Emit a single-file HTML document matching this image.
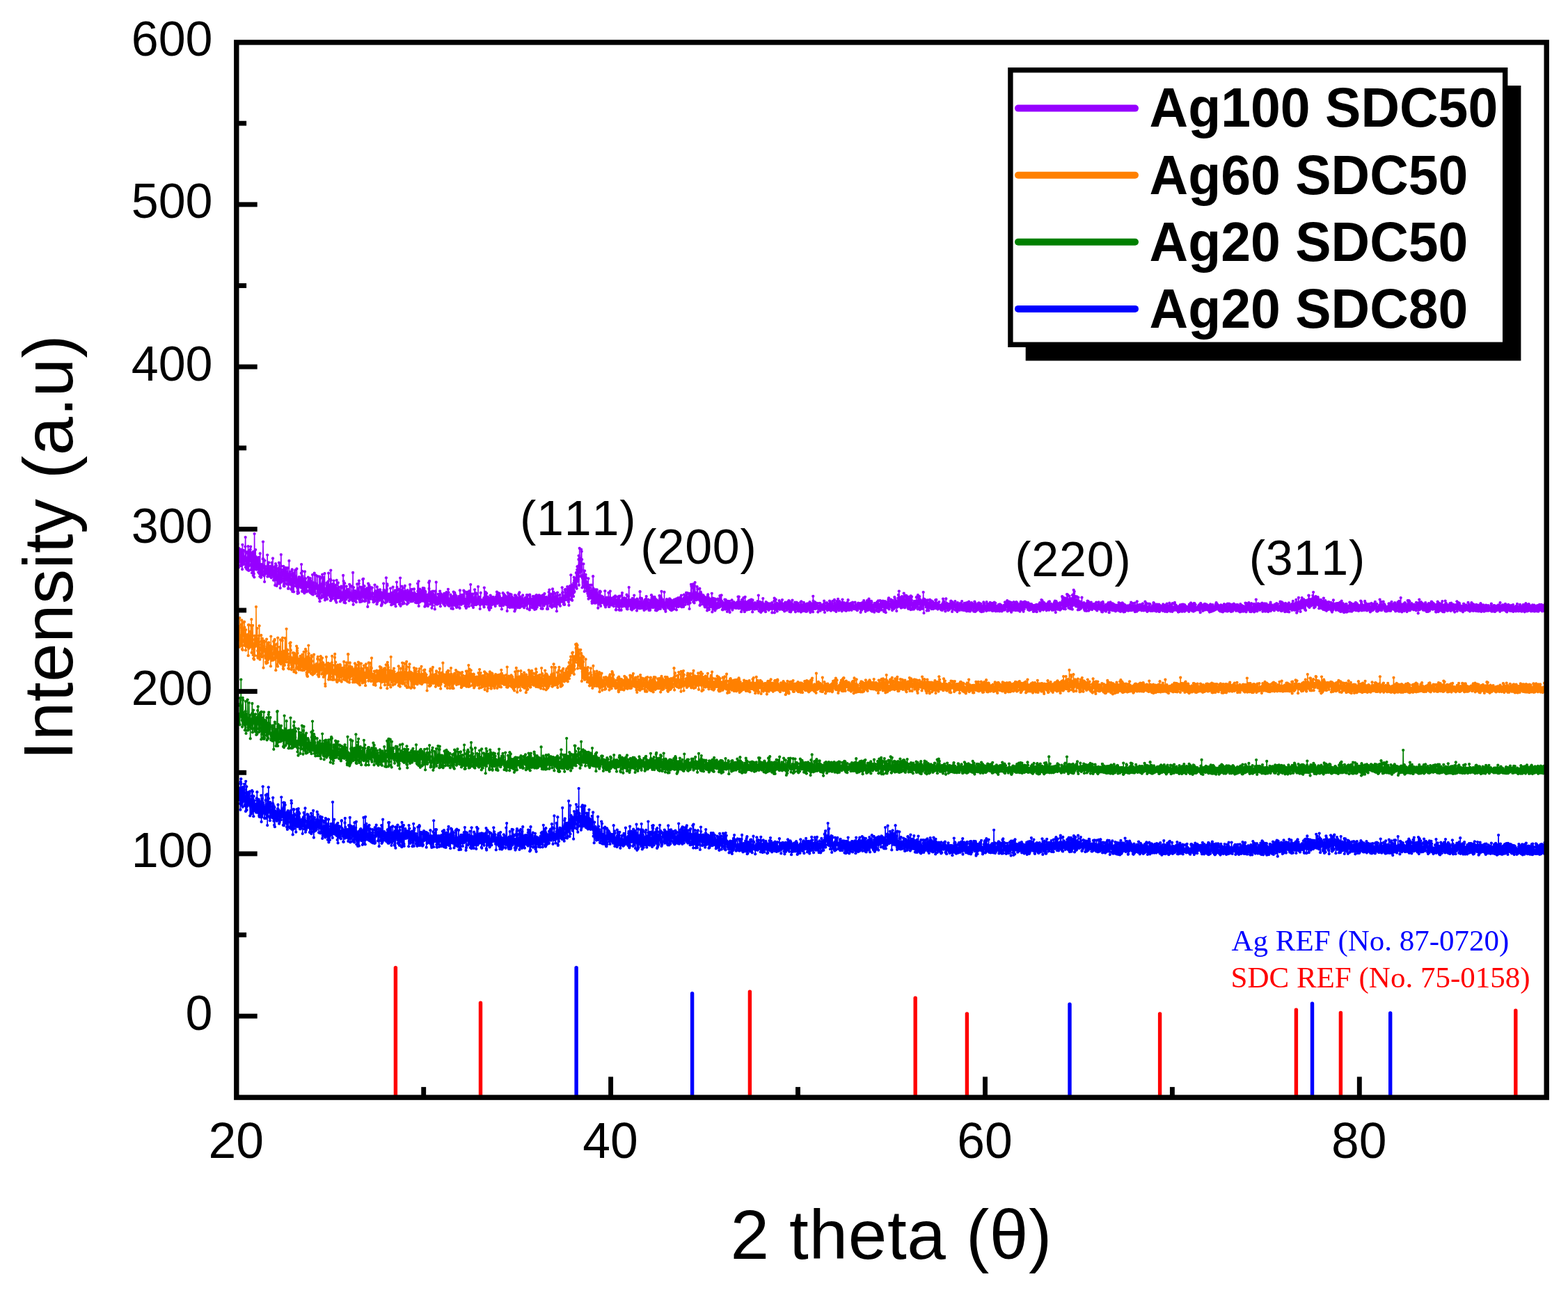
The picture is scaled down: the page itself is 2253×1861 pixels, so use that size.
<!DOCTYPE html>
<html lang="en"><head><meta charset="utf-8"><title>XRD patterns</title>
<style>html,body{margin:0;padding:0;background:#fff}body{width:2253px;height:1861px;overflow:hidden}svg{display:block}text{font-kerning:none;white-space:pre}</style></head>
<body>
<svg width="2253" height="1861" viewBox="0 0 2253 1861">
<defs>
<marker id="m0" markerUnits="userSpaceOnUse" markerWidth="80" markerHeight="80" refX="40" refY="40" overflow="visible"><circle cx="40" cy="40" r="21" fill="#9600ff"/></marker>
<marker id="m1" markerUnits="userSpaceOnUse" markerWidth="80" markerHeight="80" refX="40" refY="40" overflow="visible"><circle cx="40" cy="40" r="21" fill="#ff8000"/></marker>
<marker id="m2" markerUnits="userSpaceOnUse" markerWidth="80" markerHeight="80" refX="40" refY="40" overflow="visible"><circle cx="40" cy="40" r="21" fill="#008000"/></marker>
<marker id="m3" markerUnits="userSpaceOnUse" markerWidth="80" markerHeight="80" refX="40" refY="40" overflow="visible"><circle cx="40" cy="40" r="21" fill="#0000ff"/></marker>
<clipPath id="cp"><rect x="339.8" y="60.9" width="1882.4" height="1516.2"/></clipPath>
</defs>
<rect width="2253" height="1861" fill="#fff"/>
<g stroke-width="5.4" stroke-linecap="round">
<line x1="568.4" y1="1577.1" x2="568.4" y2="1390.6" stroke="#ff0000"/>
<line x1="690.5" y1="1577.1" x2="690.5" y2="1441.2" stroke="#ff0000"/>
<line x1="828.1" y1="1577.1" x2="828.1" y2="1390.6" stroke="#0000ff"/>
<line x1="994.6" y1="1577.1" x2="994.6" y2="1427.7" stroke="#0000ff"/>
<line x1="1077.4" y1="1577.1" x2="1077.4" y2="1425.1" stroke="#ff0000"/>
<line x1="1315.2" y1="1577.1" x2="1315.2" y2="1434.2" stroke="#ff0000"/>
<line x1="1389.4" y1="1577.1" x2="1389.4" y2="1456.9" stroke="#ff0000"/>
<line x1="1537.0" y1="1577.1" x2="1537.0" y2="1443.1" stroke="#0000ff"/>
<line x1="1666.6" y1="1577.1" x2="1666.6" y2="1456.9" stroke="#ff0000"/>
<line x1="1862.4" y1="1577.1" x2="1862.4" y2="1451.3" stroke="#ff0000"/>
<line x1="1885.5" y1="1577.1" x2="1885.5" y2="1442.2" stroke="#0000ff"/>
<line x1="1926.4" y1="1577.1" x2="1926.4" y2="1455.5" stroke="#ff0000"/>
<line x1="1997.7" y1="1577.1" x2="1997.7" y2="1455.9" stroke="#0000ff"/>
<line x1="2177.8" y1="1577.1" x2="2177.8" y2="1452.2" stroke="#ff0000"/>
</g>
<g clip-path="url(#cp)"><g fill="none" stroke-width="16" stroke-linejoin="round" transform="scale(0.1)">
<path stroke="#0000ff" marker-start="url(#m3)" marker-mid="url(#m3)" marker-end="url(#m3)" d="M3398,11459l3-95 2-113 3 172 3 97 2-235 3 5 3 33 3 167 2-55 3-52 3-119 2 58 3 173 3-161 2 112 3-85 3 123 2-103 3 168 3-135 2 223 3-404 3 239 3-279 2 69 3 154 3 156 2-135 3-105 3 75 2 1 3 118 3 71 2-281 3 46 3-51 2 23 3 164 3 18 3-54 2-114 3-80 3 128 2 106 3 77 3-21 2-110 3 48 3 163 2-431 3 253 3 62 3-48 2-191 3 337 3-50 2-41 3-159 3 89 2-25 3-68 3 135 2 35 3-157 3 171 2-81 3-82 3 130 3-65 2-73 3-26 3 349 2-238 3 105 3-94 2 27 3-32 3 18 2 162 3-231 3 254 3-164 2-169 3 291 3-211 2-66 3 287 3-214 2 84 3-21 3 221 2-290 3 182 3-5 2-19 3-1 3-94 3 146 2-54 3 10 3 32 2 5 3-90 3 22 2 99 3-58 3 56 2-201 3 3 3-93 2 264 3-137 3 23 3-12 2 159 3-91 3-47 2 74 3-126 3 95 2 133 3 21 3-181 2 122 3-160 3 97 3-24 2 51 3 91 3 8 2-128 3-183 3 380 2-153 3 3 3 78 2-29 3-235 3 159 2 0 3-331 3 234 3 28 2 118 3-94 3 31 2 47 3-12 3-59 2 161 3 2 3-158 2 0 3 93 3-193 3-74 2 193 3-29 3-28 2 197 3-138 3 87 2-124 3-171 3 447 2-211 3-42 3 121 2-51 3-116 3-249 3 163 2 151 3 1 3-97 2 51 3 74 3 96 2 40 3-142 3-119 2 27 3 99 3 72 2-23 3 0 3 40 3-39 2-117 3 71 3-15 2 84 3 17 3-201 2-83 3 99 3 198 2-123 3 161 3-77 3-130 2 266 3-250 3 156 2 119 3-149 3-18 2-61 3 27 3 21 2-11 3 32 3-43 2 63 3 33 3 22 3-105 2-32 3 84 3-122 2 149 3-208 3 155 2-85 3 75 3-20 2 7 3 141 3-152 3 131 2-27 3-117 3 54 2 24 3-95 3 84 2-34 3 77 3-128 2-199 3 223 3 43 2-52 3-45 3 31 3 79 2 6 3-109 3 227 2-151 3-174 3 66 2 94 3 170 3-30 2-265 3-31 3 216 2 10 3-196 3 244 3-90 2 48 3-85 3 28 2 35 3 86 3 3 2 51 3-96 3-119 2 247 3-229 3 104 3-143 2 100 3 134 3-160 2-11 3-35 3 85 2-65 3 24 3-5 2 98 3 83 3-222 2 203 3-195 3-35 3 97 2 152 3-393 3 36 2 374 3-47 3-125 2-24 3 21 3 183 2 70 3-182 3 18 2-108 3-94 3 9 3 214 2 57 3-209 3 155 2-143 3 57 3 46 2 52 3-93 3-1 2 102 3 83 3-241 3 114 2 36 3-235 3 45 2 99 3 83 3 21 2-155 3 60 3-144 2 24 3-43 3 256 2-206 3 121 3-43 3 105 2-164 3 105 3 109 2 11 3-42 3-39 2 60 3-83 3 25 2 67 3-128 3 101 3-38 2 27 3-79 3 73 2 122 3-143 3 14 2-74 3-30 3-5 2 128 3-192 3 110 2 124 3-157 3-42 3 188 2-115 3-173 3 306 2 38 3-85 3 40 2 14 3-35 3-26 2-67 3 93 3-71 2 70 3-190 3 96 3-38 2-31 3-18 3 183 2-125 3 89 3-4 2-43 3 8 3 72 2 71 3-222 3 88 3 46 2-69 3 109 3-103 2 158 3-280 3 294 2-127 3 55 3-186 2 130 3 14 3 30 2-15 3 70 3-109 3-195 2 123 3 90 3 175 2-121 3 23 3 9 2-200 3 175 3-70 2-35 3 80 3 20 3-50 2 67 3-5 3-148 2 123 3 15 3-35 2-81 3-137 3 167 2 15 3-74 3-72 2 180 3-86 3 88 3-77 2 158 3-99 3-3 2 33 3-106 3 82 2-16 3-124 3 20 2 221 3-104 3 84 2-54 3 11 3-135 3 142 2-21 3-154 3 51 2 255 3-87 3 47 2-26 3-9 3 33 2-100 3-33 3-77 3 21 2 152 3 12 3-62 2-46 3 90 3 70 2-7 3-269 3 270 2-36 3 13 3-231 2 234 3-107 3-44 3 134 2-107 3-42 3 226 2-206 3 99 3 14 2-199 3 0 3 329 2-32 3-52 3 17 3-116 2 88 3 61 3-159 2 13 3-51 3 117 2-151 3 163 3-70 2 12 3 14 3 22 2-53 3-90 3 142 3 61 2-514 3 356 3 63 2-91 3 20 3-26 2 121 3-105 3-88 2 208 3-18 3-17 2-72 3 107 3-28 3 32 2-117 3-1 3 69 2 56 3-144 3 157 2-52 3-18 3 13 2 118 3-109 3-133 3 286 2-169 3-76 3 23 2 119 3-34 3 60 2-148 3 92 3-5 2-101 3 152 3-40 2-16 3-28 3 45 3 66 2-96 3 22 3-181 2-7 3 106 3 54 2 21 3-53 3 43 2 55 3-96 3 28 3 145 2 5 3-107 3-41 2 26 3 37 3-31 2 64 3-224 3-65 2 167 3-38 3 35 2 69 3 48 3-115 3 84 2-21 3 27 3-6 2-88 3 16 3-1 2-14 3 113 3-95 2 149 3-40 3-72 2-116 3 175 3 16 3 2 2-48 3-77 3-180 2 111 3 244 3-122 2 63 3 4 3-175 2 3 3 101 3 13 3-17 2-40 3 157 3-136 2-52 3 116 3-79 2 66 3-69 3-62 2 205 3-16 3 11 2-7 3 38 3-284 3 187 2-76 3 127 3-113 2 51 3-103 3 158 2-111 3-134 3 231 2 96 3-55 3-104 2 6 3 6 3-19 3 190 2-34 3 23 3-141 2 86 3-84 3-60 2 207 3-132 3 41 2-3 3-69 3 24 3-95 2 98 3-14 3-94 2 91 3 49 3 29 2-104 3-44 3 85 2-59 3 31 3 150 2-64 3-129 3 117 3-104 2 109 3-320 3 194 2 181 3-205 3 148 2-107 3-101 3 96 2-28 3 208 3-397 3 327 2 1 3-151 3 118 2-195 3 52 3 171 2-150 3-29 3 144 2 24 3 0 3-36 2 3 3 51 3-83 3-113 2 201 3-140 3-74 2 219 3-84 3 31 2 61 3-174 3 52 2 58 3-23 3 37 2 29 3-26 3-37 3 103 2-61 3 27 3-25 2-124 3 77 3-29 2 145 3-64 3-124 2 79 3 77 3-18 3 25 2-45 3 70 3 4 2-33 3-194 3 219 2-145 3 55 3-2 2-16 3-41 3-105 2 146 3-86 3 67 3-30 2 3 3 13 3 9 2 14 3 91 3-177 2 173 3-173 3 82 2 91 3 82 3-158 3-38 2 25 3-82 3 71 2-40 3 68 3 72 2-50 3-59 3-42 2 150 3-218 3 259 2-71 3-44 3 98 3-43 2-115 3-168 3 231 2-30 3 24 3-14 2 88 3-106 3 7 2-25 3 63 3 7 2-16 3 47 3 22 3-58 2-30 3 32 3-21 2 19 3 33 3 45 2-127 3 69 3-24 2-24 3-60 3-9 3 137 2 60 3-47 3-248 2 282 3-177 3 190 2-297 3 102 3-23 2 58 3 88 3 56 2-108 3-71 3 29 3 16 2 35 3-117 3 265 2-68 3-104 3 133 2-46 3-66 3 36 2-161 3 92 3 43 3-23 2 101 3-6 3-116 2 70 3-51 3 154 2-173 3 188 3-213 2 95 3-148 3 300 2-235 3 84 3-40 3-109 2 155 3-25 3 29 2-111 3 56 3 80 2-215 3 262 3-133 2 27 3-56 3 0 2 168 3-175 3 97 3 101 2-62 3-200 3 43 2 221 3-158 3 49 2 43 3-56 3-42 2-7 3 117 3-16 3 93 2-353 3 59 3 123 2 43 3-152 3 249 2-154 3 45 3-29 2-144 3 145 3 125 2 31 3-128 3-40 3 3 2 51 3-77 3-58 2 30 3 109 3-76 2 54 3-20 3-27 2-40 3 28 3 75 2-66 3 49 3-76 3 21 2 11 3 10 3 18 2-71 3 223 3-302 2 84 3 143 3-183 2 213 3-118 3-24 3 109 2 32 3-15 3-99 2 29 3-73 3 52 2 45 3-26 3-57 2-26 3 114 3 102 2-90 3-13 3 12 3 35 2-97 3-172 3 159 2 162 3-229 3 70 2-96 3 103 3 36 2-63 3 79 3-21 3 43 2-39 3 85 3-146 2 136 3-102 3 4 2 0 3 139 3-77 2-11 3 83 3-268 2 262 3-34 3-23 3-49 2 29 3-22 3 32 2-218 3 15 3 270 2 2 3-114 3-75 2 29 3 34 3 45 2-75 3 114 3-147 3 129 2 46 3-19 3-38 2 69 3 10 3-65 2-127 3 177 3-154 2 70 3-14 3-104 3 74 2 26 3 40 3-23 2-68 3 80 3-20 2-11 3-28 3-51 2 108 3-41 3-4 2 155 3-188 3-22 3 154 2-89 3-24 3-10 2 67 3-89 3 86 2-59 3 62 3 45 2-15 3-24 3-59 3 36 2 34 3-50 3 76 2-33 3-143 3 196 2-120 3 26 3-13 2 44 3 93 3 21 2-129 3 39 3 38 3-6 2-54 3-38 3 27 2-103 3 60 3 159 2-379 3 298 3-75 2-46 3 108 3-27 2 41 3-3 3-24 3-143 2 82 3 71 3-62 2 82 3-173 3 216 2 34 3-124 3 129 2-90 3 12 3-86 3 114 2-51 3-60 3 115 2-43 3-4 3 5 2-79 3 158 3-21 2-60 3-48 3 14 2-14 3 35 3-23 3-20 2 7 3 122 3-158 2 159 3-92 3 17 2-40 3 92 3-191 2 190 3-113 3-71 3 102 2 109 3-215 3 28 2-45 3 232 3-122 2 132 3-142 3 115 2-84 3-88 3 103 2-82 3 183 3-166 3-2 2-45 3 177 3-159 2 48 3 71 3-121 2 144 3-17 3-187 2 214 3-42 3-215 2 157 3 48 3 67 3-44 2-74 3 118 3-27 2-128 3 39 3 157 2-88 3-123 3-74 2 120 3-41 3 126 3-193 2 185 3-78 3 24 2-96 3 0 3 119 2-21 3 68 3-71 2-46 3-35 3 71 2 146 3-127 3 35 3 15 2 46 3-107 3 39 2-15 3-136 3 217 2-126 3 19 3-114 2 170 3-186 3 193 2-62 3 108 3-94 3 106 2-43 3-70 3-15 2 1 3-108 3 199 2 82 3-119 3 20 2-84 3-4 3 79 3-8 2 81 3-113 3-1 2 145 3-210 3 3 2 46 3 66 3-3 2-65 3 16 3-63 2 47 3 115 3-159 3 95 2-42 3 47 3 12 2-32 3-119 3 140 2-34 3-66 3-112 2 188 3-2 3-7 3-110 2 72 3 188 3-192 2 155 3-179 3 67 2 4 3 0 3-105 2 66 3 4 3-41 2 148 3-82 3-22 3 19 2 65 3-30 3-98 2 127 3-2 3-51 2-24 3-103 3 235 2-97 3-59 3 109 2-102 3-15 3 177 3-300 2 159 3 44 3-69 2 156 3-159 3 18 2 28 3 8 3 106 2-31 3-129 3 165 3-232 2 158 3 17 3-94 2-56 3 99 3-37 2-2 3-30 3-7 2 133 3 5 3 56 2-73 3-57 3-180 3 130 2 63 3-48 3 110 2-84 3-152 3 150 2-16 3 82 3-49 2 15 3-70 3-5 3-29 2 126 3-51 3-80 2 39 3 62 3-95 2 124 3-38 3 32 2-48 3 119 3-202 2 214 3-200 3 141 3-71 2 24 3 36 3-61 2-63 3-13 3 83 2-69 3 116 3 37 2-129 3 77 3-3 2-2 3 2 3-37 3-58 2-11 3-14 3 112 2-184 3 293 3 22 2-189 3 51 3 23 2 47 3-216 3 185 3-43 2-12 3-30 3 83 2-6 3-90 3 85 2 44 3-189 3 135 2 81 3-19 3-28 2-69 3-3 3 69 3-62 2-89 3 105 3 23 2 42 3-109 3-20 2 61 3-9 3-26 2-44 3 64 3-10 3 38 2-36 3-160 3 174 2-4 3-110 3 79 2 53 3-60 3 65 2-98 3 78 3 58 2-27 3-19 3 131 3-164 2 79 3-57 3-34 2 22 3 20 3-44 2 39 3 64 3-67 2-71 3 59 3 0 2-84 3 107 3-27 3 108 2-48 3-49 3 12 2 124 3-192 3 29 2-79 3 128 3 43 2 38 3-133 3 39 3 94 2 37 3-133 3 113 2 8 3-24 3-126 2 38 3 9 3-8 2 92 3-181 3 47 2 52 3-48 3 23 3 65 2-116 3 101 3-68 2 43 3 95 3-68 2-12 3-212 3 185 2 51 3-301 3 215 3 66 2 4 3 32 3-6 2-50 3-13 3 86 2 16 3-142 3 161 2-64 3-109 3 43 2 129 3-122 3-127 3 163 2-63 3-13 3 161 2-178 3 165 3-118 2 29 3 47 3-62 2-162 3 229 3-10 2-60 3 60 3-215 3 191 2-48 3 20 3 4 2-95 3 16 3 89 2 16 3-56 3 126 2-91 3-31 3 152 3-36 2 3 3 8 3-187 2 179 3-204 3 152 2-189 3-30 3 212 2-122 3-12 3 152 2 11 3-65 3-1 3-43 2 96 3-44 3-17 2-141 3 271 3-228 2 164 3-77 3 45 2-60 3 115 3-250 2 238 3-81 3 41 3-135 2 126 3 83 3-84 2-156 3 132 3 80 2-280 3 205 3-72 2 40 3 60 3 58 3-85 2-51 3 82 3-15 2 83 3-184 3 98 2 31 3-104 3 73 2 1 3 1 3-17 2-3 3-83 3 122 3 11 2 5 3-71 3-32 2 41 3 80 3-194 2-36 3 168 3 7 2 20 3 14 3-75 3 23 2-151 3 301 3-149 2-89 3 70 3 152 2-335 3 281 3-33 2-134 3 33 3 89 2-78 3-28 3 41 3 57 2-24 3 44 3-164 2 211 3-83 3 14 2-40 3-22 3 34 2 0 3-2 3 96 2-125 3-34 3-37 3 141 2 87 3-172 3 140 2-141 3 205 3-212 2 102 3-72 3-9 2 22 3-8 3 56 3-72 2 11 3 84 3-100 2 4 3 126 3-120 2 71 3-46 3 58 2-18 3-15 3-1 2 76 3-47 3-115 3 80 2 38 3-160 3 134 2-86 3 104 3 5 2-87 3-85 3 174 2 43 3-177 3 102 3-135 2-105 3 146 3 88 2-51 3-56 3 107 2-174 3 96 3 134 2-71 3 0 3-118 2 207 3-264 3 73 3 169 2-51 3 29 3-85 2 71 3-14 3-98 2 19 3 12 3 99 2-24 3-109 3 73 2 45 3-40 3 48 3-167 2-8 3 90 3-33 2-34 3 69 3-104 2-17 3 127 3 35 2-47 3-46 3-32 3-34 2-76 3 202 3-153 2 118 3 47 3-51 2 124 3-102 3-54 2 16 3 9 3 73 2-168 3-179 3 310 3-18 2 31 3 25 3-84 2 70 3 58 3-85 2 2 3-25 3-23 2-156 3 123 3 97 3-104 2-34 3 120 3-289 2 387 3 20 3-190 2 99 3-69 3 65 2 36 3-89 3-68 2-4 3 74 3-108 3 29 2 100 3-115 3 51 2-54 3 40 3 69 2 31 3-65 3-18 2-24 3 122 3-48 2-404 3 295 3 122 3-151 2 61 3-58 3 170 2-47 3 49 3 37 2-119 3-177 3 53 2-80 3 144 3-4 3-70 2 208 3-68 3-130 2-13 3 120 3-64 2-25 3 13 3 171 2-191 3 161 3-96 2-95 3 85 3 40 3-39 2-400 3 441 3 1 2-65 3-28 3 161 2-192 3 25 3-278 2 409 3-197 3 86 2-106 3-49 3 42 3 139 2-165 3 16 3 160 2-150 3 13 3 164 2-155 3 73 3-46 2 75 3 172 3-234 3-69 2-94 3 84 3 137 2-153 3 172 3-122 2 65 3-70 3 63 2-131 3-12 3-132 2 204 3-98 3-16 3 111 2 154 3-56 3 30 2-97 3 165 3-283 2-79 3 278 3-136 2-407 3 355 3 28 3-23 2 124 3-32 3 83 2-125 3 28 3-37 2 138 3-12 3 70 2-123 3 96 3-306 2 140 3 142 3-21 3-12 2-272 3 46 3 140 2-123 3 114 3 123 2-58 3 45 3-75 2-201 3 278 3-68 2 26 3-238 3 258 3-98 2 43 3-9 3 117 2-30 3 5 3-42 2-140 3 163 3 50 2-85 3-101 3 96 3 83 2 25 3-231 3 144 2 78 3-152 3 105 2-225 3 205 3-30 2 77 3-22 3-36 2-60 3 122 3 29 3-135 2 12 3 88 3-39 2 8 3 56 3-24 2-158 3 145 3-87 2 100 3-74 3-138 3 255 2 88 3-121 3 76 2-80 3 221 3-169 2-129 3 99 3 132 2-115 3 75 3-50 2-75 3 105 3-64 3-17 2 171 3-51 3-72 2-44 3 57 3 89 2-20 3-24 3-274 2 260 3 72 3-62 2-130 3 133 3 26 3-95 2-19 3 44 3 33 2 109 3 3 3-151 2 6 3 33 3-14 2 63 3-30 3-213 3 187 2 93 3-250 3 290 2-93 3-7 3 49 2-49 3-34 3 136 2-135 3 15 3-107 2 166 3 59 3-125 3 62 2 56 3-232 3 21 2 195 3 24 3-79 2 98 3-128 3 143 2 5 3-136 3-126 3 203 2 29 3-169 3-37 2 62 3 72 3-34 2-88 3 89 3-83 2 83 3-71 3 6 2 131 3-93 3 18 3 108 2-143 3 50 3-49 2 58 3-34 3 34 2 34 3-31 3-54 2 76 3 24 3-80 2 70 3-93 3 47 3 62 2 18 3-48 3-208 2 236 3-27 3-25 2 58 3-160 3 217 2-188 3 67 3 87 3 4 2-34 3-29 3 88 2-21 3-61 3-35 2 84 3 48 3-245 2 84 3 145 3-198 2 52 3 115 3-130 3 15 2 111 3-2 3 22 2-130 3 82 3-134 2 101 3 53 3-22 2 98 3-39 3-33 2-50 3 24 3-41 3 82 2-44 3-76 3-1 2 55 3 71 3-63 2 20 3 10 3 54 2-2 3-42 3-114 3-20 2 122 3 42 3-150 2 106 3-42 3 45 2-56 3 7 3-156 2 223 3-15 3-69 2 74 3-21 3-46 3 18 2 38 3 37 3-95 2 80 3-70 3-33 2 135 3-15 3-161 2-27 3 107 3-4 3 130 2-115 3-69 3-122 2 106 3 171 3-149 2 16 3 26 3 30 2-124 3 146 3-152 2 147 3-42 3 10 3-15 2-46 3 28 3-61 2 193 3-199 3-45 2 228 3-127 3-3 2 105 3-155 3 90 2-32 3-31 3-50 3 249 2-89 3-46 3 39 2-28 3 5 3-225 2 127 3 4 3 240 2-215 3 116 3-41 3-42 2 164 3-286 3 164 2 103 3-144 3 28 2 45 3-13 3-32 2-59 3 99 3 32 2-79 3-135 3 206 3-63 2-89 3 67 3 120 2-323 3 190 3 45 2-41 3 170 3-58 2-222 3 139 3-62 3 46 2-101 3 233 3-88 2 14 3-67 3 95 2-9 3 7 3-62 2 73 3-115 3 77 2-142 3 66 3-100 3 102 2 56 3 55 3 35 2-78 3-23 3-62 2 56 3 67 3-53 2-22 3-256 3 161 2 145 3-120 3 148 3-57 2-93 3 156 3-10 2-178 3 16 3 70 2 60 3 41 3-71 2 19 3-10 3 37 3-125 2-5 3-37 3 217 2-305 3 30 3 148 2-141 3 230 3-270 2 178 3-5 3 111 2-7 3-117 3 66 3-114 2-9 3 8 3-8 2 113 3 28 3-23 2-130 3 111 3 55 2-200 3 85 3 87 3 98 2-287 3 48 3 63 2 156 3-170 3 134 2-75 3-24 3 104 2-143 3 65 3-65 2 7 3-40 3-104 3 93 2 126 3-107 3-28 2 164 3-56 3 20 2 26 3 63 3-33 2-19 3 30 3-174 2 10 3 50 3-52 3 44 2-17 3 10 3 85 2-127 3 70 3 56 2-25 3-141 3 140 2 51 3-97 3-54 3 69 2-30 3-55 3 113 2 47 3-68 3 58 2-138 3 113 3-39 2-74 3 110 3 61 2 10 3-138 3-141 3 158 2-18 3 63 3-130 2 208 3-82 3 55 2-189 3 162 3-54 2 2 3 87 3-44 3-87 2-71 3 112 3-73 2 70 3-10 3 4 2 64 3-57 3-4 2 3 3-42 3-43 2 60 3 19 3 87 3-70 2-10 3 74 3-91 2 117 3-102 3-52 2-7 3-38 3 134 2 48 3-23 3 16 2-72 3-11 3 29 3-19 2-76 3 117 3 22 2-7 3 26 3-73 2-41 3 73 3 39 2-281 3 206 3 85 3-163 2 103 3-88 3 107 2-158 3 93 3-33 2 58 3-84 3 140 2-71 3 30 3-154 2 205 3-122 3 30 3 109 2-246 3 153 3-44 2 109 3-211 3 187 2-131 3 17 3 151 2-178 3 118 3 11 2-65 3 74 3-148 3 81 2-113 3 143 3 36 2-25 3-12 3-149 2 208 3-231 3 116 2 50 3 18 3 17 3 51 2-80 3-103 3 167 2-126 3 136 3-61 2-66 3 41 3 32 2 56 3-108 3-75 2 214 3-118 3-115 3 133 2-18 3-15 3 4 2-23 3 146 3-41 2-35 3 74 3-96 2-8 3-168 3 196 3-9 2 136 3-340 3 222 2-7 3-75 3 45 2 67 3-96 3 129 2-201 3 59 3 117 2-77 3 157 3-94 3-65 2-43 3-11 3 182 2-120 3 28 3 119 2-242 3 55 3 98 2-159 3 205 3-54 2 11 3-24 3-53 3 62 2-27 3-35 3 115 2-136 3 212 3-204 2 32 3 20 3-173 2 66 3 128 3-73 3 84 2-87 3 70 3 79 2-46 3 38 3-138 2 140 3-151 3 25 2 84 3-48 3 26 2-2 3-5 3 12 3 53 2-137 3 38 3 136 2-75 3-22 3-108 2-51 3 154 3-40 2 105 3-73 3-34 3 48 2-78 3-7 3 126 2 7 3-87 3-39 2 121 3-89 3 62 2 90 3-75 3-33 2 103 3-87 3-58 3-1 2 63 3-87 3 53 2 89 3-124 3-60 2 20 3 104 3 54 2-167 3 7 3 62 2 102 3-131 3 109 3-157 2 1 3 147 3-39 2 60 3-15 3-23 2-33 3 43 3-113 2 39 3 90 3-69 3 49 2-21 3 27 3 78 2-33 3-87 3 98 2-69 3-8 3-79 2 166 3-20 3-14 2-125 3 4 3 106 3-47 2-25 3 116 3-11 2 52 3-125 3 123 2-237 3 69 3 2 2-17 3 89 3-91 3 29 2 83 3-130 3 133 2 60 3-62 3-28 2-59 3 113 3-4 2-2 3 0 3-189 2 142 3-29 3 8 3-63 2 73 3-75 3 167 2-197 3 101 3 42 2 27 3 36 3 7 2-244 3 111 3 11 2-10 3-74 3 76 3 47 2-43 3 47 3-17 2-14 3 69 3-24 2 7 3 44 3-89 2 43 3-52 3 152 3-58 2-48 3 34 3-58 2 68 3-106 3 71 2-29 3 119 3-43 2-98 3 11 3 8 2 86 3 27 3 31 3-177 2 70 3-3 3 65 2-141 3 13 3 6 2-45 3-14 3 156 2-27 3-171 3 164 2-19 3-64 3 33 3-47 2 17 3-4 3 80 2 61 3 5 3-74 2 17 3-13 3 36 2 2 3-46 3-96 3 94 2-13 3 13 3 33 2 39 3-28 3-5 2-21 3-3 3 65 2-168 3 20 3 86 2 2 3-25 3-10 3-64 2 106 3 26 3 19 2-29 3-130 3 149 2-210 3 146 3 20 2 26 3 26 3 28 3-87 2-32 3 42 3 2 2 10 3-62 3 104 2-12 3-21 3-7 2-22 3 74 3-30 2-120 3 36 3 75 3 8 2-74 3-78 3 49 2 135 3-213 3 250 2-99 3 46 3 41 2-145 3-13 3 59 2-32 3 77 3-63 3 57 2-94 3 65 3 13 2 51 3-132 3 13 2-45 3 88 3-90 2 152 3-154 3 165 3-22 2 20 3-47 3 70 2-76 3-38 3 29 2-34 3-36 3-6 2-75 3 174 3-22 2-67 3 102 3-26 3-10 2-1 3 22 3 7 2 77 3-82 3-32 2 56 3-70 3 33 2-46 3 55 3-154 3 46 2 121 3 8 3 8 2 0 3-82 3-18 2-38 3-7 3 99 2-57 3 69 3-22 2 38 3-18 3-8 3-58 2 34 3-13 3 108 2-168 3-47 3 138 2-78 3 78 3 38 2-22 3 30 3-43 2-37 3 119 3-22 3-76 2 10 3-90 3 52 2 96 3-29 3-35 2-48 3 136 3-57 2-25 3 10 3-31 3-27 2 33 3-60 3 119 2-11 3-35 3-47 2 69 3-41 3-4 2 125 3-133 3 53 2 72 3-60 3-13 3 24 2-39 3 15 3-30 2 53 3-78 3-45 2 27 3 115 3-45 2 1 3-139 3 146 3-47 2-53 3 129 3-74 2 65 3-89 3 127 2-23 3 13 3-122 2 89 3-43 3 3 2-38 3 38 3 37 3-87 2 64 3-52 3 51 2-38 3 93 3-117 2-16 3 133 3-67 2 47 3-41 3-35 2 94 3-116 3 128 3-128 2 42 3 52 3-100 2-2 3 102 3-24 2 40 3-36 3 45 2-18 3 13 3-61 3 40 2-153 3 151 3-43 2 43 3 2 3-82 2-3 3 93 3-84 2 135 3-148 3 89 2-14 3-46 3 24 3-9 2 9 3 1 3-62 2 25 3 21 3 5 2 17 3 17 3 42 2-48 3-26 3 80 2 32 3-159 3 93 3-65 2-18 3 106 3 9 2-131 3 57 3 46 2-61 3 4 3 44 2-36 3 54 3-99 3 38 2-91 3 146 3-4 2 10 3-122 3 73 2-52 3 0 3 123 2-44 3-66 3 34 2 8 3-87 3 104 3-88 2 80 3-70 3 72 2 101 3-99 3 52 2 6 3-108 3 67 2-29 3 66 3-31 3 21 2-43 3-18 3-45 2 42 3-7 3 79 2-57 3-64 3 37 2 63 3-21 3-54 2 53 3-79 3 121 3-126 2-16 3 103 3-22 2-53 3-1 3 26 2 134 3-130 3-2 2 60 3 57 3-24 2-84 3 17 3 29 3-25 2 33 3-46 3 59 2-71 3 107 3-123 2-11 3-62 3 109 2-35 3 18 3 46 3 21 2-50 3-27 3-3 2 26 3 14 3 48 2-133 3 92 3-69 2-31 3 71 3-77 2 44 3 135 3-158 3 98 2-2 3-84 3 49 2-17 3-25 3 69 2 7 3-150 3 131 2 5 3-96 3 9 3 37 2 29 3 81 3-97 2 29 3 46 3-45 2-44 3-45 3 64 2-36 3-11 3 39 2 50 3 71 3-33 3-33 2-84 3 35 3-54 2 56 3-70 3 23 2 101 3-105 3-73 2 78 3 114 3-54 2-94 3 90 3 25 3-6 2-30 3-18 3 31 2 88 3-101 3 1 2-37 3 32 3-31 2-84 3 108 3 18 3-92 2 124 3 23 3 3 2-29 3-8 3-65 2 22 3 9 3-117 2 73 3 12 3 60 2 25 3-23 3 46 3-81 2 38 3-4 3 77 2-12 3-58 3-98 2 42 3 7 3 39 2 3 3 11 3 68 3-76 2-47 3 5 3-38 2-49 3 77 3 0 2 18 3 82 3-86 2-34 3 28 3 38 2-47 3-46 3 139 3-91 2 50 3-104 3 32 2-114 3 182 3-136 2-61 3 109 3-143 2 234 3-83 3-51 2 31 3 0 3-64 3 24 2 34 3-16 3-24 2 115 3-3 3-309 2 302 3-21 3-191 2 148 3 51 3-211 3 148 2 99 3-125 3 59 2 46 3 6 3 61 2-49 3-99 3 57 2 36 3-135 3 59 2-29 3 207 3-106 3-124 2 22 3 98 3 44 2-58 3 67 3-23 2-31 3-9 3 13 2-21 3 93 3-26 3-87 2 125 3-190 3 149 2-57 3-22 3 107 2-124 3 122 3-160 2 77 3-48 3 41 2 17 3-6 3-93 3 98 2-13 3 13 3 63 2-74 3 3 3 33 2 21 3-49 3-18 2-7 3 29 3-67 2 114 3 37 3-164 3 116 2-4 3-81 3 63 2-42 3 93 3-44 2 33 3-35 3 65 2-74 3 15 3-80 3 25 2 51 3-49 3 52 2 20 3 3 3 8 2-107 3 170 3-93 2-8 3-14 3-5 2 56 3-40 3 110 3-65 2-84 3-25 3 144 2-82 3 96 3-29 2 33 3-110 3 80 2-114 3-70 3 77 2 64 3-66 3 93 3-63 2 123 3-155 3 31 2 65 3-46 3-41 2 79 3 39 3-35 2 6 3-74 3 39 3 25 2-51 3-55 3 101 2 7 3-108 3 153 2-78 3 23 3-18 2-2 3-44 3-25 2 59 3 50 3-49 3-25 2 73 3-124 3 118 2 24 3-19 3 55 2-114 3-44 3-67 2 138 3-45 3 54 3-76 2 48 3 79 3-34 2-68 3-42 3 114 2 35 3-55 3-98 2 67 3-23 3 16 2-82 3 166 3-195 3 131 2-10 3-40 3 90 2 6 3-14 3-114 2 65 3-27 3 47 2-84 3 62 3-127 2 100 3 109 3-76 3 21 2-97 3 98 3-20 2-116 3 150 3-10 2-77 3-21 3 122 2-140 3 162 3-49 3-10 2 70 3-189 3 177 2-95 3 114 3-63 2-79 3 82 3-62 2-28 3 103 3-57 2-56 3 132 3-118 3-25 2 93 3-32 3 70 2-58 3-33 3-82 2 67 3 37 3 110 2-179 3 106 3-92 3 3 2 86 3-113 3 118 2-86 3 88 3-174 2 103 3-5 3 8 2 39 3-23 3 25 2 50 3 3 3 15 3-196 2 1 3 48 3 60 2 49 3 60 3-164 2 147 3-67 3 57 2-124 3-42 3 13 2 129 3-5 3-136 3 153 2-148 3-7 3-12 2 60 3 25 3 21 2-54 3-35 3 167 2-86 3-107 3 102 3 12 2-11 3-65 3-27 2 81 3-60 3 51 2-22 3 40 3-11 2 59 3-115 3-44 2 47 3 0 3-41 3 66 2 25 3-80 3 63 2-1 3-35 3 105 2 23 3-97 3 72 2-53 3 86 3-109 3 57 2-102 3 92 3-69 2-172 3 237 3-108 2 174 3-56 3-59 2 63 3-13 3 15 2-53 3-105 3 7 3 114 2-240 3 230 3-51 2 62 3-82 3-32 2 128 3-86 3 79 2 0 3-64 3 58 2-161 3 130 3-36 3-51 2 59 3-23 3-6 2 59 3-104 3 238 2-103 3-91 3-51 2 74 3-110 3 197 3 8 2-116 3-25 3 122 2-68 3 28 3-13 2-85 3 70 3 46 2-75 3 39 3 84 2-283 3 98 3 121 3-124 2 170 3-21 3 15 2-107 3 163 3 32 2-64 3-199 3 203 2-43 3-21 3 109 2-4 3-22 3 6 3 11 2 9 3-241 3 96 2 106 3-46 3 63 2 30 3-100 3 64 2 37 3-173 3 163 3-22 2-17 3-46 3 8 2 1 3 79 3-76 2-20 3 1 3-7 2 49 3-97 3 149 2-42 3-85 3 75 3 42 2-32 3 77 3-88 2 82 3-147 3-15 2 3 3 70 3 16 2-39 3 52 3 56 3-36 2-98 3 47 3 83 2-86 3-109 3 5 2 94 3-15 3 82 2-29 3-119 3 52 2 35 3 10 3 32 3-78 2 94 3 42 3-15 2-214 3 157 3-83 2 19 3 40 3-69 2 104 3-40 3 72 2-113 3 31 3-25 3-34 2 46 3 74 3-42 2-56 3 82 3-149 2 189 3-47 3-30 2 59 3-102 3 163 3 3 2-164 3 13 3 68 2 26 3 41 3-118 2 44 3 57 3 36 2-161 3-21 3 55 2 68 3-54 3 95 3-216 2 192 3-79 3 53 2 49 3-87 3-33 2 24 3-35 3 150 2-142 3 40 3 52 3-37 2 103 3-194 3 72 2 68 3-36 3 74 2-6 3-55 3 2 2 7 3-30 3 48 2-145 3 44 3 54 3 82 2-69 3-101 3 63 2-68 3 66 3-20 2 102 3-42 3 15 2-33 3-92 3 129 2-31 3-22 3 56 3-54 2 54 3-14 3-136 2 123 3-59 3-23 2 139 3-25 3 1 2-70 3 69 3 52 3-103 2-60 3-19 3 91 2-18 3 69 3-179 2 98 3-36 3 60 2 27 3-116 3 161 2-66 3-62 3 10 3 92 2-112 3 66 3 24 2 57 3-49 3-12 2-53 3-94 3 124 2-35 3-25 3 130 3-46 2-111 3 165 3-104 2 60 3 80 3-216 2 155 3-82 3 79 2-109 3 51 3-36 2 39 3-9 3 105 3-116 2 69 3-8 3-74 2 52 3 27 3 22 2-117 3 100 3-24 2-27 3 54 3-91 2 121 3-26 3-19 3-84 2 109 3-62 3 107 2-160 3 55 3 93 2-70 3-11 3-2 2 27 3-48 3 49 3 7 2-50 3 40 3-72 2 85 3-85 3 11 2-25 3 79 3-78 2 28 3-42 3 52 2 31 3 75 3-11 3-62 2-24 3 49 3 67 2-69 3 2 3-37 2 13 3 19 3-46 2 38 3-45 3-34 2 95 3-38 3 56 3 3 2 4 3 12 3-12 2 26 3-107 3 9 2-11 3 0 3 101 2-59 3 53 3-89 3 52 2-44 3 48 3-61 2 88 3 53 3-64 2 28 3-70 3 6 2 26 3-51 3 14 2-5 3-131 3 189 3-117 2 24 3 20 3-58 2 10 3 106 3 39 2-86 3-24 3 56 2 63 3-76 3 62 3-34 2-16 3 31 3-94 2 53 3 58 3-58 2 63 3-22 3 18 2-47 3-93 3 122 2-16 3-72 3 61 3 29 2-54 3-68 3 134 2-141 3 38 3-7 2 49 3 38 3-1 2-131 3 15 3 91 2 31 3-24 3-154 3 225 2-119 3-6 3 61 2-5 3-31 3-73 2 15 3 103 3-19 2-5 3-29 3-4 3-14 2-19 3 105 3-41 2 57 3-132 3-2 2 120 3-136 3 20 2 69 3-93 3 103 2-8 3 60 3-40 3 9 2 43 3-52 3-38 2 3 3 26 3 39 2-117 3 140 3-115 2-59 3 138 3-30 3-82 2 155 3-184 3 47 2 65 3 34 3 11 2-25 3-7 3-94 2 36 3-8 3 26 2-52 3 63 3-7 3 24 2-114 3 104 3-68 2 4 3 56 3 47 2-80 3-18 3 36 2-80 3 22 3 86 2 99 3-23 3-132 3-10 2 70 3-39 3-28 2 137 3-72 3 30 2-96 3 28 3 5 2-6 3 35 3-66 3 85 2-40 3-43 3 81 2-53 3-53 3 81 2 5 3-79 3 64 2 42 3-2 3-140 2 145 3-27 3 0 3-16 2 48 3-54 3 101 2-31 3 9 3 2 2 1 3-4 3-119 2 74 3-35 3 26 3-101 2 85 3-101 3 30 2 89 3 56 3-17 2-47 3 2 3-30 2-114 3 37 3 57 2 63 3 24 3-92 3 94 2-92 3 35 3-27 2 24 3 40 3-148 2 109 3 28 3 48 2-28 3-54 3 24 2-32 3 65 3-77 3 55 2 51 3-103 3 55 2-14 3 52 3-3 2-113 3 4 3 118 2-128 3 117 3-84 3 96 2-19 3 7 3 16 2-50 3-277 3 290 2 9 3-93 3-18 2-3 3 112 3 36 2-50 3-91 3 103 3-17 2 32 3-45 3 16 2-15 3 3 3-26 2 45 3-12 3-88 2 30 3 11 3-34 3 59 2-88 3 121 3 49 2-159 3 127 3-126 2 31 3 9 3 20 2-44 3 131 3-65 2-57 3 32 3-41 3 1 2 109 3-21 3 56 2-142 3-7 3-49 2 89 3-56 3-48 2 69 3 139 3-105 2-53 3 58 3 25 3-3 2 29 3 7 3-105 2 102 3-52 3-1 2 0 3 61 3 30 2 14 3-114 3 37 3-4 2-5 3-65 3 56 2 9 3 73 3-52 2 46 3-99 3 79 2-50 3 82 3-27 2-2 3-37 3-42 3-54 2 15 3 84 3 16 2-10 3-102 3 193 2-210 3 80 3 2 2-9 3 41 3-11 2-11 3-91 3 2 3 126 2 38 3-119 3 10 2 144 3-142 3 59 2-39 3-66 3-3 2-19 3 197 3-212 3 113 2 16 3-45 3 3 2 30 3-52 3 85 2-53 3 51 3-14 2-64 3 35 3-20 2 99 3-6 3-40 3-54 2 10 3-21 3 91 2-85 3 43 3 45 2-117 3 9 3 60 2-42 3 57 3 25 3-101 2 2 3 42 3-14 2-28 3-22 3 153 2-88 3 44 3-84 2 73 3 40 3-38 2 12 3-18 3-3 3-33 2 50 3-11 3 68 2-104 3-20 3 77 2-56 3 66 3-90 2 45 3 71 3-81 2 37 3 21 3-46 3-81 2 59 3 116 3-141 2 63 3-43 3 54 2 36 3-152 3 144 2-10 3-133 3 102 3 60 2 10 3-112 3 94 2-161 3 120 3 2 2-87 3 58 3-51 2 60 3 32 3-184 2 124 3 25 3 23 3 5 2-69 3 3 3-50 2 114 3-60 3 13 2 40 3 21 3-165 2 102 3 29 3 29 3-13 2 50 3 7 3-71 2-58 3 78 3-95 2 73 3-65 3-4 2 8 3 97 3-21 2-99 3 97 3-38 3-52 2 18 3 40 3-47 2 122 3 6 3-97 2 97 3-86 3 22 2 13 3-97 3 84 2 7 3 30 3-43 3 30 2 25 3-100 3 40 2 20 3-9 3-62 2 16 3 29 3-124 2 107 3 38 3 81 3-135 2-11 3 25 3 66 2-129 3-4 3 112 2-102 3-14 3 1 2 153 3-39 3-5 2 1 3 67 3-128 3 15 2 115 3-6 3-79 2-79 3-45 3 141 2-14 3 9 3-25 2-22 3-24 3 36 3 75 2-47 3 29 3-107 2 118 3-117 3 10 2 79 3-54 3 43 2 9 3-19 3-38 2 21 3 39 3-95 3-25 2 160 3-83 3-2 2 52 3-62 3-23 2 58 3-59 3 38 2 38 3 45 3-176 2 122 3-3 3-29 3 30 2-76 3 53 3 35 2-59 3-31 3-49 2 119 3-60 3-86 2 70 3-23 3 108 3-48 2-24 3 107 3-62 2 30 3-135 3 85 2-5 3 13 3 37 2 40 3-50 3-62 2 31 3 49 3-60 3-28 2 52 3-3 3-114 2-33 3 92 3-58 2 154 3 10 3-61 2 13 3 57 3-60 2-1 3-38 3 117 3 2 2-205 3 152 3-72 2 73 3-26 3-73 2 94 3-4 3-53 2 43 3 1 3-45 3 91 2-94 3 64 3 2 2 10 3-86 3 60 2-21 3-36 3 83 2-31 3-98 3 22 2-4 3 124 3 3 3-86 2-70 3 126 3-88 2-55 3 155 3 41 2-82 3 93 3-125 2 64 3 49 3-161 3-16 2 4 3-18 3 77 2 67 3 54 3-23 2-43 3-74 3 67 2-106 3 119 3-86 2-17 3 110 3 5 3-57 2-121 3 47 3-39 2 22 3 204 3-53 2-42 3-107 3 54 2-65 3 53 3 93 2-35 3 75 3-92 3-9 2 92 3-67 3 41 2-104 3 109 3-47 2 15 3-149 3 139 2 11 3-46 3 51 3-25 2 44 3 9 3-12 2-76 3 27 3-78 2 96 3 4 3-121 2 141 3-90 3 56 2 30 3-23 3 87 3-8 2-53 3-47 3 44 2-21 3 51 3-79 2-46 3 101 3-1 2-19 3 13 3-59 3-13 2-14 3 44 3 20 2 97 3-99 3 28 2 0 3-62 3 44 2 34 3-101 3 141 2 9 3-17 3-84 3 51 2-3 3 20 3-83 2 100 3-133 3 3 2 72 3-103 3 26 2-23 3 31 3 68 2 40 3-2 3-72 3 32 2 25 3 1 3 4 2 3 3-62 3 106 2-71 3-39 3 14 2 95 3-30 3 9 3-27 2 37 3-145 3 45 2 72 3-106 3 128 2-82 3-61 3 136 2-80 3-4 3 71 2-16 3-19 3 42 3 5 2 21 3 5 3-158 2 90 3-16 3 44 2 6 3 36 3-97 2 87 3 16 3-15 3-65 2-94 3 148 3-80 2 63 3-16 3 7 2 45 3-156 3 76 2-91 3 129 3-130 2 102 3 56 3-36 3-41 2 48 3-87 3 40 2 2 3 3 3 104 2-49 3 2 3-56 2-46 3 96 3 45 2-47 3-11 3 5 3 12 2-23 3-72 3 52 2-47 3 141 3-23 2-39 3 18 3-73 2 62 3 39 3-48 3 4 2-99 3 115 3-51 2-87 3 119 3-46 2 72 3 15 3-32 2-24 3 30 3-5 2-125 3 155 3-117 3 5 2 159 3-123 3-48 2 0 3 73 3-3 2-13 3-51 3 81 2-68 3 118 3-76 2 26 3-113 3 92 3-8 2 98 3-71 3-5 2 73 3-97 3 12 2-23 3 2 3 6 2 74 3-81 3 109 3-165 2 78 3-38 3 113 2-40 3-97 3 17 2 84 3 58 3-167 2 143 3-75 3-39 2 74 3 23 3-4 3 48 2-23 3-44 3-81 2-16 3 87 3 11 2 2 3-96 3 166 2-81 3 1 3-85 3 130 2-170 3 66 3-24 2 146 3-2 3-148 2 24 3 104 3-103 2 41 3-1 3-69 2 84 3 23 3-1 3 9 2-106 3 63 3 21 2 17 3-30 3-50 2 87 3-184 3 138 2 13 3-45 3 89 2-8 3-48 3 41 3 2 2-139 3 34 3 27 2-11 3 84 3-91 2 22 3 124 3-7 2-157 3 110 3-43 3 47 2-12 3 11 3-142 2 74 3 26 3-77 2 12 3 52 3-19 2-30 3 81 3-11 2 16 3-2 3-26 3 25 2-62 3 91 3-35 2-2 3 72 3-115 2 68 3 55 3-61 2-16 3-75 3 109 3 25 2-100 3 9 3 52 2-11 3 19 3-63 2 74 3-34 3 16 2 6 3-84 3 80 2 7 3 10 3-105 3 105 2-84 3-4 3-1 2 97 3-63 3-91 2 138 3-64 3 17 2-32 3 76 3-5 2 50 3-81 3-30 3 85 2-130 3 136 3-99 2-18 3 3 3 60 2-29 3 58 3-31 2-31 3 18 3-26 3 70 2-69 3 109 3-92 2 67 3 15 3-45 2-14 3-62 3 112 2-98 3 95 3-119 2 114 3-31 3 30 3-77 2-27 3 92 3-126 2 18 3 31 3 20 2-57 3 82 3 82 2-42 3-41 3-25 3 40 2 44 3 12 3-95 2 74 3-140 3 103 2-11 3 28 3 47 2-72 3-21 3-41 2 61 3 39 3-111 3 29 2-34 3 111 3-66 2 26 3 62 3-123 2 82 3-18 3-39 2 49 3 39 3-44 2-8 3 53 3 8 3-44 2-54 3 38 3 57 2-123 3 3 3 50 2-17 3 42 3 29 2-67 3 86 3-32 3-104 2 103 3 17 3-32 2-67 3 47 3 50 2-9 3-51 3-10 2-36 3 81 3-31 2 48 3-16 3 33 3-30 2 49 3-88 3-68 2 127 3-27 3 1 2-51 3 20 3 66 2-17 3 58 3-64 3 40 2-123 3 63 3 60 2-54 3 38 3 16 2-31 3 37 3-188 2 98 3-39 3 113 2-10 3-1 3-95 3 103 2-43 3 65 3-125 2 7 3 102 3-35 2 17 3-67 3 4 2 84 3-105 3-38 2 21 3 34 3 35 3 5 2 6 3-10 3 75 2-93 3-91 3 169 2-12 3-110 3-56 2 123 3-39 3 49 3-38 2 77 3-59 3-6 2 32 3-56 3 53 2 15 3-131 3 142 2-29 3 46 3-4 2-8 3-97 3 72 3-50 2 30 3-24 3 15 2-34 3 86 3-89 2 62 3-41 3 24 2 31 3-40 3-26 2 19 3-27 3-21 3 66 2-67 3 20 3-65 2 99 3 73 3-32 2-70 3 97 3 6 2-76 3 29 3-87 3 13 2 56 3-3 3 60 2-11 3-139 3 115 2-80 3 114 3-58 2-39 3-17 3 69 2 20 3-69 3 10 3-29 2 114 3-1 3-128 2 67 3 72 3-33 2-3 3 2 3-22 2-75 3 61 3-4 3 36 2-33 3 32 3-2 2-21 3-13 3 13 2-73 3 103 3-10 2 21 3-4 3-11 2-71 3-40 3 47 3 41 2-17 3-15 3 32 2-24 3 58 3-6 2 9 3-11 3-3 2-32 3-5 3 34 2 35 3-70 3 76 3-67 2 28 3-36 3-65 2 114 3-120 3 2 2 109 3-4 3-44 2-5 3-5 3 25 3 37 2-99 3 95 3 13 2-4 3-57 3-46 2 133 3-28 3-100 2 89 3 18 3-110 2-34 3 65 3-46 3 25 2 90 3-69 3 31 2-44 3-5 3 78 2 21 3-131 3 15 2 68 3 9 3-6 3-18 2-7 3 26 3-69 2 65 3-32 3 12 2-5 3 8 3-40 2 61 3-30 3 13 2-33 3 30 3-51 3 97 2-13 3 0 3 2 2 40 3-16 3-76 2-72 3 37 3 41 2 76 3-83 3 48 2-25 3-21 3 93 3-145 2 50 3 78 3-8 2 12 3-25 3-42 2-13 3 50 3-74 2 85 3-41 3 39 3-94 2 12 3 82 3-11 2 40 3-6 3 9 2-141 3 145 3-169 2 66 3 108 3-58 2-79 3-22 3 129 3 15 2-47 3-13 3 62 2-58 3 20 3-4 2-14 3-41 3-23 2 46 3 25 3-38 3-66 2-20 3 52 3 63 2-81 3 123 3-118 2 7 3-8 3 89 2-65 3-5 3 104 2 18 3-105 3 113 3-30 2-72 3 95 3-151 2 41 3 78 3-98 2 94 3-115 3 130 2-77 3-39 3 8 2 10 3 1 3 90 3-125 2 129 3-109 3 78 2 35 3-10 3 12 2 1 3-29 3 43 2-97 3-10 3 120 3-10 2-56 3-92 3 114 2-11 3-32 3 31 2-70 3 36 3 56 2-20 3 8 3-13 2 1 3-41 3 84 3-100 2 2 3 55 3 29 2-55 3-24 3-48 2 68 3 64 3-40 2 25 3-6 3-65 2-2 3 65 3 40 3-86 2 69 3-36 3-89 2 95 3 23 3-45 2 11 3-68 3 95 2 23 3-112 3-52 3 96 2-20 3 34 3 35 2-46 3 57 3-37 2-12 3-33 3 21 2 19 3-36 3 49 2-51 3-77 3 143 3-6 2-29 3 55 3-85 2 46 3-7 3-18 2 27 3-40 3 42 2-21 3 16 3-68 3 43 2 12 3-71 3 46 2-53 3 90 3 52 2-107 3 26 3 60 2-99 3-19 3 47 2 77 3-117 3 23 3 34 2-5 3-10 3-54 2 50 3 71 3-10 2 5 3 28 3-66 2-32 3 52 3 12 2-15 3-98 3 64 3 16 2-8 3-17 3 54 2 27 3-77 3 24 2-47 3 50 3-61 2 61 3 41 3-160 3 117 2-49 3-18 3-15 2 122 3-69 3-38 2 119 3-55 3-26 2-29 3-42 3 139 2-148 3 158 3-34 3-65 2 18 3-21 3 32 2 49 3 29 3-74 2 30 3-35 3 1 2 79 3-28 3-8 3-85 2 3 3 70 3-56 2 16 3 38 3-64 2 68 3 19 3-73 2 55 3 56 3-118 2 91 3-118 3 49 3-14 2 1 3 33 3 39 2-93 3 128 3-120 2 34 3 33 3-141 2 140 3-32 3-9 2-66 3 98 3-29 3 62 2-139 3 95 3 39 2-107 3 39 3 85 2-107 3 39 3 31 2-28 3 26 3-42 3 67 2-130 3 69 3 53 2 1 3-15 3 36 2-27 3-34 3-24 2 46 3-17 3-62 2 18 3 89 3-23 3 20 2 14 3-97 3 58 2-61 3-49 3 152 2-121 3 2 3 130 2-65 3-49 3 108 3-190 2 178 3-22 3-71 2-73 3 64 3 123 2-32 3-122 3 51 2 56 3 2 3-62 2-35 3-22 3 102 3-13 2-54 3 37 3 59 2 16 3-147 3 143 2-83 3-57 3 165 2-129 3 20 3 8 2 51 3 15 3-31 3 32 2-13 3-63 3 57 2 48 3-65 3 42 2 4 3-61 3 10 2-81 3 3 3 28 3-5 2-15 3 102 3 5 2-10 3-44 3 29 2-83 3 64 3 64 2-40 3 14 3 29 2-175 3 152 3-37 3 67 2-108 3 78 3-113 2 31 3-52 3 57 2-25 3 61 3 12 2-69 3 40 3-89 2 159 3-143 3 34 3 35 2 24 3-136 3 160 2-37 3-109 3 218 2-98 3-121 3-1 2 39 3 42 3-54 3 17 2 65 3-40 3-2 2 88 3-33 3 12 2-50 3-32 3 80 2-48 3 42 3-32 2-74 3 67 3 3 3 21 2 44 3-125 3 154 2-123 3-33 3 22 2 50 3 72 3-59 2-126 3 97 3 61 3-99 2 30 3-33 3 31 2-21 3 61 3-95 2 64 3 73 3 14 2-153 3 6 3 40 2 51 3-32 3-46 3 1 2 62 3 24 3-83 2 18 3-39 3 75 2-34 3 38 3-3 2-121 3 143 3 27 2 16 3-43 3 30 3-104 2 43 3 29 3 25 2-37 3-116 3 30 2 158 3-55 3 6 2-47 3-42 3 37 3 42 2 54 3-115 3-14 2 67 3-50 3-8 2 11 3-28 3 96 2-99 3 100 3-45 2 40 3-73 3 71 3-114 2 18 3 146 3-139 2 38 3-5 3 57 2-125 3 9 3 125 2-157 3 84 3 65 3-86 2-26 3 114 3-8 2 20 3-68 3 25 2-34 3-12 3 50 2 59 3-76 3 48 2-73 3 43 3-9 3-31 2 50 3-35 3 17 2-38 3-21 3 62 2 28 3-22 3 19 2-10 3-58 3-56 2 70 3 7 3 87 3-92 2 104 3-70 3-126 2 130 3-35 3 0 2-59 3 88 3-132 2 73 3-1 3 134 3-77 2-37 3 15 3-149 2 116 3-24 3 28 2 19 3 51 3-142 2 41 3 146 3-99 2 101 3-140 3 27 3-46 2 35 3 55 3-115 2 14 3 50 3 86 2-141 3 53 3 56 2-63 3-37 3-7 3 24 2 93 3-84 3 1 2-36 3 93 3 33 2-88 3 60 3 4 2-9 3 11 3-75 2-27 3 39 3 1 3 53 2-18 3 29 3-49 2 31 3-47 3-129 2 196 3-73 3 76 2-75 3 11 3-107 2 163 3-79 3 60 3-105 2 114 3 2 3-22 2 53 3-68 3 49 2-208 3 134 3-68 2 165 3-97 3 143 3-81 2-93 3 78 3-94 2 78 3-8 3-49 2 36 3-9 3 50 2-13 3-40 3 119 2-101 3 34 3 42 3-87 2 40 3 73 3-62 2-96 3 190 3-147 2 30 3 27 3-61 2 55 3 82 3-99 3-78 2-55 3 132 3-102 2 140 3-128 3 55 2 52 3-16 3-34 2-34 3 16 3 38 2 80 3-50 3-15 3 80 2 44 3-108 3-31 2-65 3 100 3-52 2 24 3 1 3-23 2-114 3 143 3-35 2-15 3 103 3-133 3-40 2 210 3-33 3-74 2 75 3-178 3 194 2-99 3 92 3-106 2 93 3-93 3-101 3-10 2 144 3-5 3-22 2-48 3 48 3-26 2 49 3 126 3-107 2-12 3 50 3-20 2-17 3-126 3 76 3 102 2-70 3 10 3-8 2-76 3 107 3-48 2-37 3 114 3 54 2-164 3 104 3 2 2-111 3 94 3 18 3-49 2 103 3-35 3-196 2 199 3-90 3 21 2 44 3-74 3 48 2-73 3 130 3-23 3-25 2-19 3-49 3 48 2 60 3-18 3-23 2-1 3-125 3 220 2-63 3-37 3-100 2 84 3-100 3 68 3 10 2 69 3-33 3 69 2-63 3-8 3 53 2-18 3-49 3-51 2 66 3-91 3 192 3-183 2 78 3-79 3 5 2 55 3 48 3-28 2-6 3-50 3 140 2-145 3 57 3 59 2-50 3-38 3 51 3 4 2-33 3 57 3 24 2-62 3-77 3 122 2-16 3 34 3-80 2 74 3-57 3-24 2 2 3-60 3 79 3 67 2-8 3-86 3 63 2-13 3-27 3 108 2-138 3-34 3 115 2-92 3-9 3 89 3 8 2 20 3-141 3 121 2 35 3-10 3 23 2-117 3 89 3-74 2 2 3 58 3-29 2-60 3 131 3-8 3-135 2 122 3-74 3 18 2-44 3 84 3-72 2-69 3 99 3-1 2-49 3-17 3-14 3 58 2-28 3 83 3-30 2 53 3-49 3-43 2 96 3 4 3-131 2 17 3 65 3 48 2-89 3 23 3 15 3-9 2-1 3 43 3 1 2 11 3-67 3-23 2-25 3-32 3 166 2-91 3 50 3-94 2 118 3-28 3-92 3 19 2 72 3-47 3 4 2-36 3 73 3 30 2-109 3 85 3 32 2-33 3-76 3 69 3 58 2-57 3-37 3 51 2-92 3 60 3-11 2 90 3-124 3 10 2 70 3-10 3-88 2 40 3 93 3-92 3 70 2 10 3-72 3 17 2 35 3 9 3-43 2 5 3 19 3 52 2-146 3 131 3-139 3 27 2-19 3 66 3-19 2 46 3-107 3 126 2-77 3 68 3-27 2 15 3-94 3 114 2-32 3 12 3 40 3-74 2 27 3 45 3-67 2 17 3 0 3-52 2 38 3 59 3-188 2 177 3-98 3-15 2 3 3 33 3 102 3-69 2 48 3-7 3-69 2 30 3-3 3 48 2-74 3 27 3 15 2-96 3 54 3 61 3-83 2 35 3 82 3-130 2 90 3-17 3 67 2-45 3-138 3 88 2-11 3 75 3 13 2 13 3-30 3-23 3-35 2 66 3-101 3 89 2-81 3 36 3-41 2 22 3 22 3-119 2 194 3-99 3 70 2-45 3 43 3-50 3 26 2 11 3-118 3 154 2-103 3 111 3-176 2 116 3-49 3 93 2-127 3 97 3 43 3 34 2-105 3 53 3-68 2 43 3 5 3-86 2 64 3-123 3 170 2-82 3-35 3 49 2-12 3 65 3-155 3 157 2-26 3-47 3 67 2-65 3 87 3 9 2-73 3 43 3-43 2 30 3-11 3-181 3 200 2-75 3 72 3-66 2 0 3 72 3-15 2-6 3-45 3 117 2-70 3-117 3 41 2-35 3 105 3-63 3 19 2 32 3 50 3-130 2 136 3-35 3-51 2 59 3-42 3 10 2-70 3 109 3-21 2-24 3-20 3-13 3 44 2 21 3 21 3-21 2-40 3 72 3-86 2 62 3 21 3-11 2-25 3-26 3-76 3 68 2-11 3 65 3 13 2-128 3 102 3-13 2-20 3-92 3 56 2 43 3 60 3-187 2 108 3 93 3-144 3-35 2 79 3-29 3-26 2 123 3-131 3 63 2 81 3-77 3 3 2 69 3 31 3-48 3-58 2 32 3-82 3 62 2 33 3-91 3-45 2 90 3 77 3-162 2 143 3-179 3 187 2-106 3 49 3-6 3 62 2-92 3 80 3-101 2 88 3-39 3 65 2-109 3 29 3 15 2 36 3 21 3-105 2 135 3-141 3 21 3 108 2 3 3-207 3 172 2-43 3 112 3-133 2 1 3-87 3 101 2 71 3-112 3 75 3 35 2-78 3-60 3 69 2 91 3-54 3-21 2 6 3-8 3 4 2-50 3 107 3-36 2 50 3-21 3 4 3-38 2 26 3-104 3-54 2 118 3-37 3 33 2 60 3-69 3-24 2 83 3 1 3-53 3-78 2 87 3-76 3 15 2 19 3 46 3-72 2 57 3-48 3 129 2-81 3 80 3 26 2-57 3 0 3-47 3 74 2-129 3 142 3-171 2 25 3 32 3 67 2-114 3 103 3-32 2 11 3 52 3-88 2-51 3 66 3-31 3 103 2 17 3-42 3 33 2-14 3 12 3-49 2 33 3 55 3-58 2 14 3-34 3 47 3 17 2-51 3 27 3-47 2 17 3-59 3-1 2 92 3-78 3 82 2-178 3 197 3-82 2 11 3-47 3 7 3 43 2 50 3-127 3 121 2-12 3-46 3 75 2-98 3 22 3 46 2 22 3 33 3-77 2-35 3 86 3 35 3-103 2 19 3 5 3-100 2 59 3-11 3 26 2-52 3 134 3-31 2 6 3-108 3 92 3-74 2 72 3 5 3-49 2-11 3-37 3 51 2-25 3-45 3-4 2 142 3-109 3 20 2 97 3-22 3-172 3 110 2-16 3 42 3-10 2-11 3 30 3-1 2-70 3 115 3-76 2 52 3-60 3 3 3-59 2 152 3-92 3 56 2 6 3-33 3-29 2-37 3 135 3-101 2 103 3-74 3-40 2 40 3 18 3-5 3 25 2-18 3-21 3 14 2 2 3 42 3-31 2-148 3 62 3-9 2 67 3 82 3-112 2 79 3-36 3 36 3-8 2-69 3 48 3 28 2-47 3 21 3 14 2-84 3 127 3-63 2-27 3-34 3 57 3 25 2-32 3-82 3 96 2 0 3-68 3 29 2 28 3-71 3 43 2-21 3 32 3-65 2 139 3-156 3 83 3-8 2 6 3 52 3-91 2-102 3 226 3-57 2-64 3 36 3-3 2-9 3 38 3 44 3-9 2-52 3-69 3 18 2 8 3 94 3 33 2-106 3-34 3 108 2 10 3-15 3-114 2-24 3 165 3-41 3-23 2 74 3-32 3-29 2-35 3 60 3-68 2 69 3-56 3-5 2-13 3 104 3 4 2-134 3 25 3 40 3 19 2-2 3-12 3-66 2 71 3-71 3-25 2 137 3-72 3-24 2 53 3 11 3 25 3-3 2-127 3 17 3 110 2-125 3 66 3 34 2-32 3-54 3 106 2-86 3-10 3 25 2 88 3-48 3 65 3-61 2-89 3 0 3 143 2-75 3 65 3-22 2-144 3 49 3 66 2-10 3-38 3 21 3 29 2-65 3 80 3-53 2 31 3-30 3 66 2-4 3-71 3-64 2 137 3-79 3-17 2 57 3 14 3 75 3-38 2-38 3 64 3-54 2-67 3 51 3 7 2-107 3 31 3 46 2 68 3-83 3-24 2 71 3-18 3 47 3-78 2 70 3-10 3 6 2-66 3 72 3-44 2-30 3-6 3-15 2 30 3 0 3 71 3-1 2-12 3 10 3-111 2 39 3 91 3-18 2 18 3 20 3-103 2 94 3-144 3 45 2 16 3 16 3 23 3-4 2 4 3 16 3-17 2 37 3-6 3-94 2-18 3 15 3 34 2-27 3 96 3-81 3 18 2-19 3 5 3-28 2 19 3 92 3-34 2-45 3 34 3-107 2 101 3-38 3 50 2-21 3-11 3 49 3-8 2 27 3-74 3 16 2-42 3 52 3 2 2 15 3-99 3 46 2 0 3 51 3 40 2-76 3-25 3 60 3-113 2 6 3 120 3-12 2-4 3-88 3 146 2-143 3 7 3-5 2 138 3-48 3-11 3 9 2 38 3-270 3 198 2-50 3 18 3-33 2 130 3-94 3 2 2 96 3-127 3 54 2-68 3 37 3 17 3 64 2-26 3 30 3 28 2-7 3-74 3-21 2 41 3 60 3-60 2-30 3-31 3 73 2-12 3 10 3-30 3 34 2 36 3-48 3-85 2 84 3-83 3 131 2-116 3 79 3 17 2-15 3-10 3-98 3 126 2-3 3-30 3-83 2 54 3 57 3-56 2 92 3-161 3 97 2-69 3 91 3-81 2 9 3 73 3-30 3-66 2 30 3 56 3-96 2 71 3-50 3 46 2-37 3 87 3-112 2 90 3-36 3 74 3-88 2 18 3 0 3 20 2-64 3 56 3 29 2 28 3-113 3 83 2-65 3 33 3 79 2-127 3 20 3 24 3 3 2-37 3 83 3-61 2 40 3-38 3 33 2 7 3 10 3-27 2 67 3-11 3 4 2-24 3-20 3 40 3-35 2 6 3-19 3-24 2-29 3-36 3 124 2-24 3-40 3-35 2 29 3 66 3-57 3 64 2-50 3-1 3-32 2 95 3-69 3-54 2 109 3-75 3-5 2-42 3 118 3 33 2-118 3 37 3-29 3 19 2 4 3 73 3-131 2 108 3-64 3 94 2-95 3 15 3 66 2-101 3 45 3-79 3 60 2 51 3-123 3 117 2-1 3 16 3-71 2 68 3-76 3 103 2-24 3 17 3-17 2-91 3 88 3 22 3-88 2 34 3-41 3 101 2-115 3 77 3-69 2 110 3-79 3-11 2 41 3 6 3-23 2 66 3-79 3 1 3-66 2 134 3 8 3-126 2 134 3-156 3 64 2 5 3 8 3-33 2 78 3 2 3-13 3 15 2 6 3-19 3 25 2 3 3-13 3-36 2-46 3 60 3-109 2 147 3-136 3-3 2 106 3-91 3 99 3 24 2-68 3-39 3 55 2 39 3-20 3-72 2 68 3-79 3 52 2-20 3 55 3 38 3-21 2-2 3-90 3 25 2 84 3-139 3 77 2 60 3-76 3 43 2 22 3-131 3 107 2 16 3-11 3-86 3 76 2 22 3-19 3-91 2 38 3 6 3 62 2-69 3-6 3 87 2 7 3-158 3 53 2 29 3 3 3 14 3-48 2 43 3 15 3-24 2-11 3 37"/>
<path stroke="#008000" marker-start="url(#m2)" marker-mid="url(#m2)" marker-end="url(#m2)" d="M3398,10039l3 286 2-289 3 12 3 194 2 223 3-189 3 63 3-38 2-159 3 163 3 8 2-10 3 26 3 60 2-127 3-1 3 16 2 137 3-382 3 81 2 147 3-128 3 12 3-378 2 516 3-81 3 106 2-26 3 69 3-176 2 272 3-91 3-327 2 342 3-309 3 177 2 98 3 52 3-115 3 71 2-52 3 124 3 0 2-139 3 216 3-231 2 111 3-151 3-141 2 200 3 259 3-181 3-17 2-80 3 104 3-45 2 82 3-81 3-266 2 441 3-97 3 55 2-30 3 62 3-89 2-76 3-222 3 223 3 25 2-39 3 135 3 1 2-167 3 336 3-252 2 22 3 80 3-77 2-53 3 33 3 56 3-72 2-97 3-145 3 367 2 47 3-126 3-138 2 120 3-173 3 188 2-24 3-93 3 29 2 159 3-160 3 52 3 144 2-14 3-20 3-204 2 254 3-115 3-15 2-12 3 185 3-232 2 60 3-12 3 174 2-244 3 8 3-104 3 167 2-223 3 252 3-38 2 106 3 48 3-122 2-38 3-93 3 186 2 51 3-230 3-16 3-20 2 170 3-53 3-85 2 197 3 156 3-396 2 224 3-136 3 237 2-118 3 38 3 50 2-80 3-129 3 283 3-82 2 98 3-241 3-140 2 387 3-171 3 31 2 124 3-169 3-86 2 175 3-24 3 11 3-146 2 94 3 34 3 75 2-182 3 93 3-166 2 321 3-218 3-11 2 122 3-136 3 101 2 117 3 1 3-341 3 239 2-272 3 160 3 112 2-65 3 103 3-91 2-37 3 123 3-230 2 222 3 8 3 94 2-58 3 43 3-11 3-62 2 30 3-132 3 33 2 169 3-189 3-32 2 198 3-195 3 98 2-62 3 303 3-182 3-72 2 71 3-68 3 100 2-241 3 24 3 237 2-34 3-86 3 101 2 102 3-199 3-28 2-12 3 42 3 196 3-491 2 293 3-301 3 332 2 168 3-277 3-32 2 213 3 39 3-78 2 8 3-27 3 29 3-164 2 23 3 11 3 147 2-50 3 37 3 58 2-25 3-142 3-60 2 131 3-40 3 120 2-134 3 11 3 122 3-141 2 105 3 0 3 24 2 101 3-184 3 36 2-51 3 211 3-207 2-248 3 345 3-44 2-76 3 103 3-141 3 241 2-150 3 16 3-60 2 119 3-277 3 163 2 160 3-171 3 114 2 27 3-13 3-139 3 125 2-46 3 67 3 104 2-96 3-161 3 26 2 126 3-91 3 194 2-55 3-29 3-139 2 62 3-274 3 175 3 133 2 5 3 41 3 82 2-220 3 10 3 196 2-229 3 201 3 37 2-251 3 176 3-182 2 240 3-119 3-181 3 300 2-356 3 213 3 106 2 4 3 25 3-63 2-65 3-129 3 181 2-135 3 148 3 40 3-43 2 73 3 5 3-54 2-27 3 69 3 83 2-54 3-1 3-87 2 194 3-383 3 206 2-47 3-22 3-85 3 133 2 19 3 24 3-173 2 168 3 132 3-122 2-144 3 193 3-135 2-22 3-26 3 190 3-105 2-230 3 206 3 18 2-97 3 139 3-98 2 242 3-150 3-188 2 213 3-272 3 318 2-37 3-140 3 147 3-6 2 64 3-187 3-37 2 35 3 213 3-56 2 71 3-290 3 142 2 32 3-3 3-24 2 26 3 108 3-140 3 63 2-129 3 72 3-51 2 142 3-123 3 120 2-100 3 82 3-36 2 26 3 57 3-70 3 42 2 30 3-56 3-65 2 23 3-17 3-166 2 311 3-238 3 103 2 16 3-24 3-323 2 402 3-268 3 215 3 71 2-38 3 19 3-66 2-149 3 128 3 148 2-158 3-81 3 85 2-62 3 128 3 124 3-57 2 17 3-110 3 60 2-51 3 23 3 68 2-11 3-193 3 145 2 106 3-80 3-24 2-22 3 73 3-136 3 147 2-41 3-83 3 52 2 111 3 6 3-58 2-159 3 52 3 80 2 46 3-69 3 147 2-218 3 9 3 118 3-27 2 8 3 14 3-104 2-157 3 155 3 70 2 54 3 22 3-159 2 173 3-175 3 65 3 164 2-135 3-135 3 218 2-33 3-29 3-107 2 58 3 27 3-144 2 161 3-125 3 70 2 145 3-185 3 167 3-20 2-151 3 135 3-165 2 122 3 68 3-42 2-10 3-172 3 32 2 177 3-71 3-9 3-64 2 97 3 29 3 21 2 43 3 68 3-99 2-229 3 82 3-95 2-24 3 293 3-80 2-193 3 298 3-105 3 0 2 91 3 2 3 73 2-184 3 147 3-36 2-163 3-30 3 52 2 32 3 17 3 85 2-22 3 18 3-27 3-212 2 63 3 109 3-7 2-76 3-64 3 214 2-44 3-58 3 73 2-41 3-13 3-41 3-107 2 48 3 107 3 41 2-20 3-20 3 1 2 92 3-4 3-194 2 135 3 27 3-13 2 30 3-116 3 5 3 160 2-26 3-70 3-116 2 84 3 87 3-108 2 78 3 27 3-120 2-37 3 65 3 36 3-94 2 20 3 57 3 47 2 20 3 15 3-27 2-24 3-145 3 35 2 57 3 86 3-124 2 85 3-96 3 62 3-20 2 104 3 33 3-30 2 76 3 22 3-163 2-242 3 292 3 79 2-145 3 68 3 12 2 6 3 59 3-101 3 70 2 78 3-49 3 27 2-153 3 66 3-50 2-215 3 128 3 198 2-42 3-20 3-89 3-27 2 129 3-161 3-101 2 215 3-32 3 88 2 14 3-123 3-45 2 38 3 44 3 42 2-84 3 25 3 2 3-79 2 126 3 43 3-135 2 42 3 51 3-326 2 408 3-95 3 60 2 46 3-148 3-99 2-13 3 211 3-52 3-30 2-178 3 208 3-125 2-128 3 317 3-122 2 9 3 139 3-116 2-105 3 207 3-180 3 78 2-115 3 171 3-100 2-11 3 81 3 121 2-138 3 29 3-59 2 66 3-84 3 42 2-99 3 129 3-11 3 53 2-144 3 116 3 40 2-294 3 268 3-48 2 30 3-135 3-48 2 160 3-1 3-2 3 132 2-78 3-51 3 128 2-141 3 15 3-14 2 83 3-112 3-18 2-23 3 104 3-134 2 61 3 126 3-199 3 252 2-252 3 152 3 13 2-49 3 6 3-78 2 107 3-116 3 95 2-5 3-26 3 67 2-58 3 48 3-83 3 113 2-175 3 196 3-102 2-7 3-3 3-6 2-69 3 114 3-198 2 139 3 3 3 65 3 109 2-284 3 77 3 48 2-16 3-5 3 126 2-26 3-157 3 139 2-54 3 2 3 75 2 52 3-134 3 99 3-148 2 124 3 24 3-80 2-33 3 162 3-125 2 139 3-35 3-62 2 44 3-86 3 70 3-35 2 16 3-136 3 161 2-127 3 138 3-150 2 189 3-137 3 100 2-51 3-74 3 108 2-63 3 132 3-207 3 43 2 63 3-28 3 9 2 59 3-115 3 82 2 18 3-85 3 19 2-127 3 94 3 84 2 13 3 92 3-147 3-76 2 151 3-65 3 71 2-16 3 87 3-184 2 38 3 5 3-232 2 198 3-188 3 202 3-72 2 69 3 159 3-151 2-245 3 256 3-250 2 208 3 73 3-87 2 128 3 51 3-158 2-212 3 266 3-4 3-135 2 18 3 81 3-22 2 195 3-368 3 166 2-29 3 100 3-48 2-45 3-37 3 102 3-119 2 5 3 144 3-55 2 42 3 35 3 9 2 40 3-96 3 6 2-34 3-7 3 64 2-35 3-139 3 123 3-86 2 117 3-25 3 82 2-109 3-97 3 56 2 137 3-95 3 170 2-37 3-194 3 67 2 4 3 96 3 42 3-97 2 34 3 132 3-163 2-180 3 189 3 36 2-59 3-21 3 62 2-56 3-63 3 64 3 47 2-59 3 54 3-51 2-153 3 242 3 6 2-103 3 75 3-75 2 65 3-24 3 80 2-155 3-40 3 170 3-20 2 35 3-40 3-15 2 23 3-148 3 50 2 31 3-53 3 38 2 145 3-258 3 126 2 142 3 43 3-119 3-31 2-116 3 117 3 38 2-34 3 45 3-86 2 96 3-55 3-72 2 23 3 12 3 118 3-81 2-6 3 20 3-37 2 8 3 75 3-145 2 115 3-133 3 97 2 74 3-58 3 40 2-113 3 78 3-146 3 151 2-34 3-75 3 99 2-3 3-2 3-38 2-17 3-38 3 104 2 30 3-11 3-95 3 47 2 33 3-74 3-132 2 188 3-44 3 123 2-31 3-5 3-121 2 171 3-86 3-95 2 49 3 32 3 27 3 90 2-67 3-91 3 31 2 121 3-185 3 193 2-106 3-115 3 246 2-122 3-24 3-114 2 127 3-15 3-48 3-18 2 92 3-21 3 121 2-10 3-198 3 84 2 80 3 3 3-46 2-72 3-26 3 148 3-72 2 32 3 56 3-217 2 156 3 4 3-11 2 146 3-219 3 53 2 46 3-83 3 34 2 45 3-59 3-62 3 161 2-218 3 217 3-13 2-47 3-13 3 5 2-3 3-85 3 0 2 57 3-44 3 15 3-139 2 188 3 38 3-126 2 60 3 83 3 71 2-75 3 50 3 17 2-55 3-29 3 14 2-12 3-155 3 96 3 23 2-153 3 152 3 37 2 133 3-149 3 7 2-15 3 120 3-12 2-111 3-110 3 184 2-18 3-33 3-10 3-93 2 42 3 16 3 3 2-8 3-120 3 247 2-80 3-28 3 28 2 37 3-92 3 53 3-59 2-147 3 129 3 94 2-49 3-4 3-44 2 87 3 100 3-262 2-44 3 277 3-95 2 111 3-142 3 145 3-162 2-4 3 61 3-40 2 9 3 52 3-83 2 21 3 117 3-73 2 48 3-76 3 140 3-24 2-57 3-33 3 42 2-77 3 7 3-95 2 84 3-87 3 64 2 4 3 143 3-152 2-20 3 62 3 3 3 63 2-181 3 67 3 4 2 70 3-114 3 187 2-135 3-53 3 117 2 1 3 79 3-76 2 8 3 25 3-73 3 18 2-72 3-2 3-4 2 93 3 114 3-147 2-3 3 12 3 23 2 17 3 10 3-16 3 72 2-54 3 28 3-5 2-126 3 64 3 58 2-15 3 31 3 45 2-40 3-45 3-39 2-71 3 215 3-271 3 87 2-30 3 6 3 65 2 47 3-29 3-123 2 84 3 47 3-20 2 88 3-17 3-20 2 17 3-47 3-167 3 107 2 25 3 48 3-136 2 70 3 9 3 32 2-109 3 114 3-7 2 66 3-29 3-66 3 40 2 0 3-63 3-61 2 180 3-72 3-38 2 151 3-30 3-77 2 14 3 3 3-85 2 152 3-46 3-50 3 47 2 19 3-25 3-5 2-21 3-141 3-75 2 284 3 61 3-44 2-80 3 28 3 93 3-144 2 103 3-174 3 112 2 4 3-38 3 87 2-119 3 43 3-121 2 178 3-84 3-72 2-45 3 146 3 82 3-199 2 160 3 70 3-113 2 13 3-1 3 51 2 45 3-170 3 47 2 46 3 45 3-15 2-237 3-77 3 224 3 61 2 54 3-159 3-80 2 108 3 40 3 10 2-97 3 179 3-89 2-11 3 49 3-55 3 59 2 65 3-154 3 31 2 77 3 55 3-43 2-245 3 203 3 42 2-23 3 15 3-65 2 4 3 76 3-89 3 50 2-133 3 93 3 73 2-136 3 87 3 23 2-33 3 19 3 67 2-119 3 123 3-187 3 49 2-103 3 139 3-5 2-16 3 72 3 34 2-29 3-101 3 10 2 98 3 77 3-301 2 167 3 52 3-86 3 63 2-31 3 109 3-71 2 2 3-43 3-101 2 162 3-51 3-26 2 92 3-26 3-39 2-102 3 69 3 65 3-50 2 195 3-191 3 8 2-172 3 113 3 139 2-146 3-70 3 180 2-36 3-35 3 55 3 1 2-9 3-113 3 114 2-14 3-84 3 3 2 19 3 165 3 23 2-4 3-147 3-137 2 163 3-23 3-103 3 151 2-42 3 75 3-111 2 129 3-172 3 106 2 9 3 96 3 15 2-144 3 80 3-53 3 24 2-153 3 188 3-161 2 75 3-38 3 126 2-23 3-160 3 156 2 10 3-129 3 47 2 12 3 7 3-18 3 149 2-16 3-117 3 42 2-39 3 59 3-9 2-42 3 57 3 73 2-130 3-109 3 152 2-66 3 35 3-187 3 231 2-57 3-6 3 15 2-10 3 54 3-93 2 122 3-58 3-16 2 9 3 25 3 11 3-122 2-5 3 0 3 47 2 19 3 3 3-107 2 90 3-54 3 22 2 57 3 31 3-24 2-24 3 136 3-60 3 9 2-12 3-28 3 58 2-214 3 180 3 10 2-43 3 41 3 50 2 20 3-73 3-44 3 2 2 57 3-55 3-18 2 76 3-161 3 148 2 18 3-85 3-12 2 66 3-103 3 113 2 71 3-261 3 197 3-46 2-62 3 126 3-192 2 202 3-124 3 102 2-103 3 95 3-29 2 53 3-76 3-12 2-14 3 71 3 12 3-102 2 130 3 9 3-119 2 26 3 47 3 95 2-59 3-23 3-126 2 9 3 66 3 17 3 86 2-184 3 136 3-57 2-27 3 34 3-39 2-33 3 166 3-116 2-6 3-54 3 94 2-2 3 10 3-6 3-44 2 35 3 4 3-40 2 60 3-23 3-88 2 60 3 49 3 32 2-105 3 98 3-20 2-140 3 157 3-120 3 99 2-31 3 13 3 6 2-54 3 77 3 29 2-94 3 90 3 5 2-167 3 55 3 3 3 35 2-35 3-57 3 76 2-12 3 42 3-1 2-8 3-126 3 111 2 34 3 74 3-102 2 74 3-79 3-52 3 107 2 37 3-135 3-30 2 90 3 55 3-137 2 63 3 6 3-134 2 219 3 2 3-41 3-7 2-126 3 112 3-141 2 229 3-174 3 63 2-99 3-36 3 171 2-68 3 36 3 63 2-43 3-78 3 22 3 76 2-110 3 32 3 79 2 16 3-28 3-57 2-19 3 47 3 30 2-191 3 29 3 203 2-73 3-49 3-55 3 152 2-36 3 22 3-18 2-35 3 58 3-132 2 165 3-2 3-172 2 163 3-88 3 20 3 75 2-66 3-70 3 98 2-108 3 125 3-75 2-44 3 19 3 82 2-6 3 11 3-11 2 20 3-57 3 54 3-17 2-53 3-200 3 161 2 72 3 18 3 46 2 21 3-63 3-45 2 10 3-28 3 6 3-69 2 191 3-91 3 19 2-92 3 78 3 42 2-107 3 102 3 22 2-67 3 86 3-136 2 147 3-141 3-66 3 134 2-125 3 98 3-55 2 148 3-139 3 35 2 42 3-78 3 25 2 33 3-31 3-90 2 50 3 34 3 1 3 117 2-142 3 131 3-101 2 22 3 38 3-123 2 55 3 25 3 16 2-97 3 49 3 12 3 62 2-43 3 28 3 53 2-95 3-30 3-18 2-9 3 31 3-30 2 107 3-41 3-38 2 4 3 159 3-64 3-56 2-32 3 71 3-49 2 25 3-27 3 71 2-128 3 71 3 40 2-100 3 19 3 94 3 27 2-78 3-94 3 120 2 19 3 10 3 43 2 27 3-189 3 5 2 189 3-126 3 51 2-63 3 137 3-126 3 72 2-10 3-21 3-121 2 99 3-137 3-70 2 69 3 113 3 42 2 43 3-51 3-60 2 40 3-53 3 61 3 13 2 21 3-163 3 197 2-90 3-99 3 120 2-85 3 197 3-168 2 61 3-125 3-8 3 178 2-56 3-3 3 13 2 23 3-63 3-329 2 287 3 149 3-172 2 132 3-4 3-46 2-90 3 183 3-177 3 163 2-105 3 34 3-49 2 107 3-213 3 122 2 51 3 43 3-46 2 7 3-153 3 242 2-153 3-81 3 181 3-72 2 46 3-9 3-66 2 116 3-191 3 104 2-103 3 104 3-20 2 67 3-84 3-69 3 99 2 29 3-71 3 69 2-257 3 276 3 6 2-279 3 253 3-4 2-172 3 210 3-68 2-10 3-83 3 24 3 78 2 10 3-22 3 23 2-5 3-38 3 8 2-82 3-84 3 61 2-57 3 208 3-65 3-4 2 29 3 52 3-73 2 132 3-207 3 16 2-8 3 28 3-63 2-147 3 339 3-96 2-112 3 165 3-27 3-39 2-9 3 73 3-39 2-139 3 182 3-161 2 131 3-71 3 46 2 0 3 21 3 30 2-161 3 29 3 137 3 50 2-179 3 108 3-68 2-44 3-15 3 23 2 110 3 20 3-33 2-61 3 96 3-93 3 55 2-66 3 45 3 95 2-192 3 33 3 29 2 23 3 70 3 1 2 67 3-17 3-149 2 71 3 50 3-163 3 17 2 52 3-1 3-51 2 131 3-64 3 17 2 72 3-246 3 161 2 16 3 76 3-43 3-14 2 60 3-46 3-67 2 100 3-101 3-26 2 1 3 90 3 54 2-52 3-49 3 38 2-115 3 142 3 107 3-202 2-6 3-57 3 184 2-81 3 53 3-69 2 84 3 28 3-55 2-38 3-27 3 81 2-38 3 23 3-66 3 107 2 44 3-53 3 24 2-6 3-81 3 14 2-17 3 33 3 25 2-45 3 9 3-83 3 59 2-60 3 43 3 76 2-48 3-72 3 87 2-3 3 71 3 59 2-42 3-44 3-78 2 118 3-65 3 70 3-5 2-74 3-10 3 15 2 45 3 11 3-96 2 63 3 76 3-40 2-36 3 62 3-33 3-126 2 35 3 100 3-9 2-106 3 3 3 152 2-84 3-3 3-12 2 59 3 30 3-100 2 132 3-35 3-48 3 33 2-19 3-142 3 111 2 56 3-49 3-103 2 67 3-14 3 31 2 23 3 4 3-7 2 25 3-57 3-12 3 11 2-14 3 15 3 40 2-81 3-71 3 119 2 28 3 16 3 21 2-60 3-48 3 32 3-32 2 39 3 75 3-83 2 70 3-12 3 71 2-125 3-40 3 50 2-15 3 3 3 56 2 0 3-58 3-6 3 37 2 30 3-16 3-5 2-112 3 47 3-74 2-1 3 70 3 14 2 139 3-195 3 208 2-162 3-30 3 67 3-48 2-15 3 80 3 62 2-162 3 103 3 57 2-8 3-138 3 208 2-82 3-48 3 22 3-66 2 35 3 64 3-132 2 102 3-7 3-65 2-22 3 44 3 33 2-102 3 60 3 26 2 73 3-25 3-54 3 116 2-226 3 171 3-44 2-1 3 94 3-126 2 11 3-42 3 65 2 8 3-32 3 66 3-63 2 140 3-93 3 63 2-100 3 36 3-109 2 15 3 34 3-11 2 77 3 24 3-42 2 2 3-67 3 46 3-73 2 56 3 40 3 12 2-125 3 150 3-30 2-53 3 17 3 33 2-25 3-90 3 61 2-29 3 129 3 51 3-75 2-23 3-92 3 100 2-18 3-4 3-39 2 60 3-42 3 98 2-74 3 8 3-67 3 147 2-121 3 58 3-6 2 35 3-8 3-105 2 11 3-69 3 128 2 23 3-117 3 70 2-7 3-44 3 38 3-38 2 101 3-41 3 56 2 25 3-57 3-55 2 49 3-32 3 23 2 6 3-70 3-2 3 61 2-19 3 23 3 19 2-115 3 80 3 39 2-5 3-31 3 96 2-54 3 20 3 20 2-189 3 77 3-83 3 134 2-93 3 28 3-9 2 38 3 34 3-69 2 8 3 114 3-15 2-3 3-56 3 42 2-7 3-56 3 75 3-87 2-21 3 44 3 35 2 20 3-8 3-19 2-1 3-169 3 70 2 87 3 44 3-80 3 67 2-34 3 25 3-84 2 137 3-152 3 135 2-26 3 29 3-78 2-13 3 88 3-102 2-61 3 176 3 5 3-66 2-67 3 48 3-4 2 46 3-25 3-52 2-8 3-94 3 144 2-164 3 217 3-140 3 73 2 25 3 34 3 16 2-138 3 54 3 105 2-57 3-46 3 73 2 35 3-45 3-92 2-39 3 184 3-58 3 50 2-121 3 40 3-137 2 149 3-72 3 67 2-132 3 101 3 65 2-7 3 50 3 9 2-71 3-60 3 101 3-30 2-39 3-70 3 125 2-212 3 176 3-29 2 78 3-56 3 24 2 17 3-100 3 160 3-95 2-95 3 130 3-117 2 89 3 3 3 25 2-91 3 114 3-79 2 70 3 1 3 3 2 52 3-68 3-35 3-16 2-23 3-31 3 1 2 171 3-171 3-16 2 94 3-97 3 121 2 31 3-101 3-6 3 52 2-48 3 57 3 26 2-123 3 98 3 23 2-96 3 31 3 39 2-50 3 10 3 52 2 18 3-69 3 31 3-110 2 23 3 105 3 29 2-61 3 38 3-54 2-13 3-96 3 158 2 23 3-156 3 36 2 51 3 31 3-3 3 106 2-113 3-31 3-27 2 150 3-146 3 125 2-54 3-6 3 21 2 7 3-73 3-28 3 105 2 2 3-115 3-39 2 138 3-10 3-70 2-14 3 49 3 67 2-39 3-6 3-7 2-39 3 22 3 27 3-96 2 65 3 44 3-43 2 84 3 7 3-40 2-42 3 86 3-26 2-36 3-181 3 112 2 63 3 41 3-59 3-52 2 24 3 47 3-12 2-58 3 72 3 17 2-23 3-72 3 72 2-12 3-81 3 156 3-81 2-20 3 8 3 100 2-161 3 83 3 31 2-70 3 17 3-3 2 55 3-8 3 0 2 38 3-74 3-21 3 45 2 19 3-14 3-43 2-3 3-62 3 32 2 51 3-3 3-52 2 51 3 27 3-80 3-27 2 129 3 32 3-15 2-91 3 71 3-49 2-23 3 37 3-28 2-13 3 33 3-110 2 102 3-41 3 56 3 49 2-21 3-64 3 70 2-11 3 0 3-38 2 117 3-145 3 78 2 6 3-30 3-60 2 92 3-210 3 178 3 30 2-11 3-56 3-43 2 64 3-37 3 64 2-16 3 61 3 10 2-59 3-115 3-39 3 56 2 90 3 72 3-107 2 38 3-82 3 19 2 100 3-54 3 24 2 27 3 42 3-161 2 123 3-24 3-4 3 0 2-34 3 32 3 3 2-6 3-67 3 92 2-102 3-10 3 130 2-7 3-70 3 11 3 26 2-46 3 19 3-18 2 65 3 28 3-36 2-61 3 52 3 3 2 4 3 69 3-163 2 150 3-123 3-15 3 97 2-44 3 29 3-91 2 22 3 14 3 91 2-2 3-111 3 79 2 3 3-80 3 29 2-62 3 156 3-35 3 12 2 31 3-108 3-1 2 33 3 81 3-199 2 41 3 69 3 33 2-98 3 51 3 2 3-23 2 72 3-81 3 53 2 2 3-7 3 42 2-122 3 39 3 2 2 25 3 34 3 10 2-25 3-8 3-46 3 58 2 22 3-11 3 70 2-34 3-71 3-41 2 66 3 31 3 45 2-81 3-44 3-36 3 100 2 24 3-78 3 136 2-61 3-118 3 138 2 9 3-3 3-120 2-14 3 94 3 61 2-90 3 5 3 22 3-47 2 34 3-32 3 45 2-11 3 32 3-89 2 42 3-37 3-69 2 106 3-13 3-5 2 40 3 27 3-36 3 13 2-39 3-26 3 61 2-7 3 6 3 15 2-79 3-34 3 112 2-97 3 177 3-92 3-11 2-7 3 24 3-37 2 14 3-9 3-9 2-6 3 38 3-54 2 54 3 35 3 24 2-151 3 30 3 106 3-109 2-30 3 106 3-38 2 71 3-101 3 70 2 33 3-29 3-24 2-27 3 30 3-63 2 44 3 27 3 14 3-87 2 61 3 24 3-84 2 108 3-69 3 0 2 46 3-27 3-25 2 25 3-110 3 54 3 90 2-14 3-73 3-34 2 47 3 1 3 44 2-61 3 12 3 83 2 32 3-127 3 18 2-97 3 146 3-91 3 87 2-56 3 45 3 81 2-85 3-28 3-24 2 150 3-145 3 128 2 13 3-32 3-62 3-3 2-8 3 69 3-39 2-29 3 35 3 25 2-36 3 35 3-93 2 133 3-121 3 81 2 26 3 13 3-202 3 86 2-56 3 111 3 32 2-81 3-4 3-41 2 9 3 93 3-54 2 34 3 31 3-41 2 45 3-23 3-16 3 10 2 30 3-19 3-31 2-2 3-54 3 52 2-21 3 82 3-39 2-36 3 12 3-35 3 13 2 94 3-62 3-69 2 24 3 41 3 46 2-59 3-40 3 69 2-38 3 14 3-45 2 57 3-49 3 123 3-102 2 17 3 77 3-80 2-6 3 66 3-47 2 38 3 27 3-93 2-32 3 89 3-10 3 4 2-46 3 8 3 37 2-22 3 52 3-42 2 34 3-50 3-117 2 102 3 78 3-71 2 18 3 35 3-159 3 59 2 96 3-37 3-18 2 53 3-35 3-55 2 32 3-5 3 38 2 45 3-74 3 14 2-44 3 101 3-19 3-12 2 24 3-17 3-74 2 89 3 39 3-70 2-38 3-49 3 91 2-27 3-40 3 3 3 7 2 18 3 116 3-33 2-39 3 51 3-84 2-18 3 32 3 38 2 14 3 27 3-48 2-36 3-6 3-42 3-66 2 113 3-57 3 107 2-74 3-39 3 137 2-88 3-121 3 110 2 50 3-44 3-25 3 94 2-73 3 81 3-55 2-47 3-6 3 141 2-51 3 11 3-17 2-19 3-48 3 11 2 70 3-17 3 37 3 2 2 42 3-66 3 27 2-126 3 68 3-14 2 111 3-52 3-109 2 50 3-50 3 75 2-63 3-51 3 70 3 9 2 9 3 39 3-68 2 57 3 19 3-45 2 23 3-43 3-66 2 33 3 73 3 17 3 22 2 3 3-194 3 128 2 6 3 10 3-18 2 18 3 44 3-74 2-7 3 57 3 20 2-70 3-37 3 20 3 100 2-32 3-67 3 18 2-15 3 33 3 6 2-41 3-81 3 103 2-3 3 64 3-61 2 0 3 62 3-46 3 30 2-50 3-71 3 153 2-1 3-5 3 70 2-122 3 20 3 77 2-122 3 117 3-41 3-106 2 108 3-95 3-31 2-6 3-41 3 110 2-45 3 17 3 29 2-85 3 116 3-34 2 3 3 20 3-133 3 155 2-37 3 82 3-64 2 23 3-42 3 10 2 19 3-9 3-9 2-43 3 19 3 54 3-152 2 209 3-108 3 7 2 93 3-118 3 7 2 38 3-16 3 77 2-61 3-125 3 111 2 11 3-10 3-11 3 32 2-3 3-46 3-30 2 44 3 23 3 7 2 50 3-108 3-2 2 102 3 1 3-38 2 67 3-17 3-51 3 2 2-21 3 11 3 55 2-36 3-71 3-70 2 77 3 54 3-7 2-107 3 122 3-18 3-30 2-51 3 108 3-126 2 111 3-28 3-7 2 28 3-76 3 39 2 11 3 48 3-35 2 77 3-103 3 27 3 75 2-121 3 45 3-6 2 62 3-117 3 63 2-39 3 95 3 35 2-153 3 156 3-82 3 32 2-93 3 5 3 32 2 55 3 3 3-114 2 83 3-32 3 61 2-94 3 33 3-1 2 4 3 73 3-108 3 70 2-4 3-50 3 152 2-68 3 27 3-178 2 53 3-2 3 65 2 47 3-241 3 191 2-52 3 29 3 59 3-10 2-45 3 15 3 62 2-22 3-19 3-63 2-2 3-46 3 14 2 126 3-38 3 39 3-22 2-6 3-21 3 20 2-40 3-81 3 20 2-40 3 110 3-85 2 141 3-93 3 59 2 2 3-71 3 92 3-34 2-22 3 57 3-37 2-20 3-34 3-5 2-38 3 121 3-32 2-47 3 99 3 17 3-103 2 63 3 9 3-6 2-13 3 29 3 24 2-68 3 0 3-21 2 83 3-92 3 30 2 78 3 43 3-77 3-50 2 58 3-63 3 30 2 17 3-99 3 44 2 32 3-3 3-43 2 53 3 22 3-118 2 95 3-20 3 30 3 53 2-130 3-3 3 77 2 36 3-30 3-60 2 38 3 7 3 26 2-107 3-12 3 60 3-35 2 107 3-53 3-61 2 85 3-9 3-9 2-7 3-46 3 63 2 32 3-14 3-109 2 112 3-105 3 126 3-85 2 63 3-37 3-48 2 79 3-17 3 2 2-70 3 51 3-24 2 5 3-56 3 74 3 63 2 9 3-20 3-103 2 68 3 49 3-79 2 57 3-58 3 43 2-3 3-87 3 13 2 66 3-24 3 85 3-70 2-75 3 33 3 62 2-26 3 22 3 41 2-145 3 108 3 44 2-122 3 26 3-50 2 113 3-3 3-2 3 5 2-59 3 50 3-14 2-6 3 17 3 20 2-45 3 15 3-85 2 76 3-31 3-15 3-23 2 79 3-17 3 6 2 5 3 15 3-77 2-38 3 109 3-2 2 26 3-128 3 116 2 12 3-90 3 113 3-87 2 51 3-82 3 47 2 70 3-75 3 85 2-132 3 73 3 6 2 13 3-18 3-18 2 5 3 8 3 16 3-13 2-24 3 7 3 14 2-54 3 0 3 21 2 37 3-51 3-4 2 93 3-55 3 2 3 47 2-71 3-44 3 96 2 17 3 0 3-48 2-28 3-12 3 89 2-33 3 36 3-106 2 29 3 52 3-49 3 66 2-108 3 100 3 6 2-68 3 80 3-124 2 103 3-19 3-138 2 102 3 21 3 31 3 48 2-63 3 19 3-40 2 77 3-130 3 78 2-57 3-9 3-10 2 75 3 51 3-97 2 86 3-28 3-17 3-96 2 131 3-42 3 49 2-20 3-117 3 54 2-29 3 45 3-77 2 21 3 83 3 15 2-26 3 59 3 34 3-138 2 57 3-86 3 68 2 44 3-5 3-122 2-7 3 97 3-27 2 53 3-47 3 51 3-140 2 143 3-25 3-31 2 64 3-71 3 89 2 20 3-54 3 4 2 32 3-4 3-13 2-104 3-5 3 130 3-73 2-51 3 29 3 26 2-59 3 100 3-71 2 87 3-112 3 23 2 51 3 4 3-2 3-105 2 172 3-142 3 54 2-6 3 27 3-49 2-23 3 69 3-14 2 45 3-45 3 31 2-14 3-2 3-20 3-28 2 29 3-110 3 62 2 27 3-5 3-14 2 15 3 39 3-59 2 75 3-43 3 4 2 53 3-12 3 11 3-41 2-7 3 49 3-56 2-35 3-41 3 85 2 35 3-12 3-49 2 115 3-77 3-69 3-62 2 130 3-51 3-13 2 44 3-53 3-37 2 100 3 77 3-60 2-134 3-20 3 177 2 58 3-131 3 35 3 52 2-122 3-20 3 88 2 18 3 10 3 71 2-91 3 19 3-42 2 37 3-27 3-119 3 134 2-81 3 22 3 84 2-114 3 58 3 106 2-110 3 49 3-106 2 89 3-49 3 66 2 65 3-119 3 17 3-35 2 107 3-71 3 41 2 1 3-128 3 135 2-51 3-18 3-12 2 12 3-14 3-31 2-18 3 74 3 35 3-165 2 182 3-22 3 27 2 43 3 2 3-79 2 28 3-167 3 189 2-32 3-40 3-50 3 102 2 18 3-77 3 55 2-2 3 30 3-88 2-55 3 77 3-6 2 87 3-94 3 64 2-1 3-118 3 59 3-44 2 129 3-100 3 45 2 34 3-24 3-93 2 42 3 30 3-7 2-17 3-60 3 118 2 25 3 13 3-109 3 49 2-19 3 50 3 31 2-146 3 62 3-109 2 75 3 54 3-46 2 58 3-7 3 52 3-36 2-116 3 15 3 55 2 4 3 65 3-70 2-45 3-34 3 78 2 2 3-86 3 141 2 7 3-149 3 104 3-87 2 3 3 146 3-22 2-87 3 120 3-118 2 91 3-3 3-103 2 74 3-83 3 82 3-26 2 24 3-127 3 109 2-41 3 11 3 17 2-5 3 49 3 45 2-76 3 2 3-42 2 103 3-20 3-26 3 26 2-37 3 57 3 9 2-63 3-8 3-61 2 82 3-48 3 98 2-45 3-58 3 46 2 24 3-72 3 15 3 33 2 78 3-146 3 27 2 62 3-11 3-33 2 27 3 15 3-46 2 3 3 53 3-5 3 1 2-68 3 35 3-18 2 69 3-131 3 153 2-40 3 20 3-72 2-26 3 64 3 48 2-136 3 103 3-1 3-70 2 39 3 0 3 68 2-17 3-80 3 71 2-15 3-65 3 90 2 34 3-140 3 83 3-84 2-32 3 38 3 141 2-88 3-39 3 44 2-27 3 8 3 14 2 53 3-36 3 13 2-19 3 10 3 12 3-45 2 29 3-40 3-20 2-23 3-32 3 91 2 5 3 76 3-87 2 35 3-13 3 42 2-78 3-58 3 99 3 76 2-65 3 3 3-5 2-66 3 79 3-18 2-54 3-26 3 27 2 102 3-111 3 31 3 93 2-108 3-5 3-9 2 112 3-56 3 22 2-26 3-11 3 16 2-65 3 35 3-9 2-11 3 77 3-2 3-33 2-2 3-2 3-7 2 71 3-27 3-46 2-24 3-6 3 87 2-59 3 33 3-16 3-73 2-4 3 85 3 4 2-23 3-10 3 33 2 20 3-51 3 21 2-21 3 50 3-73 2 28 3-111 3 195 3-126 2 41 3 44 3-3 2-32 3 17 3-147 2 33 3 52 3-18 2-34 3 64 3 72 2 13 3-40 3 30 3-70 2 25 3-26 3 0 2 49 3-43 3 9 2 68 3-85 3-7 2 49 3-11 3 10 3 68 2-78 3 43 3 3 2-69 3 73 3-95 2 80 3-92 3 54 2-31 3 23 3-19 2 34 3-13 3 101 3-91 2-16 3 10 3 11 2 12 3 11 3-36 2-63 3 69 3 26 2 10 3-32 3-5 2 77 3-32 3-77 3 73 2 9 3-84 3 97 2-54 3-38 3 40 2-18 3 4 3 34 2-60 3 22 3 62 3-19 2-59 3-1 3 14 2 17 3 46 3-60 2-2 3 71 3-23 2-2 3-79 3 48 2-78 3 42 3 37 3 36 2 25 3-1 3-56 2-36 3 73 3-48 2 5 3 41 3-26 2-10 3 29 3 27 3 4 2-46 3 25 3-23 2-33 3 59 3-42 2-70 3 36 3-31 2 40 3-1 3 84 2-5 3-71 3-16 3 53 2-26 3-6 3 25 2-3 3 7 3-16 2-31 3 55 3-85 2 76 3-20 3 2 2 50 3-52 3 73 3-59 2 42 3-76 3 8 2 16 3 47 3-43 2 28 3-28 3-94 2 67 3 78 3-91 3 43 2 2 3-71 3 18 2 53 3-71 3 98 2-15 3 46 3-92 2 85 3-88 3-4 2 1 3 47 3 40 3-16 2-110 3 91 3-12 2 12 3-36 3-15 2 61 3-83 3 1 2 76 3-34 3 12 3-4 2 48 3-19 3-24 2-39 3-8 3-2 2 39 3 42 3 21 2-65 3-96 3 122 2-72 3 6 3 59 3 10 2-45 3-52 3 138 2-102 3 123 3-105 2 30 3-18 3 37 2 14 3-52 3 41 2-39 3 55 3-26 3 20 2-95 3-9 3 67 2 28 3-32 3 13 2 38 3-42 3 26 2-59 3-36 3 70 3-14 2-7 3 58 3-69 2 59 3-46 3 63 2 14 3-27 3-92 2 53 3 13 3-101 2 125 3-15 3 13 3-26 2 38 3-62 3-49 2 24 3 105 3-45 2-8 3-45 3-10 2 65 3-20 3 1 3 44 2-18 3-2 3-64 2 30 3-13 3 78 2-33 3-34 3-16 2 45 3 27 3-13 2-38 3 4 3-8 3-48 2-12 3 22 3 57 2-42 3 36 3-45 2 71 3-41 3-46 2 1 3 77 3-47 2 62 3-53 3-15 3 47 2-20 3-15 3-45 2 93 3-84 3 8 2 67 3 34 3 10 2-24 3-126 3 110 3 4 2 33 3-60 3 24 2-41 3-2 3-3 2 24 3-33 3 47 2-41 3 50 3-29 2-5 3 57 3-30 3-32 2 46 3 15 3-99 2 85 3 14 3 14 2-34 3-53 3 55 2 0 3-31 3 87 3-33 2-30 3-3 3-50 2 51 3 2 3-8 2-56 3 70 3 11 2-24 3-30 3-28 2 46 3 6 3-21 3 27 2-64 3 34 3 55 2-82 3-48 3 91 2-6 3-16 3-30 2 11 3-21 3 71 2-19 3 61 3-87 3 46 2-81 3 110 3 27 2-29 3-28 3 35 2-88 3 48 3 16 2-31 3 24 3 9 3-12 2 18 3-35 3-1 2 7 3-5 3-1 2 36 3 32 3-25 2-2 3 0 3-105 2 54 3-9 3 58 3-18 2-10 3 24 3-25 2-3 3-11 3 64 2-1 3 22 3 10 2-46 3-35 3 64 2-90 3 9 3 0 3 54 2-81 3 54 3-50 2 50 3-10 3 15 2-39 3 40 3 20 2-8 3-54 3 66 3-5 2-18 3-43 3 23 2-34 3 89 3-68 2 46 3-6 3-92 2 14 3 94 3-39 2-34 3 82 3-72 3 9 2-13 3 48 3-104 2 23 3 37 3 36 2-16 3 57 3-47 2-7 3 32 3-121 3 141 2-30 3-53 3 71 2-81 3 74 3-39 2-78 3 146 3-36 2-80 3 74 3-59 2 83 3-60 3 41 3-59 2 65 3-19 3-16 2 56 3-106 3 68 2-44 3 69 3-26 2-5 3-55 3 86 2-9 3-58 3 29 3-12 2 12 3 39 3-38 2-6 3-91 3 93 2-53 3 107 3-16 2-40 3-2 3-1 3 16 2 10 3-29 3 48 2-29 3 38 3-7 2-17 3 3 3-25 2 26 3-65 3 67 2 14 3-18 3 34 3-116 2 61 3-6 3-33 2 104 3-40 3-27 2 8 3 14 3-24 2-80 3 124 3-31 3 5 2 4 3-21 3-24 2 15 3-23 3 13 2 43 3-39 3-13 2 4 3 2 3 85 2-132 3 117 3-126 3 126 2-65 3 63 3 9 2-30 3 50 3-46 2-81 3 39 3 71 2 12 3 1 3-13 2-23 3-10 3-98 3 107 2-62 3 67 3-5 2-69 3 60 3-55 2 70 3-37 3-44 2 76 3-64 3 50 3 16 2 14 3-68 3 46 2 3 3-8 3 49 2-101 3 37 3-94 2 145 3-47 3 6 2 24 3-1 3-103 3 50 2-78 3 137 3-29 2-82 3 111 3-55 2-26 3 55 3-55 2 48 3 8 3 18 3-26 2 33 3-75 3-149 2 153 3 40 3 34 2 3 3-43 3-84 2 118 3 3 3-63 2 10 3 56 3 0 3-52 2-27 3 81 3-22 2-62 3 7 3 52 2-21 3-6 3 50 2-57 3-25 3 84 2-32 3-47 3 31 3-42 2 45 3 34 3-4 2-16 3 6 3-2 2-21 3-5 3-43 2 45 3-7 3 5 3 27 2 8 3-50 3 54 2-115 3 93 3 7 2 4 3-14 3-37 2 27 3-64 3 83 2-13 3-10 3 30 3-22 2 16 3-20 3 30 2-6 3-20 3 34 2-24 3 39 3-71 2-40 3 23 3 58 2-5 3 5 3-38 3 55 2-23 3-21 3 31 2-17 3-50 3 14 2 61 3 11 3-81 2-39 3 69 3 18 3-102 2 102 3-32 3 19 2 16 3-27 3-5 2-24 3 68 3-207 2 179 3 34 3-10 2-2 3-65 3 42 3 15 2 51 3-38 3-98 2 6 3 80 3-54 2-26 3 61 3-18 2-45 3 62 3 52 3-38 2-21 3 40 3 0 2-94 3 88 3 16 2-39 3 11 3 47 2-19 3-70 3 22 2-65 3 106 3 28 3-66 2 25 3 22 3-15 2-42 3-36 3 64 2-28 3 33 3-57 2 25 3 10 3-8 2-9 3 16 3-66 3 41 2-43 3 22 3 28 2-85 3 94 3 52 2-63 3 28 3 65 2-93 3 22 3 16 3-1 2-11 3-16 3 15 2-30 3 42 3 11 2-108 3 46 3 41 2 20 3-40 3 55 2-5 3-50 3 26 3-47 2 44 3 8 3-12 2-43 3 41 3-34 2 48 3-9 3-80 2 39 3 57 3 40 3-51 2-49 3 3 3-24 2 68 3-70 3 77 2-60 3-12 3 61 2-16 3-32 3-8 2 107 3-82 3-25 3 7 2 75 3-51 3 26 2 30 3-12 3-18 2-64 3 24 3 35 2 24 3-58 3 18 2-5 3 0 3-61 3 147 2-52 3-22 3 32 2-82 3 80 3 1 2 3 3-95 3 98 2-77 3-19 3 99 3 12 2 26 3-33 3-25 2 20 3-45 3 11 2-20 3 25 3 39 2 0 3-65 3-41 2 68 3 26 3-65 3 34 2 14 3-14 3-17 2 16 3 38 3-35 2 42 3 3 3 17 2-17 3 25 3-90 3-13 2 26 3 48 3 2 2-32 3-19 3 51 2-55 3 56 3-49 2 23 3 1 3-47 2 51 3-43 3 14 3 23 2-39 3 65 3-63 2 36 3-88 3 2 2 44 3-5 3 46 2-29 3 5 3 57 2-11 3-45 3-37 3 29 2-20 3 22 3 7 2 59 3-5 3 1 2-9 3 3 3-45 2 26 3 34 3-94 3 98 2-67 3 48 3-80 2 23 3 1 3 31 2-22 3 13 3 8 2-56 3 69 3-26 2 55 3-30 3-71 3 97 2-95 3 44 3 19 2 43 3-100 3 53 2-75 3 56 3-51 2 35 3-28 3 100 2-54 3 38 3 0 3 27 2-36 3-53 3 88 2-43 3 0 3-47 2-42 3 55 3-14 2 36 3 4 3 39 3-47 2-38 3 41 3 23 2 3 3-42 3-14 2 17 3 19 3-57 2 58 3-46 3-23 2 19 3-8 3 107 3-24 2-35 3 48 3-55 2 10 3-30 3 67 2-4 3-16 3 31 2-72 3 50 3-27 3-21 2 11 3 35 3-56 2 42 3 21 3-37 2-11 3 6 3 43 2-59 3 52 3-1 2-53 3 97 3-162 3 160 2-43 3-36 3 13 2-13 3 37 3-26 2 13 3 31 3-29 2 29 3-69 3 43 2 9 3-56 3-45 3 61 2-47 3 95 3-8 2-16 3 37 3-33 2 11 3-6 3-20 2-22 3 10 3 63 3-60 2 63 3-67 3-19 2 71 3-20 3-59 2 18 3-21 3 63 2-112 3 35 3 101 2-61 3 24 3-83 3-9 2 61 3-10 3 40 2-18 3 57 3-84 2 44 3 22 3-45 2 64 3-25 3 8 3-7 2 26 3-18 3-22 2 18 3-43 3 42 2-55 3-40 3 66 2 22 3-48 3 12 2-21 3 60 3 17 3-64 2 9 3 59 3-18 2 6 3-1 3-44 2-17 3 32 3-26 2 41 3-65 3 59 2 14 3 15 3-9 3 15 2-77 3 71 3-10 2-40 3 5 3 31 2-69 3 104 3-105 2 40 3 24 3-34 3 52 2-15 3-37 3 51 2-24 3-20 3 26 2-33 3 29 3-103 2 105 3-46 3-25 2-8 3 85 3-30 3 33 2-22 3-8 3-14 2 24 3-62 3 42 2 77 3-94 3 58 2-79 3 93 3-28 3 3 2 15 3-61 3-12 2 86 3-33 3-49 2 33 3-4 3 46 2-141 3 71 3 84 2-18 3-2 3-65 3-25 2 76 3 2 3 41 2-85 3 51 3 31 2-89 3 44 3-47 2 91 3-77 3 67 2-80 3-18 3 20 3 74 2-37 3 39 3-21 2 7 3-17 3-18 2 27 3-40 3 49 2-50 3 1 3 46 3-30 2-27 3 27 3 31 2-66 3 30 3 40 2-46 3-15 3 41 2 16 3-19 3 53 2-52 3-25 3-29 3 46 2 54 3-20 3-13 2-1 3-53 3 40 2-73 3 28 3 77 2-64 3 35 3 32 3-20 2-19 3-53 3 74 2 1 3-13 3 3 2-67 3 83 3-23 2 3 3-80 3 81 2-40 3 63 3-59 3 23 2 44 3-75 3-8 2 1 3 26 3 78 2-27 3-44 3 48 2-67 3 69 3-76 2-31 3 62 3 7 3-37 2 11 3 20 3 9 2-25 3 15 3 31 2-42 3 35 3 3 2-51 3 43 3-10 3-71 2 68 3 46 3 12 2-22 3-37 3-10 2-7 3 30 3 9 2-82 3 107 3-41 2-26 3 51 3-64 3-25 2 83 3 21 3-124 2 82 3-39 3 32 2-9 3 30 3-38 2 24 3-14 3 23 2 8 3-29 3-39 3 86 2-21 3 12 3 6 2-27 3-14 3 43 2-53 3 11 3 38 2-33 3 4 3-33 3 70 2 15 3-118 3 24 2 67 3-30 3-9 2 2 3-32 3 73 2-46 3 21 3-16 2 4 3 2 3 59 3-54 2 4 3-59 3 33 2 56 3-11 3-7 2 24 3-5 3-15 2-40 3-66 3 89 3-35 2-20 3 86 3 2 2-53 3 36 3-58 2 80 3-45 3 56 2-85 3-22 3 17 2 9 3-18 3 31 3 6 2-42 3 56 3-7 2 15 3 16 3-37 2 7 3-6 3-81 2 126 3-40 3 16 2-84 3 122 3-87 3-30 2 47 3-35 3 16 2 5 3 73 3-8 2-11 3-21 3-38 2 91 3-61 3 71 3-57 2-32 3 22 3-70 2 28 3 67 3 21 2-108 3 23 3 83 2-46 3 29 3-6 2-24 3-37 3 86 3-40 2-12 3 48 3-48 2 49 3-12 3-37 2-21 3-5 3 14 2 12 3 6 3-2 3 23 2-14 3 9 3-20 2-10 3 23 3 15 2-25 3 0 3-16 2 43 3 1 3-52 2 68 3-101 3 76 3-18 2 59 3-203 3 187 2-23 3 9 3-11 2-20 3-30 3 99 2-49 3-17 3-12 2-11 3 46 3 2 3-22 2 16 3-56 3 49 2-38 3 61 3-57 2 20 3 35 3-88 2 83 3-8 3-58 3 37 2-37 3 13 3-12 2 4 3 32 3-41 2 33 3 44 3-28 2 42 3-65 3 56 2-6 3-75 3 37 3-13 2 59 3-13 3-46 2 44 3-87 3-10 2 98 3-55 3 77 2-80 3 70 3-91 3 42 2-10 3 72 3-19 2-11 3-89 3 101 2 11 3 5 3-48 2-53 3 52 3 18 2-14 3-2 3 15 3-32 2 50 3 19 3-19 2-66 3 92 3-56 2-13 3 35 3-13 2 9 3-16 3 4 2 5 3-28 3 8 3 26 2-53 3 61 3 7 2-22 3 46 3-31 2 17 3-87 3-18 2 93 3-31 3-39 3 46 2 29 3-50 3 20 2-76 3 60 3-74 2 78 3 34 3-43 2 22 3-52 3-23 2 50 3-6 3 3 3 27 2 40 3-12 3 2 2-48 3-12 3-22 2 10 3 25 3-40 2 96 3-78 3 78 2-44 3 12 3 24 3-104 2 77 3-52 3 13 2 20 3 16 3 1 2-36 3 45 3-81 2 66 3 9 3-33 3-41 2 79 3-15 3 29 2 13 3-71 3-26 2 75 3-56 3-10 2 16 3-9 3 15 2 66 3-7 3-41 3 37 2-86 3 45 3 38 2-19 3-79 3 80 2-70 3 72 3-67 2 94 3-80 3 9 3-1 2 0 3 88 3-82 2 17 3 21 3-38 2 44 3-43 3 55 2-51 3 68 3-55 2 38 3-72 3 29 3-37 2 63 3 26 3-35 2-5 3 14 3-50 2 26 3 15 3 7 2-39 3 58 3-42 2-34 3 73 3-81 3 67 2-78 3 40 3-30 2 35 3 11 3 15 2-2 3 14 3 35 2-59 3-19 3-59 3 137 2-72 3 30 3 27 2-76 3 65 3-4 2-16 3 9 3-42 2 26 3 20 3 15 2-87 3-31 3 26 3 60 2 23 3-35 3-51 2 72 3 8 3-7 2-19 3 9 3-28 2-10 3-6 3 19 3 17 2-6 3-18 3-72 2 102 3 9 3-58 2 81 3 16 3-90 2 24 3 59 3-69 2 11 3-16 3-11 3 60 2 24 3-5 3-2 2-31 3 5 3 22 2-98 3 115 3-31 2-31 3-9 3 3 2 39 3-32 3 44 3-12 2-30 3-10 3 51 2-16 3-69 3 22 2 40 3-41 3 18 2 16 3-149 3 161 3 0 2 12 3 36 3-118 2-3 3 89 3-49 2 10 3 11 3 18 2-27 3 20 3-22 2 22 3-71 3 20 3 66 2-79 3 79 3-54 2-24 3 69 3-35 2 23 3 14 3-17 2-14 3-12 3 69 3-80 2-4 3-40 3 34 2 16 3-11 3 61 2-26 3 17 3-3 2 11 3-1 3 27 2-7 3-57 3-5 3 10 2-26 3 74 3 14 2-55 3-17 3 12 2 28 3-45 3-102 2 89 3 57 3 10 2-57 3 76 3-63 3 7 2 34 3 0 3 0 2-20 3 23 3-46 2 0 3-15 3-25 2 79 3-55 3 7 3 71 2-70 3-7 3 52 2-30 3 12 3 8 2-38 3-21 3 49 2-27 3-16 3 50 2-60 3 62 3-17 3-17 2 29 3 16 3 9 2-49 3 62 3-38 2-17 3 7 3-67 2 32 3 83 3-53 2-24 3-19 3 72 3-2 2-5 3-58 3 63 2-42 3-38 3 25 2-20 3-8 3 11 2 115 3-51 3-41 3 68 2-108 3 61 3-2 2-42 3 10 3 41 2-12 3 50 3-66 2 52 3-62 3-5 2 58 3-78 3 102 3-20 2 2 3-36 3 65 2-72 3-14 3 6 2 32 3-3 3-31 2-2 3-24 3 82 3-67 2 65 3 14 3 0 2 27 3-93 3 29 2 11 3-42 3 61 2 19 3-57 3 32 2 6 3-33 3-29 3 28 2-15 3 85 3-28 2 17 3-8 3-114 2 89 3-32 3-12 2 6 3-17 3 39 2-37 3 68 3-38 3-33 2 91 3-92 3 47 2-43 3 13 3-2 2 9 3 20 3-22 2-48 3 43 3-9 3 74 2-79 3 6 3 74 2-22 3-16 3-74 2 58 3 7 3-94 2 106 3-38 3-48 2 65 3-22 3-19 3 56 2-17 3-20 3 47 2 15 3-17 3 32 2-10 3-46 3 45 2-58 3 26 3-31 3 37 2-89 3 123 3-42 2-31 3 33 3 4 2 28 3 21 3-66 2-51 3 80 3 0 2-10 3 17 3-2 3 0 2-68 3-27 3 75 2-31 3 86 3-97 2 50 3-84 3 97 2 42 3-71 3-61 2-1 3 79 3-72 3 92 2 8 3-5 3-62 2-9 3 23 3 34 2-34 3 34 3-39 2 52 3-66 3 41 3-62 2 91 3-104 3-60 2 106 3 0 3 31 2-8 3-16 3-20 2 70 3 5 3-69 2 9 3 8 3-6 3-6 2-26 3 67 3 65 2-88 3-15 3-52 2 65 3 31 3-25 2-54 3 23 3 54 3-87 2 68 3-7 3 12 2 8 3-80 3 59 2-25 3-65 3 126 2-50 3-7 3 21 2 61 3-126 3 106 3-87 2 27 3 17 3-17 2 45 3 9 3 3 2 27 3-40 3 9 2 10 3-21 3-28 2-6 3 22 3-46 3 21 2 35 3-75 3 89 2-29 3 48 3-30 2-69 3 80 3 21 2-43 3-25 3 59 3-26 2-9 3-3 3-32 2-40 3 21 3 65 2-33 3 57 3-20 2-25 3-18 3-20 2 49 3 32 3-40 3 63 2-43 3-47 3 8 2-80 3 59 3-44 2 25 3 17 3 53 2-9 3 34 3-121 3 127 2-123 3 118 3-23 2 15 3-71 3 30 2-14 3 36 3-75 2-2 3 48 3 57 2-64 3 2 3-4 3 45 2 16 3-18 3-98 2 65 3-2 3 51 2-109 3 23 3 38 2 18 3-25 3 73 2-43 3-6 3 53 3-53 2-20 3-15 3 61 2 11 3 1 3-24 2 26 3-20 3-16 2 25 3-10 3-21 3 2 2-14 3 53 3-83 2 51 3-59 3 7 2 43 3 43 3-31 2-44 3 77 3-56 2 15 3 17 3-42 3 14 2 40 3-11 3-37 2 14 3 59 3-39 2-12 3-23 3 25 2-77 3 15 3 12 2 37 3-21 3 32 3-101 2 133 3 5 3-47 2-20 3 37 3-126 2 80 3-36 3 44 2-17 3 85 3-66 3-10 2 42 3-36 3 64 2-31 3-8 3 16 2-6 3 1 3-51 2-31 3 86 3 10 2-30 3 40 3-53 3 61 2-59 3 1 3 61 2-90 3 89 3-59 2-2 3-28 3 33 2-25 3-24 3 40 3 34 2-8 3-73 3 76 2-14 3 67 3-110 2 15 3 10 3 23 2-13 3-45 3 19 2 18 3 45 3-10 3-86 2 94 3 26 3-40 2-53 3 49 3-46 2 97 3-60 3 58 2-156 3 128 3 26 2 3 3-86 3 9 3 57 2-29 3 4 3-9 2-21 3-79 3 99 2 49 3-110 3 69 2-5 3 24 3 28 3-51 2-84 3 54 3 69 2-79 3 21 3-5 2 37 3 2 3-33 2-36 3 62 3 3 2-23 3-2 3 22 3-46 2 20 3 37 3 14 2-90 3 77 3 4 2-62 3 51 3 70 2-46 3-128 3 111 3-26 2 15 3-4 3 15 2-84 3 128 3-85 2 62 3-69 3 59 2-58 3 30 3 15 2-14 3 19 3 41 3-135 2 22 3 21 3 28 2-23 3 42 3-44 2 50 3-14 3 11 2-101 3 26 3 70 2-20 3-27 3 32 3 41 2-38 3-39 3-27 2 11 3 15 3 25 2-10 3 10 3-24 2 37 3-20 3-4 3-20 2 35 3-13 3-61 2 85 3-28 3-52 2 56 3-21 3 37 2-1 3 23 3-80 2 37 3 17 3-50 3 21 2 53 3-51 3 0 2-17 3 75 3-28 2-44 3-33 3 36 2 77 3-37 3 17 3-73 2 10 3 88 3-113 2 50 3-23 3 4 2 56 3-11 3 6 2-40 3-11 3 101 2-24 3-37 3 52 3-36 2-89 3 105 3-47 2 34 3-96 3 16 2 45 3 10 3 32 2-27 3-73 3-52 2 138 3-59 3 31 3-78 2 121 3-103 3 96 2-46 3 82 3-33 2-15 3 8 3-31 2 66 3-69 3-78 3 114 2-37 3 49 3-92 2 106 3-100 3 83 2-115 3 94 3-16 2-13 3-35 3 74 2-124 3 156 3-54 3 44 2 3 3-4 3-100 2 39 3 40 3-52 2 27 3-16 3 42 2 36 3-56 3 32 2-22 3 31 3-24 3 12 2-27 3 15 3-82 2 40 3 65 3 5 2 25 3-104 3 106 2-92 3 24 3-45 3 70 2-34 3-43 3 48 2 5 3 42 3-44 2-18 3 24 3 20 2-100 3 68 3-31 2 0 3 30 3 11 3 22 2-75 3 51 3-15 2-30 3-2 3 7 2 30 3-37 3 39 2-17 3-9 3 48 3 67 2-121 3 47 3 49 2-6 3-9 3-56 2 13 3 11 3 9 2 21 3-81 3 84 2-40 3-26 3 30 3-61 2 26 3 47 3 5 2 16 3-36 3 28 2-19 3 2 3-64 2 64 3-294 3 231 2-19 3 114 3-81 3-34 2 25 3-19 3 130 2-23 3-27 3-22 2 59 3-70 3 41 2-65 3 88 3-79 3 60 2-23 3 5 3 1 2-36 3 65 3-9 2-47 3 28 3 33 2-45 3-24 3 60 2-32 3 6 3-50 3 27 2-41 3-50 3 107 2 48 3-103 3-3 2 88 3-9 3-13 2-32 3 57 3 5 3-113 2 88 3-25 3-4 2 69 3-68 3 35 2 35 3-98 3 51 2-52 3 46 3-13 2 26 3-13 3-11 3 28 2-12 3 25 3-17 2-35 3 24 3-6 2-39 3 24 3 12 2 8 3-6 3 39 2-20 3 25 3-66 3 69 2-15 3 1 3-72 2 27 3 68 3-94 2-32 3 43 3 10 2 18 3 7 3 2 3 33 2-83 3 92 3-17 2-7 3-12 3-50 2 53 3-52 3 75 2-11 3-51 3-20 2 33 3 45 3-77 3 27 2 16 3-73 3 124 2-33 3-29 3 9 2 41 3-22 3 11 2 3 3-112 3 41 3 30 2 4 3-28 3 39 2-27 3 3 3 16 2-21 3 44 3-17 2-58 3 19 3 77 2-12 3-58 3 40 3 2 2-24 3 50 3 4 2-68 3 43 3-25 2-21 3-37 3 31 2 67 3-49 3 26 2 13 3-18 3-19 3 1 2-28 3 14 3 23 2 11 3-58 3 39 2 47 3-101 3 67 2-12 3 32 3 5 3-28 2-45 3 53 3 16 2-24 3-72 3 90 2-63 3 67 3 7 2-92 3 91 3-10 2-7 3 10 3-26 3 49 2-15 3-83 3-22 2 93 3-21 3 3 2-36 3 66 3 18 2-69 3-55 3 126 2-26 3-63 3 9 3 42 2 3 3 3 3-56 2 66 3-73 3 30 2 43 3 13 3-8 2-38 3-17 3 46 3-36 2-1 3 27 3 19 2-21 3-86 3 97 2-9 3 14 3-56 2 26 3 2 3 17 2 27 3-18 3-33 3-38 2 24 3 77 3-60 2-35 3 9 3 10 2 67 3-76 3 82 2-9 3-11 3-62 3-60 2 62 3 64 3-17 2-27 3 54 3-69 2 54 3-24 3-33 2 44 3-40 3 57 2-83 3 53 3 40 3-83 2 79 3-4 3-69 2 17 3 46 3-84 2 82 3-7 3 33 2-49 3-40 3 65 2 23 3-44 3 31 3-62 2 10 3-7 3-44 2 80 3 11 3 24 2-42 3-71 3-49 2 133 3-17 3 26 3 15 2-40 3 9 3-31 2 55 3-52 3-21 2 36 3 1 3-28 2-35 3 1 3 61 2-73 3 73 3 32 3-6 2-8 3-32 3 53 2-39 3 25 3-67 2 73 3-60 3 42 2 12 3-46 3 42 3 0 2-30 3 54 3-71 2 13 3-16 3 17 2 47 3-72 3-34 2 71 3 2 3 37 2-47 3 30 3 23 3-33 2-36 3-58 3 61 2 41 3-11 3-37 2 0 3 52 3-9 2-21 3 9 3-31 2 14 3 6 3 53 3-66 2 21 3-22 3 7 2-9 3 37 3 9 2-109 3 109 3-23 2-22 3 34 3-50 3 77 2-48 3-13 3 37 2 13 3-19 3 3 2-6 3-9 3-14 2 9 3 39 3-20 2-34 3-12 3 45 3-22 2 2 3 40 3 3 2-12 3-52 3-2 2 54 3 17 3 10 2-15 3-43 3-9 3-45 2 87 3-48 3-46 2 59 3 15 3 10 2 21 3 9 3-78 2 52 3-33 3-34 2 68 3-12 3 24 3-50 2-18 3 74 3-89 2 65 3-59 3 41 2 12 3 5 3 3 2-36 3 77 3-9 2-60 3 27 3 23 3-12 2-43 3 65 3-59 2 45 3-81 3 28 2-15 3 10 3 3 2 67 3-34 3-35 3-14 2 81 3-51 3 34 2-33 3 36 3 22 2-15 3-48 3-55 2 96 3-34 3-21 2 53 3-67 3 31 3 17 2-5 3 18 3-62 2 56 3 2 3-6 2 12 3 2 3-92 2 62 3 53 3-38 3 22 2-43 3 27 3 4 2-41 3-14 3 27 2-18 3 19 3-13 2 22 3-15 3 28 2-4 3 17 3-6 3-11 2 0 3-16 3 31 2-24 3 31 3-47 2 55 3-70 3 23 2 6 3 7 3 27 2-18 3-46 3 34 3 16 2 19 3-16 3-21 2-31 3 63 3-7 2-23 3-36 3 18 2 54 3-8 3-101 3 117 2-71 3 33 3-11 2-19 3 19 3 48 2-30 3-13 3-24 2 16 3-35 3 10 2-3 3 66 3-83 3 34 2-19 3 45 3-14 2-14 3 18 3 5 2 32 3-44 3-17 2 64 3-25 3 23 2-22 3-14 3 18 3 19 2-23 3 11 3 17 2-13 3 15 3-35 2 31 3-67 3 19 2 9 3-48 3 93 3-9 2-28 3 13 3-13 2 28 3 1 3-48 2-27 3 82 3-8 2-64 3 64 3-72 2 61 3-9 3-43 3 5 2 7 3 27 3 12 2-87 3 32 3 42 2-5 3-10 3-12 2-16 3 19 3 26 3-32 2 21 3-24 3 62 2-68 3-5 3 8 2 21 3-5 3 47 2-98 3 6 3 82 2-28 3 7 3-11 3-54 2 35 3 28 3 20 2-40 3 45 3 1 2-43 3 25 3-2 2-15 3 13 3 12 2-53 3 72 3-13 3-13 2 38 3-73 3 3 2 21 3 31 3-12 2-13 3 0 3-2 2-11 3 39 3-56 3 49 2 20 3-17 3-98 2 24 3 37 3-10 2 23 3 10 3-2 2 33 3-10 3-46 2 39 3-17 3-64 3 80 2-33 3-19 3 57 2-22 3-39 3 15 2 17 3-62 3 6 2 58 3-33 3 72 3-16 2-57 3 18 3 12 2 11 3-26 3-64 2 28 3 57 3 7 2-38 3 6 3 14 2-43 3 73 3-3 3-46 2 69 3-44 3 17 2 8 3-36 3 20 2-2 3 34 3-62 2-38 3 90 3-62 2 45 3-67 3-25 3 18 2 17 3 23 3 14 2 53 3-68 3 28 2 6 3 17 3-25 2-27 3 14 3-34 3 9 2-16 3 83 3-93 2 56 3-35 3-19 2 57 3-42 3 62 2-14 3 16 3-34 2 36 3-12 3-24 3-27 2 28 3 19 3-5 2-68 3 109 3-60 2 48 3-34 3-1 2-20 3 9 3-5 3 53 2-44 3-43 3 61 2-30 3 32 3-78 2 13 3 52 3 37 2-40 3 9 3-1 2 23 3-59 3 58 3-80 2 27 3 18 3 52 2-96 3 71 3-8 2-73 3 27 3 12 2 21 3-37 3 29 2 31 3 0 3-46 3 42 2-33 3 2 3 3 2-4 3-27"/>
<path stroke="#ff8000" marker-start="url(#m1)" marker-mid="url(#m1)" marker-end="url(#m1)" d="M3398,9226l3-88 2-35 3-53 3 199 2-30 3-502 3 365 3 45 2 33 3 19 3-178 2 90 3-36 3 82 2-130 3 290 3-416 2 248 3 71 3-26 2 107 3-80 3 63 3-103 2-186 3 266 3-215 2-113 3 266 3 151 2-106 3-21 3 138 2-394 3 182 3-75 2 83 3-96 3 59 3-60 2 234 3-337 3 78 2 170 3 48 3 47 2-165 3 112 3 117 2-293 3 135 3 93 3-74 2-30 3-31 3-14 2 164 3-47 3 48 2-177 3 130 3 13 2 161 3-440 3 338 2-342 3 254 3-94 3 82 2 18 3 64 3-14 2-213 3 200 3 7 2-69 3-225 3 273 2-86 3-274 3 478 3-284 2 193 3-31 3 17 2-31 3-255 3 306 2 118 3-85 3 136 2-161 3 77 3 98 2-217 3-68 3-55 3 284 2-163 3-22 3 54 2-111 3 18 3 67 2-543 3 521 3-5 2-18 3 9 3 35 2-235 3 399 3-75 3 105 2-167 3 4 3-118 2 275 3-75 3-240 2 92 3-235 3 313 2 115 3 56 3-76 3-89 2 10 3 19 3-17 2-59 3-136 3 86 2 224 3-4 3-50 2 51 3-260 3 56 2 110 3-13 3-16 3-22 2 306 3-265 3-124 2 151 3-69 3 52 2 9 3 4 3-135 2 204 3-85 3 108 3 12 2-106 3 160 3 22 2-211 3-139 3 215 2-75 3-25 3 143 2 80 3-131 3 94 2-221 3 134 3-155 3-11 2 206 3-29 3 55 2-75 3-69 3-30 2-16 3 130 3 34 2-107 3 242 3-428 2 143 3 133 3 69 3-162 2 65 3-97 3 137 2 21 3-4 3 7 2 28 3-25 3 23 2-266 3 164 3-95 3 113 2-104 3-94 3-13 2 284 3-101 3 67 2-172 3 122 3 243 2-313 3 31 3 38 2 28 3-53 3 88 3-198 2 297 3-154 3 181 2-411 3 214 3 12 2 72 3-82 3 72 2 55 3-48 3-89 3 48 2-122 3 205 3-92 2 122 3-339 3 267 2 11 3 73 3-177 2 151 3 14 3-35 2-31 3-12 3-248 3-41 2 281 3-29 3 189 2-34 3 43 3-212 2-47 3 164 3-142 2 36 3 144 3-95 2-55 3-238 3 209 3 87 2-43 3 80 3-36 2 47 3-477 3 330 2 101 3-37 3-95 2 65 3-59 3 130 3-78 2 71 3 140 3-46 2-40 3-6 3 99 2-90 3-4 3-83 2-191 3 239 3-45 2-158 3-48 3 111 3 183 2-5 3-72 3 173 2-68 3 41 3-134 2 64 3 2 3-58 2 112 3-200 3 103 2 34 3 11 3-27 3 152 2-25 3-244 3 129 2-38 3-15 3 60 2-112 3 8 3 112 2-41 3 179 3-141 3 74 2-316 3 322 3-160 2-95 3-36 3 71 2 109 3-18 3 48 2 66 3-56 3-8 2 98 3-54 3-7 3-100 2 134 3-97 3-5 2-10 3-58 3 95 2-23 3 127 3-164 2 114 3 4 3-118 3 69 2 19 3-107 3-38 2 226 3-171 3 43 2 93 3-9 3 12 2-84 3-149 3 125 2 138 3-19 3-18 3 4 2-125 3 140 3-30 2-254 3 202 3-23 2-149 3 180 3 39 2 89 3 26 3-250 2 273 3-151 3 156 3-64 2-65 3-137 3-24 2-156 3 117 3 152 2 109 3-196 3 123 2 68 3-14 3-158 3 121 2-23 3-102 3 104 2 102 3-101 3-155 2 134 3 64 3-181 2 63 3 171 3-90 2 114 3-103 3 5 3-30 2 17 3 5 3-23 2-161 3 240 3 32 2-114 3 57 3 29 2 14 3-104 3 54 3 12 2-57 3 27 3-55 2 67 3 18 3-40 2 63 3-10 3-6 2-165 3 228 3-258 2 137 3 13 3 2 3 54 2 79 3-28 3-31 2-115 3 91 3-162 2 150 3-142 3 117 2-72 3-100 3 190 2-9 3-83 3 6 3 75 2 76 3-130 3-101 2 167 3-88 3-12 2 91 3-88 3 28 2 175 3-69 3-55 3 14 2-62 3 56 3 51 2 42 3-36 3 158 2 32 3-234 3-72 2 91 3-13 3-191 2 236 3-127 3 79 3-56 2 5 3 71 3 13 2-39 3-95 3 111 2-87 3 214 3-176 2 50 3 95 3-97 3 34 2-134 3 163 3-80 2-38 3 181 3-167 2 129 3-166 3 48 2 70 3-61 3 46 2-142 3-92 3 188 3 152 2-206 3-3 3 165 2-81 3 99 3-98 2 3 3 119 3-135 2 49 3-5 3-227 2-50 3 278 3-84 3-77 2 72 3-18 3 71 2 54 3 77 3-177 2 94 3 109 3 3 2-160 3-59 3-25 3 126 2 10 3 31 3-118 2 91 3-106 3 171 2 15 3-3 3-89 2 37 3-171 3 82 2-72 3 101 3 66 3-62 2 61 3-72 3 142 2-201 3 33 3 58 2 14 3-46 3-51 2 63 3-32 3 74 3 56 2-134 3 2 3-124 2 221 3-139 3 145 2-105 3 100 3-6 2-30 3 79 3-112 2 73 3-174 3 176 3 38 2-252 3 93 3 28 2 15 3-27 3 164 2-185 3 128 3-339 2 3 3 284 3-60 2 92 3-102 3-32 3 222 2-221 3 179 3-241 2 52 3 154 3-86 2 65 3-43 3-45 2 84 3-83 3 92 3-127 2 68 3-46 3 89 2 9 3 57 3 41 2-97 3-72 3-14 2 79 3-9 3-65 2 45 3 104 3 27 3-55 2-214 3 160 3-99 2 125 3 52 3-182 2 78 3-8 3-5 2-100 3 251 3-125 2-70 3 165 3-109 3 61 2 51 3-50 3-214 2 307 3-273 3 222 2-129 3 64 3 109 2-281 3 310 3-137 3-59 2 135 3-80 3 47 2 32 3-247 3 72 2 33 3 78 3-94 2 130 3-59 3 120 2-59 3 50 3-198 3 112 2-25 3 29 3 52 2-210 3 182 3 58 2-124 3 10 3-23 2 112 3 20 3 51 3-152 2-107 3-49 3 123 2 49 3 23 3-71 2 61 3-128 3 15 2 35 3 6 3 56 2 1 3 24 3 48 3-262 2 130 3 69 3-40 2 83 3-121 3 81 2-48 3-149 3 185 2 7 3-79 3 87 2 62 3-199 3 14 3-149 2 227 3 60 3-32 2-16 3-11 3 58 2 44 3-93 3 86 2-12 3 72 3-130 3 104 2-169 3 84 3 97 2-32 3-145 3 170 2-74 3 103 3-140 2 33 3 42 3 0 2 10 3-157 3 106 3 25 2-108 3 79 3-43 2 91 3-94 3 33 2 47 3-81 3-7 2 98 3-58 3-86 3 43 2-24 3-76 3 209 2-86 3-18 3 83 2 115 3-241 3-49 2 164 3-31 3 62 2 14 3-93 3-82 3 29 2 52 3 61 3-114 2 98 3-43 3-29 2 37 3-104 3 120 2 64 3-196 3 80 2 161 3-132 3 82 3-166 2 93 3 20 3-188 2 218 3-29 3-30 2 80 3-9 3 110 2-89 3-285 3 40 3 279 2-99 3-148 3 37 2 106 3 24 3 84 2-80 3-121 3 123 2-22 3-104 3 77 2 22 3-30 3 168 3-435 2 330 3-45 3 29 2-67 3 91 3-73 2 97 3-161 3 22 2 180 3-167 3 167 3-161 2 61 3 46 3-183 2 81 3-35 3 86 2-23 3 12 3 104 2-112 3-13 3 62 2-77 3-1 3 92 3-63 2-4 3 90 3-73 2-30 3 80 3-17 2-92 3 55 3 23 2 41 3-89 3-130 2 279 3-180 3 155 3-100 2-23 3-12 3 31 2 144 3-182 3-78 2 63 3 88 3-95 2 24 3 130 3-32 3 29 2-123 3 71 3-237 2 301 3-222 3-26 2 170 3-42 3-27 2 131 3-78 3 94 2-293 3 151 3 75 3-77 2-20 3 102 3-48 2 139 3-195 3-117 2 185 3-113 3 98 2-204 3 71 3 301 2-207 3 133 3-86 3-6 2-13 3 3 3 169 2-189 3-20 3 211 2-289 3 164 3 1 2-209 3 196 3 15 3-80 2 80 3-97 3 69 2 164 3-111 3-4 2-89 3 104 3-52 2-68 3 203 3-120 2 25 3-29 3 25 3 63 2-107 3-14 3-19 2 46 3-145 3 288 2-174 3-76 3 44 2 146 3-24 3-42 3-70 2-36 3 150 3-121 2-73 3 152 3-35 2 65 3-27 3 69 2-146 3 94 3 11 2-54 3 36 3 26 3-154 2 86 3-16 3-30 2 91 3-168 3 204 2-25 3 28 3-80 2-19 3 9 3 60 2-10 3-46 3-153 3 123 2 131 3-147 3 129 2-46 3 43 3-110 2 98 3-14 3-7 2-22 3-66 3-57 3 170 2-8 3-46 3 14 2-137 3 46 3 97 2-63 3-11 3 34 2-14 3 89 3-108 2 55 3 8 3-18 3 184 2-142 3-27 3 19 2 25 3-9 3 7 2-36 3 47 3-53 2 46 3 56 3-111 3 8 2-29 3 133 3-48 2-166 3-4 3-28 2 235 3-76 3-144 2 71 3 33 3 83 2-37 3 2 3 12 3-46 2-23 3-134 3 130 2 100 3-42 3 3 2-82 3 40 3 69 2-89 3 29 3-6 2 57 3-102 3 0 3 59 2 113 3-40 3-145 2 150 3-189 3 135 2 4 3-37 3-34 2 62 3-53 3 86 3-71 2 112 3-31 3-93 2 64 3-125 3 189 2-131 3 34 3-1 2-145 3 70 3 116 2-81 3 120 3 63 3-63 2-27 3-73 3 63 2-28 3 33 3-136 2 29 3 21 3 13 2-30 3-172 3 172 3 84 2-89 3 1 3 63 2 38 3-12 3-66 2 11 3 86 3-57 2 44 3 58 3-116 2-50 3 95 3-8 3 7 2 46 3-4 3-169 2 142 3-144 3 230 2-66 3 2 3-186 2 173 3 0 3-11 2-160 3 99 3 110 3-93 2 85 3-54 3-94 2 197 3-155 3 66 2-45 3 38 3-195 2 200 3-43 3-69 3 140 2-67 3 102 3-143 2 171 3-68 3-31 2-28 3-16 3 144 2-180 3 113 3-75 2 54 3-115 3 98 3-110 2 87 3-28 3 26 2 10 3 34 3-176 2 145 3 32 3-18 2 52 3-118 3 60 2 2 3 20 3-150 3 37 2 118 3-91 3 3 2 63 3 46 3-16 2-32 3-17 3-100 2 80 3 7 3 52 3-63 2 61 3-37 3 59 2-148 3 148 3 56 2-32 3-33 3 55 2-84 3-126 3 150 2-60 3 71 3-116 3 56 2 14 3 19 3-47 2 104 3-43 3-42 2-4 3 84 3-20 2-40 3-69 3 4 3 83 2-90 3 137 3-207 2 143 3 79 3-119 2 4 3 109 3-216 2 186 3-62 3 16 2-59 3 43 3 51 3-260 2 310 3-26 3 15 2-168 3-76 3 180 2-62 3 126 3-115 2 32 3-97 3 93 2-139 3 154 3-9 3-69 2 41 3-33 3 6 2 126 3-157 3 113 2-24 3-73 3 84 2 38 3-143 3 6 3 192 2-57 3-103 3 134 2-95 3 94 3-20 2-74 3-17 3-13 2 8 3 26 3 33 2-48 3 49 3-75 3 84 2-70 3 61 3 46 2-20 3-96 3 92 2 4 3-157 3 125 2-51 3 67 3 78 3-49 2-220 3 99 3 107 2 3 3-84 3 85 2-161 3 77 3 134 2-74 3-80 3 73 2-32 3 7 3-63 3 124 2-8 3 43 3-44 2 27 3-88 3-54 2 121 3 4 3-31 2 27 3-180 3 56 2 202 3-184 3 139 3-82 2-113 3 105 3 11 2-19 3 73 3-52 2 67 3-102 3-69 2 246 3-99 3 63 3-100 2 98 3-185 3 142 2-16 3-24 3-32 2 70 3-115 3-34 2 123 3-168 3 25 2 160 3-153 3 171 3-53 2 84 3 9 3-162 2-43 3-19 3 153 2-118 3-26 3 128 2-67 3 115 3-83 3 10 2 8 3 38 3 28 2-142 3 114 3 58 2-175 3 152 3-75 2-39 3 96 3-49 2-108 3 43 3 34 3 54 2-16 3-81 3-11 2 31 3 144 3-76 2-10 3-32 3 29 2 9 3-110 3 154 2-106 3-46 3 122 3-21 2-80 3 147 3-73 2-5 3-21 3 45 2-5 3-124 3 104 2 85 3-247 3 125 3 4 2-78 3 46 3 56 2 41 3-111 3 45 2 13 3 54 3-11 2-97 3 119 3-101 2-23 3 127 3-20 3 2 2-52 3 41 3-25 2 5 3 52 3-47 2-45 3-48 3 110 2 12 3 53 3-41 3-248 2 173 3 33 3 85 2-100 3 49 3 18 2-70 3 83 3-140 2 17 3 0 3 19 2 48 3-27 3 33 3-45 2 93 3-114 3 23 2 17 3 72 3-149 2 159 3-97 3 107 2-11 3-139 3 6 2 65 3-7 3 67 3-94 2 138 3-104 3 105 2-126 3 32 3 60 2 59 3-88 3-19 2 57 3-221 3 200 3-39 2-22 3-5 3 72 2-260 3 159 3-14 2 96 3-109 3 216 2-152 3 23 3-29 2-145 3 149 3 82 3-88 2 13 3 58 3-45 2-80 3 4 3-13 2 90 3-16 3 23 2 102 3-118 3-163 2 118 3 81 3-47 3-15 2-90 3 79 3 31 2 30 3 31 3 11 2-89 3-77 3 23 2 29 3 18 3 90 3-63 2-137 3 223 3-177 2 50 3-58 3 72 2 90 3-46 3-123 2 84 3 172 3-180 2-77 3 77 3 67 3-112 2 91 3 95 3-71 2 61 3-118 3-53 2 124 3-70 3 39 2-194 3 124 3 66 3 27 2 8 3-177 3-28 2 224 3-26 3 25 2-110 3 30 3-139 2 57 3 35 3 58 2-166 3 157 3-16 3 56 2-71 3-44 3 93 2-139 3 166 3-59 2-50 3 116 3-109 2 87 3-65 3 43 2-6 3-116 3 79 3-33 2 65 3 47 3-226 2 256 3-11 3-200 2 158 3 43 3-150 2 82 3 64 3 8 3-123 2-1 3 102 3 32 2-34 3-134 3 132 2 21 3-46 3 47 2 15 3-176 3 63 2 103 3-103 3-16 3 149 2-110 3-45 3 74 2-214 3 138 3 34 2 87 3-178 3 77 2 55 3 4 3-36 3-3 2-14 3 138 3-85 2-59 3-46 3 8 2 43 3 86 3-74 2-140 3 70 3 151 2-70 3-83 3 210 3-230 2 118 3 59 3-167 2 149 3 54 3-34 2-150 3 57 3 115 2-142 3 54 3 18 2-6 3 53 3-13 3-30 2-35 3-52 3 88 2-37 3 1 3-10 2-27 3 1 3-26 2 106 3-99 3-35 3-105 2 192 3-75 3 159 2 2 3-102 3-51 2 23 3 106 3-25 2-137 3-137 3 173 2 131 3-124 3 105 3 5 2-10 3-56 3-175 2 203 3 49 3-56 2-13 3 63 3-31 2-61 3 38 3 59 3-45 2-37 3-98 3 218 2-49 3-16 3-24 2-70 3 36 3-16 2-110 3-43 3 114 2 24 3 83 3-99 3-14 2 113 3-77 3 122 2 12 3-27 3-195 2 116 3 32 3-44 2 105 3-102 3 92 2-213 3 147 3-43 3 11 2-137 3 173 3-85 2 26 3 62 3-51 2 61 3-46 3-78 2 2 3 93 3-75 3 27 2 42 3-78 3-46 2 38 3 104 3-167 2 83 3 14 3 55 2-3 3-10 3 44 2-135 3 64 3-138 3 102 2-106 3 124 3-184 2 232 3-40 3-27 2 19 3-135 3 61 2 11 3-157 3-48 2 141 3 81 3-103 3 116 2-104 3 38 3 53 2-274 3 248 3 1 2-258 3 247 3-1 2-27 3-7 3-103 3-51 2 256 3-121 3-107 2 156 3-164 3 15 2 16 3 31 3-255 2 167 3-114 3 112 2 56 3-229 3 63 3 65 2-78 3-31 3 251 2 84 3-198 3 34 2 88 3-165 3 196 2-225 3 208 3-205 3 214 2-8 3-14 3 41 2-57 3-56 3 143 2-265 3 168 3-113 2-4 3 132 3-75 2 343 3-262 3-101 3 226 2-128 3 93 3 123 2-35 3-194 3-67 2 295 3-46 3-94 2 121 3 45 3 1 2-33 3-124 3 89 3 66 2-111 3-179 3 204 2-36 3 62 3-70 2-26 3 132 3-79 2-29 3 170 3-3 3-50 2-159 3 182 3-90 2 56 3 9 3-3 2 48 3-25 3 89 2-41 3-45 3 54 2-17 3-40 3-103 3-60 2 120 3-26 3 62 2 89 3-90 3-19 2 21 3-4 3 132 2-99 3-10 3 5 3-216 2 198 3 12 3 40 2 13 3-181 3 208 2-137 3 36 3-51 2 62 3-88 3 94 2 42 3 7 3-103 3 49 2-52 3 141 3-214 2 191 3-62 3 57 2-152 3 175 3-112 2-50 3 67 3 11 2 73 3-139 3 164 3-82 2-125 3 281 3-209 2 156 3-131 3 37 2 16 3 58 3-181 2 68 3 32 3 66 3-178 2 194 3-73 3 122 2-127 3-10 3 32 2-7 3 57 3-90 2 25 3 26 3 7 2-96 3 98 3 26 3-92 2 140 3-50 3-28 2-6 3 13 3 62 2-168 3 45 3-4 2-28 3 17 3 64 3-17 2-30 3 13 3-22 2 66 3 23 3 2 2 7 3-121 3-6 2 63 3 43 3 70 2-187 3-15 3 30 3-50 2 95 3-26 3 110 2-36 3-90 3 93 2 2 3 52 3-105 2 72 3-211 3 34 2-16 3 162 3 7 3 17 2-46 3-109 3 62 2 90 3-35 3-27 2 30 3 44 3-47 2 34 3-45 3 3 3 64 2 20 3-37 3-17 2-61 3 52 3 16 2 41 3-9 3-56 2 61 3-31 3-33 2-75 3 31 3 77 3 71 2 21 3-218 3 91 2-37 3-29 3 112 2-79 3 84 3 2 2 32 3 7 3-84 2 31 3-17 3-20 3-57 2 57 3 30 3 38 2 22 3-133 3 75 2-25 3-2 3 10 2 16 3-23 3-30 3 120 2-95 3 17 3-120 2 57 3 73 3-78 2 85 3 33 3-12 2-48 3-63 3-28 2 44 3 77 3 7 3 26 2-129 3 132 3-93 2 96 3-79 3 10 2 35 3-33 3-6 2-14 3-33 3 92 3-65 2-31 3 48 3-29 2-85 3 185 3-151 2-14 3 83 3-14 2 77 3 15 3-82 2 3 3 48 3-64 3-81 2 113 3 30 3-17 2-76 3-81 3 121 2 42 3-65 3 31 2 53 3-33 3-46 2 65 3-92 3 85 3-64 2-41 3 133 3-11 2-101 3 123 3 36 2-77 3-1 3 111 2-151 3 79 3-74 3 1 2-79 3 81 3 6 2-31 3 70 3 60 2-144 3 58 3 13 2 64 3-55 3 71 2-50 3-169 3 101 3 2 2-68 3 83 3 25 2-74 3-23 3 152 2-1 3-32 3-20 2-36 3 40 3 12 3-41 2-70 3 97 3-71 2-7 3-6 3 61 2 77 3-73 3-11 2 100 3 20 3-171 2 61 3-4 3-81 3 126 2-65 3 56 3-89 2 168 3-62 3-59 2-86 3 98 3 46 2-70 3 66 3 2 2 24 3-57 3-28 3 9 2 54 3 42 3-107 2-30 3-40 3 70 2-15 3-58 3 150 2-28 3 69 3-151 3 134 2-90 3 24 3-48 2 73 3 46 3-145 2 59 3 0 3 115 2-46 3-145 3 124 2-147 3 65 3-1 3 22 2 57 3-75 3 112 2-177 3 126 3-15 2-3 3-13 3 7 2 61 3-59 3 29 3 5 2-36 3 47 3-74 2-54 3 106 3-44 2 46 3-110 3 63 2 78 3-123 3 68 2-46 3-10 3-2 3-23 2-10 3 29 3 169 2-64 3-17 3 28 2-102 3-72 3 172 2-31 3 49 3-41 2-116 3 159 3-56 3-88 2 85 3-52 3 29 2 71 3-21 3-27 2-53 3 8 3 12 2-44 3 0 3-47 3 55 2 36 3 14 3-54 2 79 3-95 3 125 2-77 3-17 3-64 2 29 3 73 3 93 2 3 3 10 3-139 3-43 2 81 3 12 3-55 2 120 3-59 3-22 2-54 3 45 3 30 2-86 3 140 3-58 3 45 2-143 3 5 3 21 2 77 3-42 3-31 2 68 3 22 3 4 2-42 3-52 3-14 2-23 3 20 3-15 3-15 2-133 3 171 3 143 2-139 3 37 3-142 2 42 3 130 3-45 2 11 3-44 3 55 2 38 3-58 3 11 3-35 2-2 3 97 3-164 2 72 3-19 3-1 2 17 3 21 3-27 2-111 3 225 3-112 3 72 2-22 3 21 3 6 2 0 3 21 3-57 2-124 3 131 3 117 2-289 3 224 3-63 2 18 3-62 3 61 3 27 2-91 3-100 3 56 2 130 3-138 3-70 2 55 3 230 3-231 2 158 3-33 3 23 2-36 3 34 3-30 3-17 2 20 3 34 3-92 2 54 3-36 3-2 2-9 3 116 3-133 2 129 3-171 3 161 3-189 2 77 3-19 3-33 2 101 3-22 3 45 2 28 3-153 3 51 2 38 3-82 3 95 2 52 3-172 3 112 3-41 2 8 3 80 3 43 2-156 3 147 3-100 2 74 3-64 3 90 2-30 3-166 3 60 3 90 2-115 3-75 3 141 2 111 3-173 3 98 2 19 3-36 3-85 2 75 3 24 3 69 2-96 3 56 3-71 3-16 2-29 3 38 3 46 2 42 3-29 3-104 2 70 3-51 3 96 2-44 3-117 3 69 2 22 3 145 3-126 3-62 2 64 3 7 3 40 2-99 3-56 3 139 2 29 3-107 3-30 2-50 3 142 3-46 3 94 2 83 3-104 3 5 2-149 3 106 3-18 2 40 3-30 3 135 2-184 3 95 3-71 2 85 3-25 3 21 3-31 2 7 3 61 3-94 2-15 3-50 3 158 2-154 3 58 3-32 2 61 3-43 3-20 3 112 2-31 3-21 3-8 2-117 3 153 3 9 2 36 3-63 3 39 2 51 3-29 3-57 2-61 3 78 3-34 3-42 2 34 3 63 3 16 2-15 3-132 3-18 2 130 3-10 3 77 2-144 3-102 3 106 2 104 3-122 3 160 3-68 2-36 3 5 3 111 2-49 3-62 3 64 2 32 3-51 3 22 2 4 3-124 3 106 3-62 2 13 3 39 3-86 2 11 3 94 3-34 2 29 3-68 3 20 2-98 3 39 3 88 2-84 3 65 3 47 3 45 2-52 3-133 3 118 2 85 3-149 3-22 2 101 3-28 3-85 2 180 3-58 3-8 3 19 2-83 3 86 3 11 2-11 3-74 3-6 2 26 3-24 3 8 2 100 3-181 3 167 2-163 3 60 3 73 3-17 2-60 3 11 3 2 2 70 3-156 3 113 2 11 3-43 3 86 2-73 3-30 3 14 2 102 3-15 3-202 3 184 2 23 3-40 3 105 2-105 3-9 3 2 2 61 3-120 3 131 2-37 3-3 3 14 3 58 2-124 3 50 3-91 2 102 3-130 3 64 2-72 3 149 3-11 2-112 3 2 3 7 2 132 3-27 3-77 3 42 2-16 3 26 3 48 2-59 3 7 3-25 2-40 3-20 3 36 2 119 3-1 3-91 2 27 3-17 3 20 3-98 2 33 3 104 3 7 2-139 3 45 3 112 2-112 3-31 3 4 2-25 3 8 3 142 3-56 2 24 3-66 3 96 2-82 3 3 3-94 2 130 3-111 3 140 2 48 3-135 3 86 2 34 3-138 3 80 3 57 2-71 3 68 3-80 2 6 3 37 3-39 2 55 3-87 3 11 2 60 3 0 3 16 3-38 2 13 3 20 3-73 2-23 3-35 3 83 2-40 3 86 3-39 2-61 3-16 3 114 2-57 3 19 3 62 3 3 2-86 3 72 3-127 2 110 3 12 3-105 2 112 3-106 3 64 2-62 3 4 3 115 2-44 3-2 3-61 3 56 2-100 3 37 3 68 2 57 3-130 3 0 2 25 3 22 3 4 2 35 3-42 3 5 3-18 2 49 3-14 3-24 2 22 3 25 3-142 2 44 3 18 3 23 2-2 3-102 3 126 2 12 3 2 3 40 3-57 2 36 3-51 3-27 2 140 3-124 3 57 2-79 3 65 3 19 2-171 3 190 3 10 3-17 2-7 3-65 3 8 2-70 3 107 3-76 2 151 3-85 3 67 2-134 3 51 3-13 2-6 3 41 3 3 3-49 2 28 3-85 3 97 2-50 3-27 3 172 2-129 3-20 3-26 2 40 3-20 3 12 2 76 3-1 3 30 3-39 2 19 3 24 3-53 2 20 3-53 3 38 2 29 3-23 3 9 2-83 3 83 3-76 3 74 2-51 3 20 3-48 2 33 3 60 3 18 2-60 3 103 3-52 2-73 3-6 3 48 2-94 3-11 3 85 3 35 2 15 3 14 3-82 2-64 3 50 3-49 2 117 3-98 3-3 2 89 3-72 3 80 3-141 2 127 3-43 3 71 2-94 3-4 3 49 2 28 3-47 3 40 2 1 3-77 3 123 2-102 3 55 3-21 3 30 2-30 3-12 3 35 2 8 3-118 3 138 2-101 3-42 3 83 2-9 3-21 3 47 2-38 3 73 3-133 3 102 2-53 3 55 3 16 2-134 3 15 3 43 2 50 3 14 3 30 2-28 3-5 3 11 3-45 2 22 3 9 3 29 2-65 3 96 3-27 2-31 3-18 3-53 2 43 3-12 3 62 2-12 3-70 3 59 3-54 2 48 3-30 3 60 2-97 3 115 3-135 2 89 3 6 3-75 2 47 3-39 3 75 2 0 3 12 3-20 3 39 2-100 3 158 3-134 2-2 3-14 3 3 2 9 3 67 3-80 2 126 3-70 3-98 3 95 2-50 3 87 3-14 2-55 3 39 3 56 2 19 3-129 3 14 2 31 3-81 3 89 2-9 3 0 3-2 3-22 2 47 3-108 3 50 2-37 3 47 3-23 2-29 3 102 3-33 2-33 3 41 3-32 3-68 2 157 3-82 3 29 2-12 3 67 3-113 2 46 3 10 3-10 2 30 3-57 3 25 2 18 3-52 3-8 3 70 2-62 3-14 3 53 2 38 3 11 3-9 2-33 3-25 3 56 2-112 3 126 3 14 2-121 3 25 3 62 3-20 2-30 3 20 3 49 2-18 3-74 3-22 2 29 3 106 3-35 2-85 3 107 3-50 3-14 2-55 3 115 3-61 2 37 3 45 3-74 2-5 3 6 3-17 2-21 3-10 3 38 2-37 3-2 3 75 3-70 2-44 3 95 3-71 2-23 3 130 3-72 2-40 3 36 3 63 2-30 3 22 3-119 3 77 2-46 3 111 3-111 2 44 3 41 3-106 2 91 3-14 3-27 2 103 3-60 3-60 2 40 3 37 3-101 3 72 2 54 3-54 3 32 2-34 3-98 3 117 2 5 3-2 3 22 2-12 3-126 3-32 2 140 3-19 3-10 3 3 2 49 3-41 3 43 2 13 3-6 3 3 2-55 3-32 3 104 2-44 3-21 3-12 3 52 2-53 3 44 3-34 2 89 3-281 3 175 2 11 3 49 3-80 2 70 3-40 3-46 2 88 3-67 3 7 3-45 2 21 3 41 3-26 2-18 3 80 3-37 2-9 3-32 3 35 2 15 3-46 3 112 3-43 2-30 3-22 3 16 2 8 3-18 3 94 2-76 3 4 3-131 2 202 3-38 3 0 2-48 3 54 3 4 3-23 2 8 3 0 3-96 2 66 3-1 3 39 2-76 3 62 3 75 2-112 3 75 3-93 2 18 3 52 3-74 3 32 2 72 3-27 3-1 2-62 3-19 3 36 2 65 3-24 3 6 2-45 3 28 3 1 3-36 2 22 3 54 3-55 2-29 3 80 3-63 2 4 3-3 3-12 2-20 3 23 3 49 2 19 3-74 3 53 3 38 2-123 3 105 3-77 2 47 3-107 3 52 2 22 3-11 3 15 2-38 3 37 3-18 3-68 2 79 3-41 3-22 2 105 3-74 3-79 2 150 3 15 3-37 2-55 3-43 3-3 2 91 3 46 3-17 3-18 2 40 3-19 3 62 2-78 3-6 3-20 2 70 3-49 3-27 2 50 3-33 3-14 2 9 3 38 3-71 3-20 2 90 3-17 3 11 2-116 3 72 3 79 2-139 3 116 3 27 2-53 3 13 3-134 3 34 2 141 3-14 3-175 2 0 3 153 3-60 2 39 3-74 3 111 2-27 3-23 3 67 2-97 3 25 3-3 3-69 2 6 3 78 3-43 2 41 3 4 3-53 2 53 3-38 3-11 2 52 3-10 3-5 2 55 3-109 3 95 3-63 2 5 3 34 3-51 2 95 3-56 3 12 2 2 3-29 3 18 2 59 3 11 3-27 3-68 2 36 3 23 3-94 2 110 3-117 3 48 2 68 3-128 3 71 2 7 3 20 3 77 2-49 3-76 3-94 3 41 2 38 3 23 3 69 2-80 3 94 3-88 2 109 3-116 3-7 2 104 3-168 3 161 3 20 2-55 3 5 3-40 2-10 3 10 3 50 2 34 3 1 3-30 2-15 3 31 3-32 2 46 3-20 3-28 3 42 2-9 3-101 3 30 2 23 3 69 3-88 2-63 3 37 3-29 2 32 3 40 3 5 2-79 3 144 3-54 3-63 2-14 3 112 3-60 2 53 3 17 3-119 2 51 3-49 3 36 2 43 3 0 3-4 3-41 2-8 3-71 3 87 2-31 3 81 3-54 2-47 3 85 3 3 2-80 3 81 3 31 2-74 3 33 3-41 3 21 2-69 3 5 3 67 2-70 3 36 3 36 2-100 3 103 3-81 2 100 3-70 3 31 3-49 2 91 3-72 3 37 2-26 3 57 3-3 2 10 3-15 3-46 2 51 3-20 3-7 2-56 3 58 3 39 3-5 2-139 3 101 3 13 2 10 3-6 3-29 2-18 3-17 3 53 2 32 3 9 3-98 2 83 3-61 3 85 3-91 2-6 3 14 3 15 2 10 3 15 3 13 2-31 3 102 3-40 2-79 3-64 3 124 3-15 2 6 3-1 3-112 2 137 3-70 3-12 2 7 3-21 3 42 2-22 3 34 3-32 2-82 3 111 3-82 3 46 2 64 3-16 3-50 2 92 3-171 3 126 2 23 3-60 3-71 2 79 3-17 3 37 3-64 2 115 3-55 3 57 2-24 3 55 3-189 2 93 3 27 3 21 2-206 3 83 3 98 2-101 3 129 3 34 3-88 2-54 3 13 3 68 2 35 3-4 3-49 2 0 3 29 3-9 2 17 3 21 3-25 2-101 3-29 3 94 3-96 2 91 3 44 3-38 2-67 3 22 3 90 2-85 3-83 3 123 2-35 3 31 3-17 3 47 2-79 3-25 3 72 2-2 3 1 3 49 2-44 3 52 3-45 2 11 3-82 3-43 2 129 3-49 3 24 3-47 2-13 3-13 3 79 2-47 3 87 3-146 2-29 3 73 3 84 2 19 3 28 3-61 2-36 3 40 3 55 3-91 2-31 3 83 3-7 2-58 3-5 3 33 2-93 3 139 3-58 2-30 3 53 3 26 3 3 2-21 3-108 3 79 2-42 3 64 3-95 2 118 3 20 3-87 2 69 3-98 3 71 2-17 3-8 3 23 3 23 2-75 3 61 3-94 2 69 3 37 3 35 2-111 3 42 3-24 2 12 3 106 3-40 3-19 2-34 3 14 3-58 2 29 3-38 3 94 2-26 3-56 3 91 2-34 3-70 3 37 2-12 3-81 3 54 3 135 2-104 3-29 3 33 2 37 3-11 3-21 2-80 3 18 3 88 2 0 3-72 3 143 2-62 3-19 3 12 3-38 2 46 3-41 3 28 2-74 3 56 3-73 2 8 3 64 3 68 2-8 3-132 3 127 3-114 2 72 3 31 3-61 2 46 3-97 3 125 2-11 3-58 3 21 2 84 3-23 3-129 2 180 3-146 3 61 3 31 2-54 3-17 3-1 2 24 3 16 3-96 2 84 3-21 3 26 2-45 3 17 3 11 3 27 2-24 3-52 3 64 2 11 3-14 3 63 2-80 3-119 3 117 2-38 3 85 3-9 2-68 3 26 3 49 3-39 2-88 3 99 3-18 2-34 3-44 3 105 2-41 3-27 3 41 2 67 3-18 3 39 2-75 3 4 3-37 3 139 2-122 3 48 3-120 2 91 3-59 3 19 2 31 3 81 3-116 2 104 3 15 3-109 3 57 2-75 3 95 3 64 2-79 3-61 3 36 2 32 3-49 3 22 2-57 3-1 3 38 2 60 3-81 3 119 3-111 2 8 3-19 3 66 2 29 3-105 3 25 2 64 3-2 3-14 2 23 3 13 3-20 3-33 2-46 3-40 3 87 2-57 3 28 3 122 2-52 3-73 3-5 2 36 3-29 3 81 2-119 3 57 3-38 3-2 2-15 3 28 3 39 2-60 3 128 3-37 2 0 3-177 3 172 2-96 3-33 3 56 2 60 3-68 3 61 3 31 2-57 3 23 3-25 2 48 3-48 3 50 2-17 3-14 3-32 2 11 3 12 3 4 3 60 2-56 3 57 3-95 2-73 3 75 3 57 2-29 3 32 3-20 2 21 3-105 3 100 2-40 3-11 3 70 3-45 2 16 3-47 3 95 2-20 3-62 3 83 2-59 3 7 3 9 2 3 3-39 3 53 2-31 3-17 3 18 3 32 2-13 3-69 3 129 2-79 3-30 3 92 2-24 3-73 3 36 2 84 3-167 3 72 3 14 2-13 3-4 3-9 2 39 3-12 3-10 2-71 3 11 3 31 2 35 3-7 3 27 2-14 3 11 3 55 3-26 2-84 3-40 3 117 2-63 3 5 3-1 2 2 3 69 3-27 2-51 3 49 3-20 3-41 2 6 3-5 3 35 2-1 3-26 3 30 2 43 3-32 3 35 2-24 3-45 3 38 2-52 3 47 3 81 3-145 2 96 3-73 3 67 2-107 3 33 3-29 2 32 3 25 3 54 2-2 3-80 3 67 2-28 3 6 3 57 3-53 2-63 3 99 3-56 2-2 3-34 3 95 2 13 3 12 3-26 2-11 3-29 3 17 3-1 2 23 3-11 3 59 2-66 3 38 3-104 2 75 3-68 3 57 2-21 3-62 3 63 2-6 3 7 3-9 3 6 2-16 3 62 3-154 2 93 3 82 3-48 2-24 3-29 3 59 2 8 3 4 3 9 3-55 2-6 3 55 3-14 2 16 3 6 3-6 2-38 3-30 3 76 2-55 3 12 3 72 2-99 3 41 3 2 3-21 2 78 3-108 3 57 2 0 3-27 3-17 2 48 3-9 3 19 2-63 3 46 3-103 2 100 3-42 3 42 3-75 2 35 3 31 3-61 2 98 3-32 3-52 2-39 3 45 3-50 2 86 3-44 3 93 3-31 2 0 3-54 3 57 2-7 3-65 3 29 2 46 3 10 3 5 2-52 3-76 3 49 2 27 3 19 3-57 3-11 2 73 3-30 3 84 2-65 3 24 3-41 2 6 3 72 3-30 2-61 3-50 3-1 3 10 2 22 3 45 3 20 2-8 3 14 3-9 2-36 3-23 3-66 2 151 3-22 3-15 2 55 3-24 3-101 3 56 2-30 3 103 3-110 2 23 3-1 3-41 2 116 3-25 3-57 2-8 3 70 3 8 2 13 3-68 3 33 3 35 2-17 3-21 3-1 2-8 3-30 3 21 2 20 3-48 3 35 2-19 3-5 3-3 3-22 2 82 3 21 3-49 2-5 3 8 3 20 2 22 3-65 3 19 2-9 3-76 3 120 2-99 3 65 3-33 3-17 2 57 3 30 3-54 2 43 3-98 3 122 2-47 3 68 3-50 2-83 3 83 3-101 3 47 2-43 3 63 3-32 2 11 3-6 3-17 2 88 3-59 3 56 2-45 3-24 3-4 2 17 3 62 3-61 3-16 2 73 3-67 3 73 2 4 3-92 3 96 2-130 3 9 3 64 2-46 3 8 3 51 2 31 3-53 3 45 3-96 2 58 3-48 3 7 2 102 3 19 3-113 2 76 3 3 3 10 2-89 3 85 3-109 3 89 2-92 3 49 3 28 2-48 3 21 3 74 2-42 3-35 3-33 2 115 3-61 3-61 2-10 3 18 3-3 3 23 2-39 3 132 3-36 2-36 3 35 3-10 2-25 3 43 3-51 2-22 3 91 3-58 2-43 3 19 3 39 3-29 2 24 3-23 3-24 2 97 3-69 3-12 2-31 3 23 3 75 2-40 3 5 3-29 3-14 2-42 3 1 3 26 2 5 3 81 3-105 2 70 3 59 3-88 2 7 3 26 3 50 2-59 3-31 3-32 3 26 2-6 3-28 3 66 2-1 3 7 3 43 2-125 3 73 3 47 2-73 3-18 3 46 3-49 2 135 3-120 3 68 2 10 3 23 3-89 2-25 3 89 3-35 2-20 3-22 3 56 2 9 3 9 3 2 3-56 2 12 3-13 3-39 2 66 3-44 3 27 2 43 3-6 3-94 2 96 3-103 3 158 2-57 3-5 3 41 3-65 2 2 3-35 3 36 2-36 3-69 3 170 2-36 3-5 3 19 2-40 3 41 3-67 3 17 2 38 3-53 3 83 2-63 3-30 3 78 2 1 3 15 3-40 2 16 3-87 3 23 2 11 3 13 3-14 3-7 2 39 3-6 3-70 2 144 3-23 3-104 2 25 3 73 3-18 2-29 3-26 3-21 3 87 2-91 3-17 3 89 2 3 3-4 3 14 2 32 3-93 3 52 2-71 3 9 3 60 2-29 3 31 3 41 3-168 2 45 3 20 3 107 2-78 3-46 3 75 2-18 3 36 3-23 2-15 3-52 3 5 2-7 3 54 3 19 3-61 2 78 3-46 3 9 2 20 3 37 3-117 2 57 3-14 3-39 2 40 3 38 3-12 3-33 2 74 3-61 3 55 2-73 3 94 3 23 2-137 3-5 3 43 2-1 3 23 3-46 2 10 3-2 3 16 3 29 2 10 3-45 3-11 2-25 3 81 3 1 2 10 3 2 3-70 2-70 3 71 3 99 3-68 2 58 3-123 3 80 2-21 3 11 3-34 2 11 3-11 3 20 2-11 3-10 3-54 2 33 3 82 3-37 3 50 2-38 3 9 3-33 2 38 3-71 3 39 2 23 3 55 3-26 2-46 3-45 3 70 2-53 3 44 3-54 3-1 2 31 3-59 3 29 2 64 3 15 3-11 2-64 3-37 3 19 2-10 3 52 3-4 3-41 2 112 3-53 3-89 2-10 3 69 3 43 2 8 3-71 3 42 2 6 3-71 3 118 2-118 3 95 3 13 3-44 2-57 3 104 3 39 2-92 3 51 3-41 2-24 3-51 3 118 2-129 3 49 3-35 2 86 3-29 3-72 3-8 2 142 3-97 3 96 2-203 3 98 3 76 2-16 3 21 3-40 2 29 3-9 3-79 3-8 2 18 3 50 3-3 2-136 3 178 3-43 2-88 3 133 3-87 2-18 3 61 3-45 2 88 3-139 3 128 3-49 2 55 3 37 3-22 2 7 3-59 3-229 2 141 3 146 3-110 2-32 3 34 3-33 3-1 2 95 3-168 3 154 2-130 3 153 3-28 2 65 3-119 3-2 2 2 3 0 3 51 2 37 3 9 3-201 3 245 2-8 3-124 3 49 2 17 3-19 3-78 2 20 3-30 3 47 2 0 3-34 3 46 2-28 3 136 3-103 3-6 2-22 3 78 3-97 2 94 3-69 3 63 2-113 3 131 3-11 2-23 3-1 3-8 3-18 2 40 3-10 3 61 2 26 3-86 3-20 2-46 3 93 3-119 2 49 3 57 3 64 2-150 3-17 3 107 3-134 2 119 3-13 3-66 2 32 3 53 3 38 2 34 3-48 3-51 2 29 3-81 3 68 3-51 2-6 3 66 3 10 2-1 3 21 3-71 2 62 3 18 3-94 2 90 3 21 3-63 2 38 3-78 3-3 3 83 2-132 3 108 3 1 2-1 3-31 3 63 2-81 3 29 3-2 2-11 3-43 3 66 2 12 3 39 3-35 3 38 2-37 3 55 3-33 2-2 3-16 3 1 2 52 3-103 3 63 2-57 3 116 3-101 3 26 2-127 3 67 3 30 2-47 3 37 3 38 2 8 3-87 3 36 2 102 3-47 3 40 2-87 3 97 3 29 3-118 2-59 3 132 3-79 2 45 3-85 3 50 2 19 3 6 3-4 2-81 3 83 3-18 3 70 2-76 3 44 3-7 2-53 3 21 3 29 2 45 3-13 3-45 2 17 3-43 3 45 2-3 3-23 3 16 3 30 2-26 3-49 3-20 2 103 3-4 3-14 2 15 3-1 3-16 2 20 3 2 3 19 2-112 3 38 3-2 3 55 2-19 3-60 3 116 2-89 3 42 3 14 2 35 3-67 3 52 2-32 3 11 3-81 3 9 2 20 3-10 3-27 2-58 3 27 3 59 2 40 3 32 3-104 2 79 3-105 3 36 2 28 3 60 3-41 3-4 2 13 3-51 3 27 2 23 3 12 3 44 2-142 3 128 3-68 2-8 3 26 3-41 2 51 3-20 3 27 3 67 2-152 3 85 3-23 2 31 3-59 3 67 2-67 3 44 3 3 2-66 3 125 3-10 3-63 2 38 3-1 3 27 2-96 3 2 3 93 2-27 3-120 3 114 2-85 3 25 3 22 2 44 3 24 3-109 3 48 2-34 3 34 3 31 2-27 3 3 3-28 2 20 3 41 3-35 2-100 3 43 3 3 3 1 2-69 3 137 3-8 2-35 3 66 3 6 2-100 3-41 3 17 2 61 3 77 3-49 2-81 3 127 3-121 3 102 2-44 3 23 3-75 2 62 3 47 3-33 2-66 3 91 3-19 2-3 3-2 3-29 2-56 3 65 3-15 3 1 2 19 3-1 3 32 2 20 3-21 3-18 2-17 3-43 3 63 2-79 3 109 3-81 3 46 2 26 3-71 3-67 2 118 3-39 3-25 2 65 3 23 3-40 2-7 3 3 3 16 2-15 3 37 3-40 3-25 2 34 3 12 3-10 2 20 3-36 3-5 2 78 3-104 3 15 2 78 3-75 3-7 3 60 2-3 3-89 3 18 2 13 3 62 3-14 2-86 3 88 3 6 2-41 3 13 3-53 2-2 3 100 3-24 3-23 2-31 3-20 3 35 2 46 3-70 3 28 2 10 3 13 3-72 2 106 3-49 3 8 2 27 3-40 3-63 3 77 2-4 3 25 3-87 2 25 3 82 3-89 2 0 3 74 3-101 2 80 3-47 3 53 3 30 2-44 3-79 3 114 2 11 3-54 3-45 2 63 3-10 3-23 2 14 3-21 3 44 2-35 3 50 3-4 3-27 2 6 3-7 3-49 2 86 3-10 3-79 2 33 3 20 3 32 2 5 3 4 3-78 3 58 2 27 3-18 3 21 2-22 3-133 3 145 2-44 3-24 3-9 2 64 3-82 3 64 2-3 3 2 3 28 3-65 2 83 3-28 3-14 2 51 3-12 3-95 2 18 3 57 3 8 2-78 3-16 3 126 2-111 3 86 3-91 3 25 2 54 3-20 3-52 2 58 3 18 3-80 2 104 3-105 3 81 2 19 3-82 3-13 3 31 2 1 3 56 3-3 2-10 3-38 3 10 2-42 3 84 3-95 2-10 3 73 3 32 2-27 3-58 3 20 3 28 2-112 3 123 3 15 2-14 3 30 3-19 2-64 3-17 3 52 2 4 3-21 3 1 3 33 2 7 3-37 3 54 2-124 3 107 3-54 2 54 3 11 3-39 2-43 3 16 3 40 2 29 3-16 3 5 3-34 2-124 3 123 3 39 2-59 3 44 3-28 2-34 3 93 3-103 2 26 3 6 3 23 2-27 3 42 3-18 3 31 2-52 3 89 3-94 2 15 3 47 3-20 2-7 3-24 3-20 2 34 3 10 3 8 3-31 2-9 3 37 3-22 2 47 3-31 3-33 2 8 3-32 3-5 2 40 3-34 3 76 2 16 3 7 3-93 3 13 2 11 3 51 3-1 2-110 3 48 3 66 2-36 3-24 3 38 2 32 3-122 3 122 2-4 3-56 3 14 3-74 2 98 3-27 3 53 2-118 3 94 3-49 2 5 3 59 3-29 2-53 3-19 3 45 3-37 2 58 3-14 3-3 2-48 3 28 3 41 2 45 3-212 3 103 2 33 3 23 3-8 2-18 3-48 3 40 3-23 2-19 3 100 3-13 2 16 3-45 3 9 2 25 3-30 3-54 2 9 3 2 3-18 3 85 2 16 3 27 3-81 2-60 3 100 3-111 2 112 3-85 3 112 2-45 3 37 3-79 2 26 3 48 3-21 3-74 2 38 3 79 3-88 2-32 3 22 3 71 2-56 3 66 3 34 2-40 3-58 3 69 2-65 3 7 3 12 3-9 2 26 3-35 3 35 2 40 3-63 3 21 2-1 3-47 3 8 2 82 3-23 3-39 3 43 2 3 3-49 3-59 2 48 3 53 3-100 2 102 3 5 3-62 2 38 3-64 3-9 2 116 3-90 3-19 3 94 2-36 3 14 3 41 2-113 3 52 3-23 2 20 3-21 3-39 2 114 3-54 3 34 3 1 2-53 3 30 3-30 2-4 3 70 3-69 2 7 3 18 3-7 2 0 3 35 3-94 2 106 3-30 3-29 3 63 2-57 3 24 3-6 2-51 3 6 3 11 2 34 3 54 3-73 2-33 3 0 3 78 2 17 3-4 3-47 3 48 2-69 3 71 3-48 2 3 3-26 3-13 2 24 3 47 3 2 2-60 3-39 3 87 3-22 2-17 3-18 3 65 2-97 3 77 3-41 2 74 3-6 3-37 2-56 3 52 3 8 2 8 3-37 3 60 3-36 2 11 3-35 3-37 2 66 3-7 3 27 2-24 3-51 3 83 2-14 3-95 3 135 3-54 2 32 3-14 3 39 2-56 3-3 3-33 2-37 3 65 3-45 2 55 3 47 3-38 2 36 3-74 3 10 3 36 2-18 3 50 3-117 2 82 3-53 3 9 2 52 3-36 3 34 2-90 3 80 3 19 2-11 3 0 3 13 3-16 2-13 3 40 3-76 2 42 3-45 3 25 2-50 3 53 3 13 2-66 3 77 3-16 3-76 2 22 3 55 3-16 2-1 3 33 3-27 2 67 3-33 3-82 2 64 3-19 3-21 2 92 3-125 3 3 3 120 2-67 3-2 3-7 2-13 3 31 3 42 2-35 3 44 3-71 2 64 3-109 3 48 2 72 3-88 3 89 3-64 2-54 3 72 3-74 2 22 3 52 3-4 2 22 3-73 3 74 2-72 3-5 3-10 3 51 2 4 3-11 3 51 2-114 3-14 3 30 2 30 3 28 3 9 2 6 3 0 3-56 2 13 3 54 3 8 3-75 2 84 3-66 3 30 2-26 3-9 3-8 2 59 3-80 3 7 2 80 3-43 3 22 3 28 2-116 3 32 3 48 2 22 3-41 3-1 2 26 3 19 3-12 2-41 3 36 3-26 2-6 3-63 3 77 3-36 2 103 3-62 3 48 2-62 3-13 3 78 2-36 3 35 3-81 2 26 3 45 3-52 2-40 3 112 3-100 3 62 2-19 3 27 3-15 2-3 3-8 3 14 2-21 3 23 3-44 2 9 3-4 3 13 3-46 2 66 3 15 3-83 2 28 3 37 3 35 2-38 3-5 3-1 2-29 3 83 3-53 2-48 3-6 3 34 3 21 2 22 3 14 3-35 2 15 3-59 3 58 2-164 3 202 3-11 2 5 3-113 3-6 3 73 2-29 3 68 3-64 2 42 3-27 3-34 2 92 3-31 3-58 2-33 3-1 3 57 2 37 3-70 3 22 3 57 2-64 3 1 3 81 2 10 3-46 3-5 2-34 3 86 3-115 2 22 3 91 3-21 2-26 3-73 3 104 3-72 2 30 3 27 3-82 2 25 3 36 3 14 2-14 3 10 3-15 2-23 3-19 3 100 3-23 2-51 3-9 3-18 2-23 3 92 3 2 2-41 3 53 3-7 2-14 3-25 3 17 2 24 3-107 3 92 3-14 2-7 3 6 3 24 2-52 3 54 3-23 2-4 3 15 3 14 2-38 3 73 3-69 3-9 2-20 3-9 3-34 2 54 3 40 3-46 2 59 3-99 3 46 2 35 3 12 3-11 2-51 3 55 3-116 3 30 2 38 3 58 3-85 2 68 3 9 3-71 2-22 3 106 3-112 2 75 3-31 3 51 2-6 3-74 3 104 3-21 2-18 3 40 3-101 2 22 3 9 3 55 2-54 3 23 3-7 2 58 3-22 3-44 3 1 2 21 3-65 3 64 2 13 3 4 3-44 2 34 3-19 3 47 2-9 3-106 3 63 2 20 3 8 3-81 3 7 2-28 3 60 3-13 2 29 3 54 3-39 2-30 3 31 3-53 2 1 3-24 3 102 2-5 3-3 3-6 3-26 2-21 3 31 3-15 2 55 3-37 3 21 2-31 3-47 3 65 2-58 3 70 3-39 3 42 2-46 3 52 3-127 2 52 3 77 3-35 2 37 3-26 3 25 2-1 3-31 3-36 2 3 3 47 3-125 3 110 2 23 3-4 3-22 2 1 3 43 3-75 2 67 3-51 3 37 2-35 3 6 3 25 3-27 2-37 3 83 3-45 2-10 3 56 3-34 2-17 3 21 3-55 2 70 3-101 3 49 2-14 3 71 3 10 3-116 2 69 3-23 3 44 2 8 3 3 3-88 2 64 3 7 3-8 2-26 3 70 3-44 2 2 3-1 3-57 3 21 2 62 3-68 3 43 2 41 3-38 3-24 2 32 3-106 3 69 2 97 3-90 3-77 3 69 2 20 3-15 3 40 2-45 3-1 3 61 2 2 3-55 3-44 2 60 3 4 3 22 2-24 3-2 3-115 3 56 2 49 3-42 3 33 2-39 3 43 3-91 2 74 3 28 3 0 2-28 3 7 3 98 3-109 2 52 3-8 3 0 2-66 3 2 3 47 2 19 3-40 3 31 2-32 3 0 3 0 2 45 3 9 3-49 3-29 2 24 3 75 3-79 2 19 3 42 3-98 2 71 3-33 3 74 2-88 3 46 3 23 2-55 3-52 3 13 3 73 2-56 3 32 3 4 2 7 3-2 3 30 2-139 3 37 3 56 2 66 3-13 3 25 3-70 2-44 3 52 3 19 2-6 3-196 3 110 2 12 3 49 3-4 2 1 3-30 3-7 2 12 3 67 3-70 3 6 2 55 3-147 3 178 2-98 3-78 3 102 2-20 3 27 3-61 2 22 3 108 3-77 3-66 2 8 3 55 3 23 2-91 3 70 3-18 2-68 3 110 3 51 2-55 3-8 3-6 2-34 3 15 3 45 3-30 2-30 3 43 3-39 2-102 3 54 3-48 2 94 3-2 3 19 2-60 3 56 3-46 2 48 3 48 3-79 3 31 2 23 3-61 3-14 2 104 3-41 3 37 2 7 3-88 3 128 2-89 3-10 3 44 3 7 2-56 3 86 3-71 2 121 3-55 3-182 2 190 3-41 3 15 2-49 3 105 3-130 2-30 3 117 3-87 3 60 2 45 3-154 3 60 2 4 3-40 3 55 2-34 3 72 3 8 2-17 3 2 3 4 3 38 2-96 3 48 3 5 2 45 3-111 3 46 2 3 3 23 3-27 2-32 3 32 3-39 2-4 3 14 3 56 3-41 2 68 3-81 3 14 2-10 3 7 3-3 2 8 3-14 3 32 2-63 3 18 3 24 2 103 3-86 3-16 3-39 2 22 3 40 3 54 2-87 3-16 3 28 2 94 3-108 3 42 2 17 3 9 3-19 3-32 2 37 3-26 3 45 2 23 3-55 3-9 2-44 3 13 3 101 2-2 3-14 3-104 2 69 3 35 3 3 3-43 2 26 3-83 3 99 2-117 3 83 3 18 2-123 3 104 3 23 2-24 3 21 3-50 2 92 3-57 3-11 3-23 2-61 3 21 3 75 2-9 3 14 3-81 2 136 3-89 3-2 2 14 3 60 3-28 3-91 2 78 3 14 3-47 2 53 3-55 3-20 2 39 3 44 3-57 2-43 3 106 3-15 2-24 3-21 3 18 3 6 2-28 3-7 3 98 2-137 3 125 3-76 2-5 3-9 3-19 2 81 3 30 3-22 3-63 2 54 3-128 3 142 2-94 3 24 3 16 2 42 3 8 3 29 2-42 3-28 3-27 2 83 3-127 3 136 3-70 2 87 3-97 3 69 2-90 3 60 3 8 2-45 3 39 3-6 2-53 3 27 3-36 2 58 3-35 3 69 3-95 2 125 3-52 3-14 2-31 3 24 3-46 2 1 3 76 3 22 2-16 3-19 3 38 3 2 2 9 3-91 3 45 2 30 3-58 3-6 2-10 3-7 3 80 2-145 3 102 3-67 2 47 3 38 3-58 3 40 2 14 3 13 3 19 2-15 3-29 3-48 2-15 3-4 3 54 2 48 3-94 3 84 3 28 2-103 3 105 3-128 2-8 3 100 3 7 2-9 3-88 3 99 2 3 3 12 3-2 2-99 3 83 3-14 3 34 2-153 3 107 3 10 2-46 3 67 3-71 2 13 3 7 3 11 2-33 3 17 3 79 2-27 3 23 3-24 3-29 2-40 3 13 3-24 2 32 3 21 3-43 2 71 3 6 3-44 2 52 3-56 3 62 3-29 2 34 3-56 3 28 2 5 3-42 3 48 2-29 3-49 3-49 2 72 3 6 3 28 2 19 3-58 3 5 3-27 2 78 3-27 3-7 2 33 3-22 3 15 2 2 3-23 3-82 2 79 3-83 3 28 3 101 2-65 3-56 3 9 2 61 3 19 3-3 2 32 3 3 3-65 2-21 3-21 3 35 2 39 3-11 3 35 3-62 2 56 3-43 3-8 2-51 3 55 3-155 2 223 3-20 3-37 2 22 3-57 3 34 2-35 3 79 3-12 3 2 2-15 3 16 3-75 2 3 3 62 3-86 2 65 3-5 3-71 2 132 3-48 3-38 3 30 2 35 3-67 3 48 2 22 3-22 3-12 2-46 3 48 3-47 2 57 3 7 3-57 2 75 3-28 3 38 3-81 2 48 3 18 3-109 2 104 3-57 3 32 2-47 3 55 3 34 2-64 3 17 3 41 2-71 3 40 3-18 3 49 2-34 3 47 3-68 2-1 3 70 3-43 2 21 3-27 3 25 2-11 3-55 3 36 3 49 2-33 3 29 3-74 2 1 3-128 3 130 2 29 3-6 3-53 2 118 3-37 3 8 2-27 3-9 3 9 3-23 2-43 3 104 3 7 2-39 3-88 3 38 2 66 3-46 3 52 2-74 3 61 3 33 3-26 2-50 3 16 3-51 2 75 3 16 3-69 2 38 3-55 3 46 2 55 3-20 3-12 2-50 3-6 3 54 3 41 2-35 3-85 3 107 2-42 3 41 3-98 2 67 3 21 3-73 2 96 3-76 3 37 2 17 3-69 3 68 3 12 2-71 3 61 3-76 2 13 3 3 3 55 2 17 3-107 3 101 2-103 3 52 3 35 3 9 2-93 3 100 3-62 2 55 3 5 3-16 2-94 3 94 3-64 2 95 3-63 3 6 2-53 3 64 3-30 3-27 2 110 3-72 3 34 2 5 3 6 3-10 2 24 3-50 3 15 2 35 3-22 3-25 3 4 2 4 3-58 3 88 2-40 3 58 3-27 2 15 3-103 3 70 2-37 3 11 3 49 2-91 3 63 3-32 3 23 2 48 3-96 3-10 2 79 3-94 3-2 2 129 3-61 3 44 2-7 3-10 3 11 2-92 3 83 3-50 3 75 2-48 3 36 3-37 2-9 3 44 3-59 2 70 3-20 3 3 2-28 3 17 3 22 3-3 2-25 3-68 3 31 2 3 3 55 3-21 2 26 3-115 3 98 2-38 3-18 3 12 2 37 3 34 3-2 3-18 2-47 3 61 3-18 2 28 3-66 3 55 2-27 3-22 3 17 2-8 3-7 3-20 3-1 2 78 3-12 3-62 2 59 3-52 3 48 2-4 3-12 3-57 2 56 3 10 3-3 2 7 3-22 3-4 3-71 2 58 3-7 3 62 2-115 3-5 3 118 2-91 3 78 3-61 2 87 3-28 3-29 2 18 3-14 3 26 3-54 2-1 3 57 3-28 2-36 3 12 3 3 2 39 3-74 3 25 2 32 3-10 3 53 3-6 2-91 3 69 3-62 2 52 3 7 3 14 2-19 3-4 3 29 2-15 3-71 3 97 2-22 3-66 3 48 3-56 2 93 3-7 3 13 2-72 3 18 3 31 2-105 3 25 3 44 2-17 3-14 3 55 2-10 3 0 3 35 3-23 2-86 3 111 3 1 2-76 3-7 3 53 2 12 3-12 3-38 2 44 3-64 3 27 3 65 2-4 3-62 3 69 2-33 3-120 3 59 2 35 3 50 3-70 2-62 3 128 3-39 2 9 3-7 3-12 3-22 2 54 3-5 3-50 2 14 3 43 3-24 2-44 3-4 3 68 2 38 3-20 3-41 3 33 2-11 3-10 3 46 2-3 3-85 3 65 2-78 3 82 3-44 2 6 3 22 3-3 2-17 3 6 3-67 3 75 2 7 3 38 3-32 2-50 3 18 3 30 2-23 3-70 3 98 2-48 3 33 3 15 2-29 3 24 3-32 3-9 2 58 3-36 3-7 2 29 3 15 3 1 2-44 3-10 3 66 2-54 3-2 3 14 3 25 2-6 3-34 3-36 2-1 3 78 3-14 2 8 3-54 3 16 2 17 3-19 3-62 2 91 3-35 3 63 3-36 2-33 3 70 3-45 2 38 3-71 3 62 2 8 3-35 3 28 2-47 3 3 3 6 3 26 2-34 3-59 3 99 2-90 3 15 3 68 2-51 3-8 3 56 2-54 3 33 3-61 2 117 3-13 3-4 3-24 2 33 3-95 3-16 2 110 3-79 3 47 2-38 3-7 3 80 2-64 3-4 3 30 2 34 3-22 3-2 3 28 2-72 3 53 3 11 2 3 3-27 3 7 2 0 3 9 3-18 2-18 3-10 3 0 3-2 2-7 3 4 3-13 2 40 3-35 3 30 2 0 3-15 3 55 2-61 3 38 3 15 2 0 3-87 3-13 3 44 2-14 3-8 3 46 2-31 3-24 3 60 2 2 3-2 3-80 2 128 3-116 3 38 3 57 2-94 3 78 3 14 2-25 3-28 3-10 2-27 3 98 3-66 2-16 3 20 3 1 2 11 3 37 3-80 3 55 2 40 3 17 3-24 2-17 3 8 3 22 2 16 3-83 3-3 2 53 3 9 3-74 2 29 3-35 3 48 3 25 2-4 3-37 3 43 2-49 3 34 3-72 2 23 3 56 3-7 2-48 3 51 3 22 3-19 2 43 3-56 3-1 2 25 3-35 3-38 2 67 3-28 3-6 2-23 3 31 3 25 2-22 3-96 3 134 3 1 2-31 3 8 3-106 2 104 3-32 3-24 2 40 3 26 3 23 2-27 3 22 3-4 3 22 2-92 3 54 3 29 2-102 3 67 3-44 2 33 3-43 3 18 2 16 3-28 3 74 2-54 3-4 3-9 3-14 2 19 3 32 3-59 2 46 3-10 3-1 2 39 3-9 3-22 2-15 3 6 3 32 2-3 3 12 3-45 3 62 2-73 3 8 3 0 2 65 3-52 3 9 2 25 3-9 3-51 2 2 3 44 3-13 3-33 2 5 3 60 3-11 2-18 3 2 3 38 2-17 3-35 3 32 2-62 3-14 3 41 2 35 3-5 3 0 3-47 2 20 3 52 3-48 2-1 3 7 3-14 2 18 3 3 3-38 2 68 3-116 3 98 2-92 3 78 3-3 3-52 2 102 3-44 3-15 2-12 3-16 3 66 2-19 3-15 3 34 2-65 3 0 3 26 3-76 2 43 3 46 3 10 2-52 3 59 3 27 2-98 3 40 3 30 2-21 3 43 3-46 2 26 3 26 3-76 3 34 2 21 3-42 3-57 2 72 3 2 3-44 2 21 3 30 3 11 2-12 3-23 3 53 3-34 2-5 3-33 3 52 2-74 3 88 3-42 2-27 3 53 3 23 2-105 3 33 3 53 2-21 3-18 3 27 3 46 2-62 3 18 3-17 2-22 3 80 3-111 2-5 3 94 3-25 2-34 3 9 3 14 2-24 3 59 3 28 3-48 2-48 3 7 3 36 2-9 3-33 3 1 2 65 3-40 3 44 2 18 3-56 3-26 3 19 2-62 3 30 3 36 2 1 3 34 3-71 2 50 3-47 3 66 2-86 3 13 3 60 2-26 3 55 3-39 3-67 2 100 3 0 3-95 2 68 3-50 3-17 2 12 3 90 3-26 2 29 3-2 3-93 3 1 2 63 3-81 3 83 2-63 3 16 3 79 2-80 3 7 3-32 2 44 3-13 3 21 2-30 3 37 3 38 3-90 2 70 3 33 3-92 2-23 3 43 3 66 2-35 3-34 3-32 2 30 3-28 3 66 2-12 3 25 3 18 3-40 2-13 3 19 3-30 2 54 3-55 3 25 2 22 3-13 3-90 2 55 3 71 3-60 3-42 2 81 3-35 3 17 2-35 3 68 3-11 2-85 3 71 3-52 2-43 3 48 3 33 2 12 3-58 3 62 3-49 2-2 3 32 3 29 2 13 3-107 3 99 2-99 3 93 3-52 2 44 3-7 3-36 3 50 2-79 3 23 3-39 2 36 3 77 3-36 2 11 3-32 3 26 2 22 3-25 3 15 2-16 3 4 3-8 3 45 2-46 3-29 3 13 2 35 3-13 3 22 2 3 3-28 3-92 2 80 3 9 3-2 2-20 3 43 3-24 3 28 2-111 3 63 3-21 2-12 3 87"/>
<path stroke="#9600ff" marker-start="url(#m0)" marker-mid="url(#m0)" marker-end="url(#m0)" d="M3398,7885l3 66 2-76 3-61 3 98 2 185 3-279 3 329 3-54 2-184 3 134 3 113 2-27 3-249 3 113 2 20 3-72 3 115 2-147 3 163 3-145 2 79 3 11 3-121 3 210 2 27 3-3 3-148 2 77 3-126 3-21 2 269 3-353 3 203 2-46 3 96 3 30 2-19 3-183 3 93 3 7 2-1 3 100 3-45 2-21 3-32 3-12 2-143 3-134 3 431 2-222 3 5 3 203 3 0 2 40 3-160 3 133 2-31 3-28 3-142 2 241 3-122 3-219 2 183 3-110 3 9 2 267 3-169 3 100 3-123 2-100 3 50 3 89 2 15 3-164 3 99 2-139 3 333 3-71 2-15 3-34 3-123 3 118 2 168 3-152 3-141 2 221 3-166 3 179 2 96 3-338 3-5 2 141 3 177 3-213 2 263 3-624 3 289 3 214 2-129 3 94 3 16 2-255 3 213 3-111 2 183 3-135 3 11 2 47 3 76 3-91 2-69 3 115 3 1 3 16 2-106 3-25 3 198 2-211 3 165 3 51 2-220 3 235 3-107 2 62 3 86 3-330 3 193 2 95 3-130 3 186 2-60 3 56 3-184 2 138 3-82 3 35 2 57 3-118 3-23 2 142 3-227 3-246 3 248 2 101 3-4 3-2 2 90 3 57 3-113 2 198 3-306 3 194 2-87 3-21 3 103 3-12 2-52 3 6 3 33 2-38 3 42 3-16 2 35 3-46 3-221 2 312 3-161 3 116 2-89 3 115 3-132 3-52 2 151 3-55 3-7 2 108 3-104 3-5 2 89 3 11 3-103 2 106 3-139 3 74 2 51 3 42 3-81 3-135 2 54 3 106 3 12 2-88 3 80 3-227 2 224 3 33 3-47 2 104 3-114 3 38 3-41 2-28 3-41 3 132 2 29 3 98 3-276 2 154 3-189 3 93 2 136 3-41 3-159 2 197 3 94 3-246 3 129 2 87 3-73 3 33 2 36 3-32 3-142 2-46 3 78 3 26 2-183 3 266 3 34 3-295 2 87 3 117 3-15 2 170 3-110 3-34 2 64 3-401 3 166 2 174 3 14 3 36 2-50 3-119 3 82 3-45 2-33 3 18 3-27 2 164 3-212 3 283 2-159 3 131 3-200 2 232 3-235 3 61 2 130 3-218 3 169 3-174 2 181 3-164 3 37 2 87 3-25 3 8 2 114 3-163 3 26 2 5 3-102 3 149 3 15 2 133 3-195 3 190 2-130 3-50 3-215 2 231 3-41 3 146 2-121 3-55 3 179 2-150 3 145 3-9 3-63 2 148 3-109 3 14 2-105 3-67 3-18 2 150 3 167 3-49 2-210 3 168 3-119 2 65 3-76 3 225 3-85 2-151 3 111 3-105 2-50 3 143 3-48 2-126 3 87 3 51 2 90 3-34 3-59 3 14 2 30 3-199 3 198 2 45 3 29 3 55 2 29 3-66 3-139 2 175 3-154 3 174 2-222 3 121 3-128 3 134 2-63 3-54 3 39 2 9 3 64 3-87 2 18 3 94 3-49 2-159 3-127 3 275 3-24 2 137 3-289 3 232 2-161 3 27 3 55 2 139 3-156 3-8 2 147 3-132 3 123 2-151 3 201 3-127 3-184 2 128 3 164 3-131 2-61 3 57 3 120 2-77 3-24 3 13 2 84 3 17 3-133 2 39 3 19 3-42 3 13 2 34 3-137 3 99 2-55 3 38 3 112 2-168 3 80 3 74 2-84 3 3 3 120 3-205 2 31 3 32 3 44 2 95 3-14 3-130 2 97 3 70 3-153 2 106 3-14 3-214 2 265 3-148 3 168 3-48 2-28 3 20 3-117 2 111 3-10 3-239 2 211 3 61 3-6 2-64 3 9 3 85 3-73 2-192 3 145 3-23 2 17 3 50 3-38 2-17 3 14 3 152 2-286 3 135 3 55 2-19 3 43 3 22 3-76 2 94 3 37 3 27 2-311 3 229 3 126 2-47 3-304 3 140 2-121 3 115 3 36 2-42 3 175 3-138 3-64 2 92 3-13 3 38 2-252 3 38 3 260 2 25 3-215 3-6 2-61 3 239 3-50 3 80 2-169 3 77 3-234 2 238 3 145 3-25 2-48 3-52 3-2 2-39 3 139 3-101 2 4 3-124 3 61 3-25 2 198 3-71 3-96 2-54 3 97 3-131 2 194 3-312 3 260 2-15 3 61 3-28 3 33 2-142 3 158 3 16 2-60 3-193 3 305 2-436 3 142 3 262 2-20 3-106 3 130 2-156 3 158 3-212 3 65 2-36 3 148 3-85 2-26 3-11 3-60 2-44 3 206 3-114 2 4 3 106 3 55 2-180 3 182 3-87 3 112 2-143 3-6 3-72 2 92 3 157 3-319 2 224 3-106 3 44 2 92 3-52 3-11 3-10 2-145 3 143 3 75 2-62 3-91 3 41 2 4 3 45 3 40 2-61 3 23 3 113 2-60 3-79 3 68 3-22 2-102 3-23 3 90 2 96 3 13 3-102 2 11 3 49 3 16 2 8 3-50 3-288 3 238 2-157 3 254 3-155 2 209 3-91 3 80 2-265 3 196 3-84 2 13 3 158 3-136 2 78 3-114 3 120 3-187 2 124 3-15 3 54 2-81 3 19 3 22 2-15 3-66 3 31 2 72 3-30 3 46 2-82 3 10 3 118 3-113 2-122 3 126 3-4 2 33 3-31 3 12 2 41 3 36 3-191 2 8 3 104 3 37 3 32 2 17 3-61 3 15 2-47 3 110 3-406 2 268 3 191 3-246 2 72 3 89 3-33 2-27 3-52 3 45 3 3 2 96 3-145 3 97 2-58 3 36 3 19 2-54 3 123 3-141 2 90 3-83 3 4 2-130 3 192 3-12 3-100 2-16 3 89 3-46 2 80 3-11 3-184 2-39 3 263 3 11 2-97 3 128 3-49 3-87 2 81 3-159 3 95 2 5 3 110 3-68 2-131 3 73 3 16 2-57 3 76 3-114 2 195 3-311 3 154 3-19 2-143 3 252 3-52 2 60 3-85 3-71 2 96 3 123 3-40 2-129 3 12 3 62 3 89 2-81 3-79 3 63 2 60 3-70 3-61 2-14 3 137 3 4 2-32 3 157 3-243 2 53 3-143 3 162 3-23 2 119 3 12 3-245 2 158 3 24 3-40 2-9 3-79 3 143 2-49 3-119 3 97 2 45 3-35 3 27 3-5 2-20 3 17 3-120 2 80 3 3 3-4 2 93 3-5 3-27 2 67 3-24 3-47 3 24 2-15 3 53 3-96 2-142 3 171 3-59 2-17 3-7 3 6 2 46 3 79 3-96 2 54 3 29 3 70 3-248 2 185 3 36 3-149 2 37 3-13 3-53 2 49 3 75 3-85 2-34 3 49 3 98 3-8 2-112 3 45 3-80 2 103 3 18 3-87 2 99 3-39 3-10 2 147 3-15 3-156 2 32 3 115 3-138 3 53 2-77 3 37 3 94 2-117 3-23 3-124 2 92 3 57 3-49 2 25 3 65 3 18 2-89 3 93 3 67 3-140 2 90 3-4 3-73 2-235 3 289 3-53 2-70 3 178 3-254 2 22 3 160 3 48 3-65 2 15 3-34 3 13 2 15 3 50 3-61 2-20 3 59 3-26 2-15 3 96 3-75 2-8 3-112 3 180 3-66 2 62 3 62 3-169 2 82 3 57 3-97 2-31 3 150 3-105 2-63 3-81 3 107 3 61 2-54 3-40 3 131 2-12 3 48 3-59 2-45 3 31 3 75 2-195 3 132 3-3 2 100 3-191 3 51 3 77 2-37 3-247 3 221 2-148 3 43 3 165 2-53 3-10 3 58 2-102 3 42 3 68 2-121 3-60 3 89 3 74 2 51 3-51 3-109 2 40 3-258 3 313 2 90 3-97 3-59 2 58 3-129 3 111 3 41 2-206 3 140 3 38 2 73 3-4 3-135 2-88 3 170 3-45 2-39 3 52 3 81 2 1 3-169 3 85 3-8 2-160 3 73 3 50 2 63 3-22 3-58 2 86 3-10 3 23 2-92 3-18 3 169 2-95 3-49 3-58 3 133 2 49 3-65 3 66 2-150 3 34 3-17 2 60 3-87 3 72 2-43 3 93 3-226 3 202 2 8 3-127 3 114 2 48 3-60 3 19 2-87 3 95 3-143 2 55 3 94 3 7 2-23 3 39 3-32 3-80 2 5 3 28 3 30 2-60 3-68 3 156 2-102 3 75 3 27 2-24 3-35 3 97 3-35 2-79 3-3 3-2 2 6 3 6 3 112 2-58 3-33 3 57 2-26 3-218 3 111 2 167 3-125 3 124 3-309 2 357 3-71 3-24 2 28 3 12 3-8 2-181 3 152 3-109 2 14 3-19 3 43 2-7 3 59 3-82 3 116 2 4 3-31 3-123 2 87 3 55 3-109 2-66 3 62 3 82 2 42 3-139 3 50 3 68 2-161 3 32 3 91 2 140 3-71 3-149 2 213 3-202 3 122 2-81 3-5 3 138 2-54 3-31 3 36 3-84 2 130 3-110 3 110 2-105 3 137 3-107 2-16 3-15 3-24 2-177 3 87 3 64 3-172 2 289 3-42 3 85 2-140 3 68 3 8 2 50 3-1 3-164 2 7 3 73 3 37 2 117 3-196 3 59 3 23 2 78 3-84 3-122 2 37 3 123 3-80 2 9 3-28 3 26 2 61 3 16 3-96 2 191 3-127 3-131 3 105 2-8 3 62 3-72 2-217 3 218 3 19 2 80 3-16 3-80 2 97 3-54 3 8 3 25 2-75 3-51 3 52 2-1 3 71 3 15 2-125 3 55 3 11 2-80 3-41 3 178 2-110 3 150 3-173 3-10 2 88 3 1 3 17 2-33 3-56 3 64 2 20 3-11 3-16 2 57 3-106 3 62 3-19 2 6 3 81 3-96 2 11 3-72 3 36 2 96 3-74 3 120 2-142 3 1 3 66 2 32 3-52 3 41 3-45 2-95 3 30 3 122 2-20 3-65 3 103 2-128 3 46 3 49 2-181 3 231 3-185 2 183 3-7 3-23 3 42 2-56 3-50 3 46 2 37 3-72 3 78 2-147 3 87 3-62 2 85 3 89 3-124 3-39 2 118 3-120 3 22 2 30 3 21 3-80 2 178 3-89 3-11 2-145 3 181 3 1 2-78 3-87 3 107 3-110 2 134 3 48 3-154 2 71 3-36 3 98 2-70 3 14 3-57 2 162 3-100 3-19 2 57 3-41 3 1 3 95 2-44 3-42 3 19 2-62 3 91 3-15 2-62 3-38 3 35 2 3 3 132 3-255 3 101 2 32 3-5 3 61 2-20 3-77 3 112 2-69 3-71 3 93 2-11 3 1 3 6 2-85 3 109 3-46 3-66 2 4 3 121 3-189 2 177 3-30 3-10 2-3 3-117 3 113 2 10 3-15 3 103 3-11 2 11 3-88 3 114 2-128 3-80 3 192 2-48 3-167 3 173 2-45 3-63 3 84 2-21 3-104 3 139 3-65 2 73 3 34 3-38 2-182 3 76 3 58 2-14 3 20 3 10 2-66 3-177 3 202 2 9 3-43 3-31 3 86 2 78 3-40 3-55 2-41 3 24 3 11 2-64 3 112 3 83 2-136 3 36 3-15 3 10 2 14 3 53 3-72 2-148 3 114 3 39 2-109 3 154 3-144 2 63 3 52 3 49 2-72 3-87 3 110 3 34 2-35 3 27 3 11 2-48 3 37 3-238 2 203 3 26 3-18 2-59 3 39 3 25 3-60 2-8 3 41 3 131 2-55 3-65 3 1 2-112 3 163 3-27 2-34 3 52 3-31 2 19 3-1 3-5 3-6 2-21 3 45 3-34 2-18 3 30 3 25 2 21 3-105 3 132 2-279 3 209 3 14 2-8 3 15 3-143 3-24 2 162 3-97 3 109 2-154 3 66 3-67 2 85 3 16 3 53 2 4 3-58 3-51 3 77 2-12 3 6 3 82 2-40 3-95 3 152 2-33 3 53 3-101 2-56 3-13 3 7 2 10 3-57 3 99 3 80 2-53 3-98 3 113 2-77 3 72 3-32 2-2 3-29 3-11 2-38 3 75 3-48 3-27 2 72 3-40 3 46 2 25 3-72 3 26 2-8 3 17 3-32 2 38 3 59 3-108 2-2 3-22 3 56 3 19 2 22 3-42 3-127 2 40 3 77 3 10 2-4 3 41 3-125 2 65 3 23 3-37 2-73 3 74 3 54 3-82 2-40 3 39 3 131 2-94 3 100 3-43 2 13 3 17 3-88 2-7 3 21 3 28 3 108 2-141 3 61 3-52 2 46 3-18 3 45 2-174 3 70 3 109 2-108 3 93 3-73 2-72 3 57 3 78 3-35 2-63 3-20 3 82 2 24 3-62 3-32 2 59 3 61 3-64 2 20 3-40 3 36 3 139 2-151 3 4 3-116 2 68 3 62 3-72 2 125 3 21 3-158 2 56 3-1 3-23 2 116 3-177 3 194 3-53 2-56 3-32 3 121 2-83 3 51 3-133 2 93 3 61 3-121 2 149 3-4 3-137 2 28 3 64 3-19 3-5 2 71 3-39 3 25 2-70 3-43 3 130 2-127 3 185 3-120 2-112 3 109 3 96 3-178 2-21 3 108 3-86 2 131 3-74 3-58 2 32 3 109 3-100 2 109 3-37 3 33 2-127 3 81 3 28 3-9 2-160 3 99 3 14 2 77 3-215 3 219 2-70 3 64 3-92 2 43 3-101 3 86 2-49 3 58 3-30 3 72 2-21 3-37 3-56 2 51 3-12 3-1 2-84 3 109 3-40 2 13 3 13 3 67 3 2 2 15 3-45 3-44 2-13 3-34 3 98 2-68 3 7 3-47 2 31 3 87 3-39 2 17 3 5 3-138 3 37 2 94 3 66 3-86 2-107 3 75 3-16 2 59 3-38 3-1 2 16 3 16 3-48 3-6 2 153 3-218 3 22 2 26 3 136 3-83 2-31 3 64 3-41 2 12 3 30 3-70 2 31 3 19 3 71 3-23 2-33 3 6 3 53 2-166 3 26 3 99 2 8 3-90 3 25 2-49 3 12 3 160 2-122 3 93 3-83 3 51 2-136 3 10 3 73 2 105 3-98 3-103 2 133 3-1 3 42 2-71 3-84 3 62 3-44 2 36 3 64 3-116 2 122 3-125 3 69 2-84 3 5 3 132 2-58 3-44 3 37 2-48 3 127 3-69 3 26 2-54 3 139 3-114 2 23 3-24 3-69 2 108 3-60 3 51 2 87 3-150 3-48 3 78 2 28 3 16 3-62 2 95 3-51 3-69 2-53 3 118 3 33 2-49 3 19 3-64 2 73 3-78 3 45 3 24 2-68 3-2 3 47 2 121 3-86 3-3 2 78 3 12 3-141 2 61 3-30 3-42 2-3 3-88 3 48 3 12 2-94 3 126 3 64 2 44 3-110 3 27 2 2 3-25 3 46 2-113 3 116 3 32 3 28 2 16 3-97 3-50 2 136 3-253 3 81 2 70 3-58 3-51 2 91 3 104 3-57 2-15 3 83 3-73 3 25 2 39 3-125 3-49 2 142 3-61 3-8 2 25 3-47 3 25 2 116 3 62 3-223 3 91 2-58 3-77 3 43 2 126 3-32 3-45 2 43 3-15 3 30 2-10 3-36 3 26 2 40 3-87 3-50 3 46 2 113 3-102 3 33 2-7 3-19 3 12 2 21 3-31 3-23 2 50 3-199 3 78 2 79 3 30 3-120 3 48 2 95 3-25 3 58 2-78 3 51 3 23 2-103 3 110 3-213 2 141 3-30 3 27 3-145 2 46 3 106 3-72 2-3 3 38 3-13 2-3 3-92 3 48 2-92 3 45 3 114 2-8 3 47 3-170 3 190 2-38 3 86 3-178 2 47 3-117 3 164 2-99 3-93 3 32 2 92 3-114 3 82 2-251 3 208 3 145 3-158 2-20 3 182 3-216 2 224 3-136 3-36 2-37 3 69 3 28 2-75 3 130 3-195 3-79 2 217 3-175 3 161 2-161 3 17 3 43 2-85 3 103 3-76 2 92 3-84 3-117 2 205 3-208 3 229 3-189 2-80 3-47 3 151 2 17 3 46 3-58 2 32 3-46 3-245 2-54 3 424 3-289 3 108 2-349 3 172 3 154 2-57 3-74 3-52 2 260 3-209 3 15 2-192 3 315 3-287 2 266 3-150 3 405 3-140 2-36 3 43 3 4 2 52 3-11 3-254 2 196 3 131 3-17 2-15 3 102 3-297 2 145 3-81 3 178 3-63 2-93 3-30 3 51 2-7 3 55 3 120 2-119 3 138 3-61 2-57 3 54 3 98 3-44 2-6 3 84 3-251 2 293 3-176 3 24 2-47 3 151 3-110 2 122 3 17 3-54 2 14 3-19 3-38 3 105 2-43 3-146 3 175 2-90 3 84 3 69 2 25 3-32 3-108 2 4 3-52 3-200 3 172 2 180 3-79 3-26 2 5 3 89 3 41 2-175 3 176 3-12 2-25 3-154 3 132 2 48 3 12 3-33 3-35 2-91 3 130 3-69 2-95 3 153 3 18 2-112 3 86 3-54 2 174 3-190 3 111 2 25 3-36 3 3 3 24 2-171 3 152 3 6 2-165 3 90 3 61 2-144 3 205 3-101 2 2 3 25 3 30 3-100 2 71 3-6 3 25 2-6 3 6 3-53 2-24 3 46 3 33 2-52 3 32 3-2 2 3 3-2 3 46 3-14 2 30 3-205 3 150 2 42 3 40 3-36 2-95 3 102 3-41 2-64 3 102 3-106 3 38 2-12 3 67 3-37 2 3 3 12 3-8 2 9 3-141 3 138 2 64 3-98 3 97 2-90 3-37 3 26 3-9 2-113 3 100 3 96 2-68 3 35 3-3 2-61 3 100 3-27 2-2 3 19 3-28 2 37 3-6 3-38 3-29 2 65 3-30 3-75 2 132 3-81 3-37 2 33 3 9 3 41 2-104 3 87 3-97 3 15 2 56 3 129 3-107 2 106 3-114 3 63 2-34 3-56 3 56 2-15 3-40 3 91 2-137 3 6 3 126 3-123 2 133 3-73 3 117 2-83 3-115 3 203 2-196 3 87 3 38 2-30 3 18 3 26 2-56 3 16 3 97 3-143 2 41 3-112 3 141 2-174 3 177 3 18 2-121 3 62 3-26 2-30 3 42 3 18 3-9 2-59 3 91 3-87 2 81 3 32 3-10 2-54 3-45 3 55 2 52 3-39 3 51 2-95 3-5 3-73 3 202 2-85 3 11 3 79 2-106 3 73 3-10 2-8 3-133 3 112 2-2 3-239 3 204 3-13 2 71 3-42 3 12 2-24 3 53 3-81 2 13 3 63 3 57 2-21 3-14 3-30 2-51 3 128 3-70 3 37 2-134 3 133 3-110 2 82 3-76 3 116 2-118 3 13 3 103 2-187 3 112 3-44 2 67 3-21 3-45 3 105 2-90 3 30 3-23 2 38 3 31 3-59 2 64 3 56 3-170 2 63 3-9 3-12 3-27 2 34 3 86 3-15 2-69 3-11 3 4 2 2 3 24 3 15 2-33 3 86 3-242 2 92 3 128 3-72 3 33 2-28 3 73 3-72 2 83 3-141 3 19 2 35 3 43 3 31 2 3 3-45 3-16 3 72 2-84 3 15 3 47 2-27 3 78 3-124 2-2 3 105 3-126 2 115 3-74 3 38 2-45 3 98 3-148 3 86 2-122 3 100 3 13 2-12 3-30 3 4 2 76 3-93 3 81 2 33 3-127 3 81 2-9 3-16 3 99 3-11 2-83 3-15 3 76 2 15 3 16 3-54 2-80 3-4 3-6 2 95 3-28 3-139 3 114 2-66 3-17 3 147 2-153 3 116 3-57 2 61 3 27 3-36 2-42 3-48 3 89 2 42 3-47 3 22 3-125 2 20 3 82 3-33 2 58 3 63 3-62 2-93 3 48 3 68 2-67 3 111 3-150 3 8 2 49 3-19 3 100 2-117 3 33 3-19 2 25 3-48 3 59 2 53 3-39 3-48 2-101 3 163 3-122 3 69 2-98 3 177 3-55 2-11 3 13 3-79 2-23 3-96 3 170 2 6 3 45 3-20 2-44 3 44 3-16 3-61 2 75 3-73 3 116 2-7 3-46 3-24 2-154 3 244 3-71 2-24 3 7 3-2 3 97 2 28 3-47 3-55 2-32 3 44 3-75 2-12 3 19 3 70 2-38 3 30 3-15 2 39 3-88 3 68 3 39 2 3 3-4 3-55 2-18 3 48 3-105 2 35 3 59 3 61 2-88 3-54 3 62 3-45 2 74 3-42 3 106 2-124 3 96 3-72 2-39 3 33 3 56 2 39 3-122 3 36 2-44 3 67 3 14 3-35 2-59 3 133 3-84 2-41 3 74 3-22 2-42 3 14 3-40 2 97 3-44 3-41 2-17 3 160 3-47 3-36 2-16 3-60 3 62 2-15 3 59 3-119 2 2 3 125 3-30 2 0 3 21 3-70 3-16 2 60 3 21 3-41 2-78 3 84 3-1 2-51 3 27 3 70 2-70 3-90 3 58 2 91 3 18 3-92 3 14 2 65 3-46 3 45 2-60 3 53 3-89 2 108 3-128 3-48 2 103 3 1 3-6 2 9 3-63 3 64 3 37 2-44 3 14 3-95 2 17 3-63 3 39 2 30 3-49 3 66 2 0 3-83 3 107 3 9 2 43 3-27 3-19 2-10 3 23 3-120 2 49 3 69 3 104 2-222 3 65 3-15 2 88 3-88 3-41 3 60 2-69 3-129 3 221 2-193 3 109 3 61 2-34 3 29 3-20 2-5 3 29 3-143 3-59 2 256 3-60 3-41 2-144 3 119 3 140 2-247 3 199 3 10 2-256 3 154 3 87 2-58 3-36 3 76 3 30 2-102 3 25 3 15 2-14 3-115 3 160 2-15 3-111 3 133 2 15 3-39 3-39 2 79 3-26 3-47 3 71 2-54 3 50 3-150 2 241 3-7 3-52 2-123 3-12 3 132 2-6 3-100 3 118 3-77 2 17 3 51 3 4 2 36 3-85 3 17 2 46 3-91 3-15 2 129 3-72 3 40 2-42 3 19 3-51 3 132 2-55 3 72 3-13 2-15 3 9 3-102 2 37 3-49 3 72 2 21 3 9 3-71 3 105 2 46 3-36 3-173 2 124 3-145 3 136 2-29 3-62 3 36 2-6 3 67 3 75 2-35 3-82 3 79 3-114 2 105 3-42 3 9 2 38 3-113 3 99 2-72 3 58 3 15 2-178 3 192 3 75 2-110 3-78 3-10 3 18 2 141 3-156 3 1 2 138 3-35 3 22 2-118 3 22 3 3 2 65 3 77 3-170 3 86 2 6 3 26 3-108 2 130 3-18 3 17 2-33 3 12 3-40 2-4 3-10 3 56 2-6 3-112 3 67 3-41 2 47 3 51 3-39 2 19 3-28 3 14 2-14 3-121 3 37 2 121 3-77 3 32 3 25 2-71 3 19 3-95 2 132 3-7 3-37 2 58 3 63 3-70 2 16 3 55 3-78 2-23 3 36 3 26 3-34 2-9 3-4 3 64 2-71 3-54 3 114 2-52 3 78 3-35 2-103 3 89 3 26 2 14 3-24 3-66 3 9 2-18 3 142 3-149 2 24 3 1 3-27 2 6 3 92 3-20 2 29 3 16 3-25 3-68 2 56 3-84 3 158 2-83 3-44 3-2 2 60 3-52 3 47 2-51 3 47 3 11 2-23 3-86 3 101 3 22 2 20 3-42 3-59 2 61 3-15 3-41 2 22 3-42 3 85 2-40 3 16 3-29 2 10 3-16 3 45 3-11 2 5 3-49 3 74 2-51 3 18 3 9 2-52 3 20 3-13 2 66 3-55 3-30 3 1 2 67 3-145 3 118 2 37 3-112 3 125 2-166 3 111 3 53 2-35 3-50 3 9 2 54 3-67 3 28 3 20 2-43 3 10 3 125 2-95 3 48 3-10 2-116 3 81 3-26 2-6 3 65 3 26 3-28 2-34 3-106 3 57 2 82 3 14 3-43 2 71 3 20 3-83 2-48 3-83 3 131 2-61 3 68 3 19 3 8 2 16 3-73 3 53 2 27 3-37 3-3 2-72 3 17 3 26 2 50 3-73 3-1 2-38 3 69 3 55 3-44 2-48 3-4 3-37 2 114 3-24 3-2 2 38 3-66 3-27 2 80 3-33 3-89 3 77 2-32 3 64 3-94 2 30 3 132 3-170 2 127 3-4 3-22 2-37 3-5 3 61 2-29 3 5 3-24 3 61 2-18 3-77 3 52 2-15 3 21 3 12 2 13 3-45 3-24 2 9 3 18 3 3 3-34 2 79 3-34 3-76 2 51 3-19 3 44 2-9 3-152 3 165 2-3 3 62 3-123 2 118 3-68 3-59 3 31 2 4 3 107 3-100 2 54 3 56 3-25 2-106 3-14 3 61 2 40 3-80 3 98 2 3 3-114 3 48 3-111 2 154 3-74 3 69 2-15 3-28 3 59 2-58 3-23 3 82 2-64 3 52 3-43 3 38 2 43 3-41 3-100 2 89 3-67 3 69 2-52 3 64 3-89 2 1 3 64 3-10 2-3 3-15 3 27 3-45 2-8 3 92 3-15 2-6 3-1 3-70 2 71 3-30 3-40 2 47 3-5 3 17 3-7 2 6 3 13 3-37 2 3 3-1 3-53 2 144 3-73 3-39 2 54 3-32 3 14 2-32 3 50 3-9 3-36 2 40 3-105 3-40 2 208 3-82 3 17 2-52 3 70 3-31 2 32 3-143 3 87 2 27 3-55 3-9 3 99 2-93 3 113 3-57 2-1 3 21 3-46 2 44 3-30 3-29 2 59 3-38 3 6 3-81 2 80 3-49 3 95 2-45 3-11 3-10 2 44 3 0 3-82 2 40 3-5 3 56 2-52 3 16 3-20 3-69 2 140 3-84 3 31 2-2 3 53 3-79 2 41 3 20 3-44 2-15 3 49 3 54 2-43 3-50 3 53 3-88 2 23 3 41 3-6 2-14 3 18 3 27 2-28 3 52 3-58 2-5 3-25 3 49 3-78 2 84 3 6 3-31 2-60 3 55 3-75 2 110 3 17 3-56 2 87 3-145 3 100 2-14 3-14 3 27 3 52 2-99 3 37 3-31 2-40 3 12 3 94 2-47 3 15 3-110 2 92 3 5 3-29 3 13 2-20 3 54 3-15 2-19 3 2 3 54 2-58 3 1 3-5 2-46 3 82 3 13 2 43 3-98 3-17 3 12 2 61 3-21 3-73 2 52 3 3 3 45 2-22 3 24 3-17 2 4 3-76 3 113 2-86 3 26 3 37 3-66 2 57 3-8 3-12 2 45 3-71 3 2 2 6 3-59 3 46 2 96 3-7 3-146 3 132 2-44 3 0 3 12 2 22 3-76 3 35 2 55 3-46 3 18 2-4 3-17 3-72 2 82 3-29 3 67 3-5 2-93 3 50 3 11 2 40 3-91 3 45 2 19 3 34 3-27 2-44 3-19 3-2 3-20 2 108 3-107 3 25 2-16 3 62 3-45 2 31 3-50 3 70 2-72 3-8 3 55 2-17 3 49 3-109 3 121 2-16 3 44 3-135 2 43 3 10 3 30 2 2 3-37 3-15 2 71 3-15 3-9 2-21 3-51 3 10 3 109 2-225 3 67 3 82 2 35 3-93 3 56 2 15 3 10 3-16 2-36 3 36 3-70 3 65 2 31 3-70 3 38 2 0 3 9 3 14 2-64 3 15 3 35 2-58 3 38 3 0 2 10 3 79 3-70 3-9 2 25 3 4 3 9 2-30 3-13 3-44 2 37 3 15 3-5 2-44 3 106 3-75 3-12 2 45 3 0 3 15 2-15 3-9 3 5 2-35 3 7 3 25 2-4 3 13 3-40 2 66 3-33 3 15 3-68 2 71 3-111 3 96 2 20 3 47 3-62 2-68 3 53 3-9 2 0 3-4 3 37 2-22 3-5 3-2 3-57 2 51 3 6 3 53 2-61 3-34 3 58 2 25 3-12 3-36 2 50 3-50 3 6 3-26 2 55 3-109 3 107 2-7 3-68 3-12 2 112 3-44 3 52 2-85 3-8 3 13 2 16 3 44 3-4 3 8 2-80 3-42 3 97 2-28 3 43 3-20 2 33 3-12 3-41 2 22 3 36 3-150 3 46 2 89 3-10 3-12 2-29 3 47 3-7 2 36 3 11 3-61 2-44 3-44 3 88 2 12 3-35 3 44 3-74 2 38 3-106 3 63 2 42 3 47 3-13 2 27 3-13 3-26 2-93 3 90 3-8 2 11 3-77 3 64 3-34 2 68 3-2 3-27 2-51 3 12 3 7 2 88 3-52 3-76 2-38 3 120 3 10 3-40 2-39 3 56 3 36 2-41 3-57 3 14 2 68 3 22 3-60 2-28 3 91 3-95 2 18 3 21 3 8 3 57 2-6 3-92 3-6 2 45 3 20 3-80 2 105 3-42 3-25 2 15 3-90 3 84 2 21 3 20 3-56 3 79 2-17 3-5 3-73 2 79 3-5 3-74 2 51 3-46 3 6 2-10 3 33 3-43 3 87 2 15 3-79 3 50 2-33 3-27 3-23 2 21 3 23 3 24 2 6 3-8 3 20 2-5 3 6 3 9 3-10 2 10 3-34 3-63 2 50 3 12 3-24 2 2 3 9 3-15 2 5 3 29 3 42 3-40 2-11 3 58 3-13 2-46 3 17 3-25 2-40 3 30 3 25 2-20 3-14 3 54 2-30 3-39 3 46 3 6 2 6 3-35 3 60 2 45 3-44 3-84 2 58 3-58 3 31 2 65 3-97 3 61 2 11 3-83 3 79 3-58 2-2 3 52 3-43 2-7 3-49 3 76 2-13 3 51 3 9 2-22 3-9 3-61 3 68 2 58 3-101 3 18 2-41 3 94 3-31 2-6 3 41 3-22 2-108 3 116 3 23 2-87 3 68 3 12 3-126 2 40 3 66 3-138 2 55 3 38 3 32 2-41 3-55 3 28 2 40 3 54 3-93 3 79 2 31 3-77 3-59 2 105 3-88 3 108 2 24 3-71 3 25 2-39 3-9 3 3 2 85 3-63 3 44 3-28 2-39 3 12 3 90 2-102 3-26 3 15 2 22 3-30 3-2 2 54 3-44 3 85 2-94 3 5 3 29 3-24 2 42 3-77 3 133 2-127 3 9 3 56 2 1 3-89 3 81 2 31 3 45 3-104 3 33 2 22 3-16 3 7 2-13 3-89 3 137 2-81 3-45 3 0 2 48 3 51 3-59 2 47 3 37 3-75 3-34 2-5 3 66 3-51 2-31 3 41 3 5 2 40 3-20 3 87 2-99 3-8 3-7 3 72 2 28 3-133 3 46 2 47 3-71 3 139 2-83 3 13 3-43 2-26 3-5 3-4 2 76 3 5 3-58 3 50 2-18 3 15 3-71 2-35 3 116 3-141 2 98 3 64 3-50 2 6 3-31 3 5 2-2 3-3 3 4 3-43 2 41 3-67 3 106 2-4 3-80 3 66 2 34 3-105 3 139 2-143 3 7 3 87 3 21 2-36 3-53 3 95 2-81 3 76 3-2 2-56 3-105 3 123 2-104 3 107 3-11 2 23 3-91 3 50 3-1 2-6 3-2 3 112 2-87 3 33 3-83 2 16 3-11 3 72 2-49 3-76 3 64 2-111 3 69 3 26 3-149 2 195 3-25 3 48 2-97 3-32 3 68 2 28 3-22 3-14 2-46 3 138 3-5 3-89 2-6 3-9 3-56 2 139 3-63 3-47 2 127 3-71 3-53 2 43 3-12 3 63 2-172 3 52 3 81 3 18 2 40 3 17 3-111 2 86 3-20 3-133 2 60 3-40 3 106 2 2 3-123 3 123 3-27 2 51 3-84 3-8 2-40 3 159 3-14 2-21 3 51 3-20 2-146 3 28 3 58 2-17 3 41 3-118 3 78 2 7 3 79 3-55 2 76 3-197 3 81 2-51 3 29 3 2 2-49 3 108 3 73 2-57 3-34 3 64 3-24 2-19 3 29 3-20 2 20 3 40 3-76 2-38 3 102 3-100 2 10 3 24 3 17 3-20 2 1 3 54 3-78 2 2 3-19 3-53 2 82 3 21 3 16 2-7 3 22 3-28 2 65 3-201 3 100 3 7 2-32 3 50 3-75 2-7 3-23 3 1 2 159 3-48 3 77 2-146 3 70 3 53 3-26 2 2 3 32 3-99 2 30 3 22 3-6 2-54 3 30 3 79 2-40 3-67 3-11 2-10 3-110 3 158 3-62 2 204 3-150 3-12 2-37 3 27 3 13 2-32 3 61 3 9 2-23 3 24 3-47 2 81 3-94 3 9 3 137 2-73 3-36 3 5 2-1 3-48 3 59 2 66 3 18 3-39 2 48 3-89 3 18 3 32 2-5 3-40 3-32 2-41 3 20 3 75 2-62 3 8 3 58 2-29 3 39 3-94 2 119 3-5 3-41 3 39 2-14 3-12 3-72 2 83 3-11 3 33 2-37 3-52 3 35 2-26 3 57 3-27 3-31 2 3 3 2 3 64 2-61 3-56 3 49 2 69 3-28 3-94 2 101 3-41 3-12 2 49 3-19 3 4 3 43 2 12 3-42 3 27 2-65 3 35 3 10 2-17 3-54 3 92 2-23 3 15 3-20 2-7 3 36 3-21 3 29 2-56 3 12 3 57 2-47 3 6 3-9 2-18 3 37 3 37 2-44 3-54 3 64 3-131 2 131 3-95 3 30 2-2 3-25 3 49 2-9 3 71 3-80 2 53 3-43 3 3 2 97 3-46 3-25 3-110 2 136 3 4 3-33 2-43 3 8 3 17 2 11 3 4 3 53 2-67 3 28 3 50 2-42 3 27 3-77 3 27 2 17 3-11 3-36 2 79 3-45 3 20 2 1 3-39 3 37 2-89 3-6 3 26 3-5 2 72 3-27 3 35 2 54 3-140 3 22 2 32 3 56 3-8 2-73 3 49 3-33 2-13 3 20 3 25 3-15 2-44 3 18 3 25 2-71 3 128 3-66 2 6 3 10 3-32 2 51 3 21 3-34 3 5 2 6 3 56 3-103 2-28 3 61 3 21 2-32 3-16 3 30 2 40 3-18 3-28 2-8 3 3 3 57 3-96 2 67 3-31 3 13 2-52 3 35 3 23 2-51 3 31 3 23 2 15 3-106 3 99 2 27 3-20 3-23 3-35 2 40 3 3 3-2 2-37 3-4 3 62 2 21 3-103 3 14 2 3 3 40 3 14 3-19 2 16 3-72 3 56 2 32 3-45 3 57 2 18 3-63 3-39 2-20 3 88 3-19 2-7 3 43 3-3 3-69 2 88 3-74 3-63 2 42 3 49 3 3 2-12 3-4 3 61 2-1 3-67 3-37 3 44 2 34 3-5 3-58 2-33 3 62 3-54 2 57 3-11 3-20 2 3 3-20 3 50 2 45 3-70 3 17 3 66 2-67 3 14 3-34 2 46 3-100 3 23 2 44 3 78 3-46 2-74 3 36 3-6 2 79 3-37 3 12 3 10 2-70 3 47 3-18 2-23 3 64 3-39 2 29 3 2 3-87 2 63 3-1 3-67 3 10 2 51 3 6 3 21 2-39 3-40 3 110 2-90 3 54 3-69 2 50 3-23 3 52 2 35 3-29 3-22 3-29 2 40 3-42 3 69 2-44 3 27 3-61 2 86 3-133 3 20 2 52 3 22 3-28 3-42 2 46 3-11 3 40 2 2 3 1 3-11 2-11 3 32 3-15 2 28 3-128 3 52 2 44 3-22 3 16 3-60 2 9 3 50 3 28 2-87 3 64 3-17 2 18 3 4 3-54 2 43 3 31 3-92 2 0 3-20 3 65 3-16 2 38 3-28 3 47 2-27 3-35 3 6 2 11 3-51 3 49 2 63 3-98 3-11 3 106 2-101 3 69 3-64 2 1 3 67 3 8 2-102 3 118 3-101 2 9 3 31 3-15 2-31 3 86 3 31 3-33 2 7 3-16 3-5 2 15 3 9 3-49 2 30 3 40 3-34 2-21 3 34 3-26 3-22 2-23 3 59 3-47 2 66 3-23 3 41 2-42 3-60 3 69 2-3 3-38 3 3 2-11 3 33 3-41 3 20 2 42 3 27 3-58 2 54 3-51 3 4 2 25 3-8 3-30 2 16 3 21 3-36 2 38 3-61 3 37 3 32 2-72 3 2 3-44 2 39 3 7 3 59 2-38 3-30 3-14 2 33 3 13 3-9 3 0 2 1 3-82 3 38 2 114 3-62 3-42 2 72 3-41 3 11 2 50 3-70 3-57 2 54 3-39 3 86 3-4 2-31 3 58 3-27 2-47 3-39 3 53 2-21 3 109 3-137 2 22 3 69 3-15 2-45 3 65 3-11 3 18 2-12 3 17 3-18 2-3 3-97 3 69 2 8 3-36 3-26 2 62 3-28 3 60 3-21 2 34 3-114 3 52 2 1 3-3 3-56 2 51 3 67 3-110 2 90 3-78 3 65 2-9 3 18 3-42 3 68 2-84 3 45 3 17 2 17 3-26 3 31 2-33 3 20 3 28 2-102 3 40 3-59 3 51 2-70 3 88 3 2 2-17 3-4 3 45 2-36 3-49 3 53 2 33 3-105 3 39 2 49 3-10 3 53 3-65 2-44 3 72 3 3 2-103 3 51 3-57 2 71 3-32 3 0 2 36 3-57 3 58 2-45 3-19 3 47 3 22 2-38 3 18 3-20 2-12 3 62 3-21 2 46 3-100 3 8 2 66 3-23 3 51 3-51 2 59 3-17 3-35 2 11 3-50 3 35 2 30 3 17 3-1 2-46 3-32 3 15 2-18 3 42 3-27 3 56 2-9 3-43 3 1 2 47 3 10 3-21 2 54 3-52 3-6 2 45 3-56 3-23 3 34 2 2 3 51 3-50 2 11 3-7 3-40 2 17 3 63 3-43 2-48 3 16 3 88 2-66 3 19 3-2 3 13 2-63 3 30 3-22 2 4 3-6 3-10 2 34 3-11 3 4 2 26 3-70 3 92 2-104 3 121 3-52 3 6 2-40 3 7 3 18 2 40 3-140 3 103 2 10 3-57 3-44 2 84 3-62 3 15 3 49 2 40 3 8 3-85 2 22 3 43 3-86 2 7 3 23 3 11 2 42 3-13 3 17 2-49 3 20 3-7 3-31 2 10 3 59 3 24 2-20 3 5 3-44 2-17 3-20 3 32 2-24 3 36 3-26 3 36 2-79 3 112 3-21 2 23 3-33 3-90 2 103 3-7 3-34 2 44 3-52 3-5 2 57 3-73 3 47 3-11 2 16 3 6 3-5 2 39 3-51 3 29 2-31 3 7 3 32 2-67 3 3 3 35 2 41 3-88 3 41 3-63 2 36 3-10 3-46 2 48 3 70 3-60 2 107 3-102 3 45 2-102 3 16 3 25 3-12 2 4 3 80 3-10 2 10 3-82 3 45 2-6 3-11 3-20 2 62 3 4 3 10 2 0 3-28 3-65 3 58 2 43 3 0 3-102 2 66 3 22 3 0 2-76 3 7 3 9 2-26 3 29 3-22 2-100 3 64 3-45 3 151 2-158 3 27 3 104 2-88 3 64 3 58 2-31 3-89 3 24 2 4 3-64 3 57 3 39 2 64 3-149 3 107 2-70 3 71 3-36 2-47 3 26 3-114 2 138 3-14 3 5 2-125 3 154 3-48 3 46 2 4 3 36 3-68 2-51 3 52 3-105 2 110 3-18 3-55 2 73 3 73 3-73 3-1 2 25 3-64 3 78 2 5 3-117 3 12 2 62 3 0 3 82 2-205 3 71 3 77 2-93 3-53 3 133 3-209 2 211 3-161 3 136 2-163 3 126 3-38 2 78 3-98 3 84 2 7 3 51 3-5 2-36 3-47 3 92 3-37 2-105 3 141 3-72 2 33 3-45 3 82 2 53 3-105 3-73 2 79 3-32 3 80 3 28 2-35 3 54 3-68 2-25 3 50 3-20 2-48 3 24 3 73 2-102 3 89 3-18 2 5 3-10 3-124 3 119 2 7 3-34 3-7 2 37 3 15 3 2 2-1 3-37 3 18 2-44 3 33 3 62 3-65 2 45 3 39 3-19 2 11 3-62 3-12 2-18 3 90 3-63 2 39 3 38 3-107 2 28 3 26 3-60 3-30 2 70 3 16 3 6 2-88 3 35 3 101 2-35 3-65 3 54 2 31 3-13 3 3 2-94 3 11 3 68 3-23 2-32 3 50 3-6 2-69 3 48 3 19 2-29 3 66 3-4 2-69 3 57 3-14 3 12 2-54 3 14 3 20 2-45 3 24 3 33 2 3 3-6 3-6 2-48 3 67 3-13 2-18 3 40 3-27 3-46 2 33 3-59 3 100 2-52 3 49 3 23 2-19 3-48 3 31 2-21 3-17 3 36 3-10 2-40 3-33 3 58 2 21 3 19 3-23 2-19 3-24 3 56 2 7 3-44 3 56 2-44 3 8 3-5 3-38 2-22 3 131 3-66 2-9 3 22 3 56 2-101 3-44 3 60 2-37 3 59 3-5 2 29 3 7 3-34 3 28 2-42 3 21 3 35 2-62 3 43 3-37 2 68 3-91 3 95 2-48 3-50 3 40 3 20 2 13 3-38 3 5 2-11 3 11 3-46 2 68 3-81 3-8 2 100 3-39 3-22 2 102 3-54 3-36 3 56 2-44 3 29 3-79 2-21 3 97 3-36 2-12 3 3 3 28 2 12 3-32 3 57 2-52 3-42 3 29 3-31 2 71 3-49 3 77 2-23 3 13 3-71 2 56 3-63 3 46 2 5 3-14 3 26 3 12 2-3 3 28 3-78 2 34 3-22 3 26 2-41 3-8 3 35 2 13 3 5 3 21 2-54 3 53 3-64 3 13 2 0 3 28 3-86 2 27 3 12 3-6 2-25 3 114 3 1 2-80 3-16 3 31 3 70 2-101 3 54 3-25 2 40 3-86 3 110 2-79 3 50 3-88 2 69 3-52 3 73 2 15 3-91 3 54 3 63 2-59 3-12 3 3 2-32 3 71 3 27 2-94 3-5 3 18 2 62 3-1 3-7 2-10 3 17 3-29 3-20 2-7 3 14 3-20 2 1 3 31 3-39 2 48 3 25 3-40 2 39 3-40 3 25 3-49 2 52 3-7 3-48 2 63 3-80 3 80 2-45 3-23 3 7 2 12 3-66 3 73 2 24 3 19 3-48 3 9 2 26 3-23 3-34 2 29 3-60 3 95 2-9 3-34 3-15 2 40 3-43 3 14 3 43 2 9 3-105 3 126 2-87 3 32 3 6 2-19 3 13 3 28 2-61 3 31 3-9 2 61 3-144 3 114 3-5 2-53 3-1 3 69 2-16 3-3 3-55 2 74 3-40 3 10 2-24 3-18 3 45 2-46 3 32 3-37 3 65 2-47 3 50 3-63 2 37 3-39 3 82 2-26 3-61 3 43 2-4 3-3 3-49 3 44 2 33 3-34 3-5 2 63 3-30 3 24 2-44 3 22 3-19 2 6 3 20 3-109 2 106 3 19 3-68 3-9 2 66 3 2 3-34 2-55 3 79 3 23 2 16 3-35 3-9 2 35 3-7 3-53 3 31 2-20 3 28 3-83 2 49 3 22 3-27 2 37 3 4 3-80 2 90 3-34 3 41 2-34 3 9 3-11 3 0 2 22 3-24 3 38 2-67 3 33 3-30 2 10 3 17 3 35 2-38 3-46 3-32 2 8 3 1 3 86 3-47 2 65 3-28 3 22 2-24 3 2 3 31 2-3 3-3 3-66 2-18 3 99 3-4 3-84 2-8 3 30 3-35 2 50 3-19 3 30 2 5 3-28 3 58 2-46 3 25 3-75 2 104 3-67 3 66 3-60 2-30 3 66 3-34 2 20 3 16 3 1 2-32 3-23 3 23 2-7 3-1 3 18 3 18 2-28 3-27 3 16 2 56 3-96 3 67 2-19 3-3 3 23 2-25 3-26 3 4 2 40 3-47 3 90 3-32 2 25 3-69 3 42 2-61 3 45 3 31 2-53 3 18 3-57 2 114 3-44 3-9 2 23 3 22 3-76 3 44 2-44 3 59 3-24 2 21 3-33 3 35 2-98 3 88 3-46 2 25 3 19 3 33 3-66 2-5 3-21 3 56 2-12 3 16 3-35 2 8 3 24 3 39 2-118 3 87 3 7 2-32 3 12 3-19 3 40 2-3 3 6 3-9 2-21 3-62 3-19 2 69 3 9 3-30 2 12 3-26 3 32 2 41 3-66 3 11 3 4 2 55 3-27 3 25 2-9 3-7 3-6 2-12 3 11 3 49 2-1 3-28 3-49 3-3 2 40 3 37 3-7 2-33 3 29 3-85 2 73 3-71 3 36 2 31 3 15 3-54 2-22 3 37 3-20 3 69 2-102 3 27 3 18 2-33 3 41 3 36 2-39 3-50 3 12 2 82 3-27 3-31 3 65 2-51 3-43 3 88 2-55 3 7 3 34 2-44 3 8 3 6 2-21 3 17 3 28 2 7 3-42 3 39 3 0 2-47 3 43 3-31 2 24 3 13 3-28 2-18 3 69 3-58 2-47 3 10 3 5 2-8 3 42 3 3 3-29 2 59 3-100 3-2 2 46 3 41 3-70 2 62 3-40 3-17 2 93 3-42 3-10 3-15 2 50 3-42 3 66 2-67 3 15 3-31 2-36 3 105 3-101 2 98 3-67 3 30 2 41 3-84 3 44 3 6 2 10 3 7 3-20 2 15 3 2 3 5 2-27 3 31 3-19 2 14 3-23 3-10 3-13 2 8 3 21 3-3 2-41 3 73 3-80 2 53 3 22 3-10 2 1 3 46 3-97 2-37 3 48 3-3 3 14 2-37 3 28 3 6 2-14 3 39 3-16 2-20 3 66 3-86 2 56 3-20 3 36 2-2 3 4 3-57 3 29 2 2 3-62 3 75 2 3 3 7 3-84 2 76 3-44 3 9 2 30 3-51 3 50 3-61 2 40 3-6 3-22 2 63 3-55 3 31 2-34 3 45 3 17 2-30 3-35 3 24 2-5 3 26 3 48 3-75 2 29 3 1 3 38 2-106 3 58 3 33 2-28 3 5 3-24 2 60 3-26 3-26 3 8 2-43 3 76 3-84 2 80 3-42 3 34 2 12 3-27 3 23 2-16 3-13 3-14 2-11 3 27 3 20 3-22 2 5 3 9 3-70 2 70 3-77 3-20 2 42 3 35 3 0 2 4 3-59 3 12 2 44 3 8 3-14 3 23 2-53 3 1 3 29 2-16 3 55 3-36 2-14 3 43 3-55 2 32 3 43 3-26 3-13 2 25 3-77 3 65 2-47 3-11 3 88 2-56 3 1 3-26 2 74 3-13 3 27 2-65 3 14 3-21 3 37 2-6 3 20 3-92 2 15 3 27 3 11 2-15 3 46 3 14 2-14 3-76 3 65 2-56 3 65 3-5 3-23 2-20 3 13 3 57 2-47 3-63 3 60 2 36 3-34 3 43 2-64 3 46 3 11 3-98 2 92 3-14 3-3 2 19 3-87 3 24 2 7 3 54 3-48 2-11 3 81 3-73 2 68 3-35 3-61 3 78 2-26 3 7 3-10 2 45 3-60 3 18 2-41 3 59 3-77 2-6 3 42 3-30 3 51 2 18 3-12 3-36 2-15 3 47 3 7 2-32 3 36 3 26 2-48 3 3 3-41 2 48 3 20 3-26 3-40 2 0 3 3 3 74 2-66 3 22 3 54 2-57 3 18 3 20 2 0 3-19 3 10 2 16 3 25 3-48 3-65 2 108 3-88 3 74 2-66 3 18 3-25 2 82 3-83 3 69 2-23 3 7 3-6 3-22 2 60 3-35 3-41 2 68 3-29 3 14 2 22 3-47 3 15 2 13 3 2 3-9 2-25 3-69 3 102 3-97 2 42 3 81 3-90 2-31 3 74 3 4 2 16 3-86 3 82 2-71 3 60 3 10 3-18 2 11 3-61 3-31 2 101 3-24 3-8 2-42 3 62 3 38 2-71 3 33 3 16 2 13 3-81 3 93 3-66 2-56 3 63 3 28 2-25 3 41 3-51 2 45 3-26 3 33 2-27 3-19 3-41 2 93 3-49 3-57 3 117 2-20 3-30 3-7 2 1 3-46 3 80 2-33 3 4 3-48 2-81 3 166 3-39 3-15 2-5 3 52 3 9 2-56 3 10 3-18 2-45 3 18 3-5 2-8 3 43 3-35 2 62 3-20 3-15 3-33 2 85 3-3 3-40 2-3 3 33 3-60 2 59 3-13 3-44 2 49 3-27 3-44 3-7 2 24 3-16 3 114 2-41 3-8 3 33 2-80 3 34 3-26 2 11 3 61 3-90 2 76 3-84 3 72 3 4 2 37 3-30 3 20 2-15 3-26 3-49 2-12 3 39 3-8 2 31 3 46 3-38 2-42 3 49 3-18 3-35 2 92 3-52 3 39 2-36 3-10 3 18 2 14 3-37 3-38 2 47 3-1 3-3 3-75 2 124 3-29 3 15 2-46 3-31 3 10 2 47 3-19 3 19 2-27 3 1 3-17 2 41 3 9 3 8 3-19 2-1 3-14 3 25 2 21 3-35 3-54 2 12 3 35 3 5 2-3 3-29 3 39 2-52 3 1 3 55 3-77 2 39 3 29 3 20 2-41 3-19 3 48 2-67 3 88 3 0 2-39 3 39 3-39 3 3 2 17 3-35 3 47 2-25 3 0 3 6 2-96 3 17 3 38 2 35 3-37 3 24 2 59 3-132 3 105 3-92 2 58 3 42 3 12 2-111 3 44 3 40 2 4 3-9 3 6 2-68 3 14 3 42 3-39 2-9 3 57 3 46 2-30 3-53 3-41 2 50 3 25 3-50 2 73 3-12 3 3 2 24 3-79 3 54 3 34 2-83 3 53 3-79 2 48 3 50 3-43 2-44 3-28 3 131 2-83 3 34 3-1 2-26 3 26 3-11 3 11 2 7 3-34 3-26 2 29 3 24 3-46 2-15 3 85 3-47 2-2 3-27 3-23 3 35 2-66 3 124 3-44 2-5 3-21 3-11 2 66 3-46 3 12 2 39 3 15 3-46 2 28 3-9 3-23 3-58 2 28 3-70 3 47 2 93 3 49 3-116 2-3 3 47 3 27 2 19 3-100 3-28 3 75 2-23 3-116 3 138 2-16 3-20 3 58 2-89 3-2 3 79 2-86 3 83 3 55 2-82 3-33 3 38 3-44 2-41 3 111 3-34 2-114 3 57 3 49 2-76 3 53 3 38 2-6 3-10 3-1 2 41 3-122 3 102 3-42 2 24 3 27 3-17 2 52 3-90 3-38 2 6 3 134 3-108 2-29 3 4 3-10 3 36 2-15 3 34 3-15 2-40 3 33 3-37 2 79 3-36 3 46 2-75 3-82 3 5 2 49 3 98 3 22 3-117 2 75 3-29 3-45 2 20 3 50 3-30 2 16 3 37 3-64 2-15 3 28 3 13 3-39 2-10 3-17 3 70 2-115 3 32 3 107 2-186 3 118 3 25 2-38 3 118 3-148 2 81 3-18 3 23 3-21 2 68 3-58 3-83 2-6 3 122 3-16 2-88 3 30 3 28 2 21 3 3 3 6 2-47 3 0 3-50 3 18 2 14 3 68 3 19 2-20 3 63 3-103 2 11 3 51 3 17 2-12 3 10 3-52 3 26 2-70 3-3 3 58 2 64 3-5 3-53 2-22 3 73 3-17 2-36 3-44 3 46 2-32 3 108 3-97 3 39 2-105 3 110 3-46 2 68 3-77 3 43 2 72 3-61 3 19 2-91 3 110 3 13 3-81 2 32 3-52 3 124 2-85 3 18 3 23 2-31 3-39 3 18 2 69 3 9 3-50 2-6 3-54 3 106 3-103 2 52 3 33 3-19 2-5 3 21 3 9 2 11 3-41 3-22 2 0 3-34 3 113 2-101 3 82 3 1 3-79 2 122 3-24 3-68 2-20 3 2 3 80 2-67 3-75 3 92 2 20 3-32 3 21 3-31 2 23 3 14 3-32 2-23 3 59 3-25 2 5 3 40 3 13 2-49 3-35 3 75 2-89 3 87 3-19 3-6 2 26 3-56 3-31 2 75 3-74 3 76 2-9 3 36 3-18 2 9 3-36 3-38 2 69 3-106 3 108 3-93 2 119 3-87 3 42 2-31 3 19 3 54 2-149 3 57 3 34 2-41 3 51 3 3 3 31 2-102 3 60 3 28 2-63 3 103 3-60 2-46 3 12 3 94 2-43 3 21 3-18 2-10 3-16 3-8 3-34 2-9 3 83 3 31 2-115 3 81 3 34 2-69 3 9 3-12 2 16 3-15 3-10 3 70 2-40 3-1 3-37 2 35 3 0 3-29 2 27 3-84 3 39 2 90 3-93 3 37 2-29 3 50 3-80 3 17 2 75 3-14 3 40 2-29 3-32 3 44 2-51 3 51 3-32 2-58 3 13 3 77 2-44 3 10 3 22 3-21 2-38 3-21 3 77 2-30 3-9 3 43 2 4 3-105 3 31 2 84 3-60 3 5 3 20 2-8 3-56 3 70 2 4 3-18 3-5 2-32 3 16 3 69 2-28 3-43 3 68 2-25 3 23 3-70 3 25 2-6 3 13 3-28 2 47 3-26 3-92 2 117 3-21 3-36 2-48 3 27 3 100 3-18 2 11 3-60 3 30 2 20 3-60 3 6 2 36 3-9 3 17 2-21 3 42 3-40 2-26 3 38 3-102 3 60 2-39 3 61 3 44 2-15 3-63 3 53 2 13 3-78 3 79 2 21 3-90 3 70 2-3 3 19 3-69 3 18 2 27 3-47 3 53 2-58 3 27 3-44 2 61 3-22 3-1 2 29 3 22 3 28 3-19 2-29 3 9 3-16 2 17 3-88 3 11 2 47 3 8 3 10 2 30 3-56 3-7 2-25 3 66 3-24 3 34 2-18 3-6 3-62 2 58 3 5 3-15 2-14 3 15 3-78 2 43 3 51 3-6 3-1 2-7 3-12 3 64 2-26 3-75 3 62 2 46 3-53 3-5 2 45 3 6 3-26 2-27 3 37 3-47 3 23 2 1 3-42 3 23 2 37 3-144 3 150 2-3 3-34 3-8 2-35 3 73 3 12 2-122 3 52 3 69 3-65 2 2 3 23 3-5 2-17 3 38 3-56 2-5 3-38 3 71 2-8 3 22 3 5 3-54 2 44 3 44 3-37 2-31 3 23 3 16 2 43 3-52 3 21 2-31 3 24 3 7 2 31 3-37 3-13 3 17 2 4 3-16 3 0 2-25 3 21 3 26 2-48 3-39 3 103 2-65 3 14 3-21 2 55 3-50 3 47 3-83 2 98 3 6 3-17 2-35 3 6 3-22 2-61 3 64 3 31 2 4 3-43 3 9 3-26 2 59 3-1 3-5 2 15 3-77 3 39 2 23 3 6 3 12 2-80 3-17 3 27 2-6 3 44 3 57 3-36 2-47 3 50 3-24 2 38 3-15 3 24 2-40 3-28 3-26 2 21 3-47 3 37 3 42 2 2 3-44 3 94 2-98 3-48 3 25 2 122 3-51 3-65 2 69 3 1 3-16 2-47 3-86 3 177 3-12 2-24 3-8 3 28 2 43 3-105 3 18 2 2 3 9 3 52 2-44 3-42 3-3 2 24 3 14 3 35 3-21 2 47 3-111 3 41 2-49 3 56 3-31 2 72 3-85 3 31 2 21 3 42 3-66 3 30 2-23 3 82 3-75 2 37 3-18 3-104 2 132 3-130 3 96 2 10 3-48 3 81 2-142 3 67 3 33 3-87 2 93 3 37 3-86 2 71 3-50 3 13 2 16 3-32 3 11 2 7 3-51 3 28 3 4 2 29 3 22 3-35 2-21 3 17 3 27 2 7 3-60 3 73 2-67 3-9 3 39 2 28 3-53 3 46 3-37 2 28 3-29 3 25 2 16 3-55 3 78 2-115 3 83 3 2 2-45 3 32 3-27 2 12 3-19 3-12 3 63 2 66 3-117 3-32 2 55 3-2 3-16 2-86 3 148 3-22 2 17 3-6 3-89 3 47 2 33 3-57 3-36 2 13 3 75 3-1 2-7 3-51 3 22 2 18 3-47 3 20 2 49 3 25 3-4 3-12 2-34 3 5 3-3 2 12 3-31 3 70 2-17 3-69 3 59 2 5 3-87 3 74 3 5 2-53 3 33 3 50 2 21 3-46 3-46 2 90 3-45 3-14 2-38 3 16 3 20 2 61 3-92 3-26 3 25 2 14 3 21 3-6 2 54 3-39 3-66 2 25 3 58 3-77 2 8 3 15 3 47 2-18 3-84 3 79 3-75 2 66 3-31 3 42 2 29 3-13 3-79 2 89 3-84 3 20 2 23 3-32 3 13 3 50 2-20 3 29 3-24 2 5 3-17 3-24 2 23 3 74 3-40 2 46 3-44 3-12 2-29 3-28 3 98 3-72 2-13 3-49 3 80 2-34 3 98 3-55 2 50 3-121 3 30 2 19 3 29 3-33 2 58 3-17 3-51 3 68 2-48 3-31 3 86 2-102 3 18 3-2 2-1 3 67 3 4 2 1 3-119 3 103 3-11 2 59 3-75 3 29 2-51 3 75 3-75 2 81 3 17 3-79 2 43 3-58 3 54 2-16 3-101 3 114 3-79 2 24 3-26 3 55 2-17 3 29 3-50 2 89 3-2 3-2 2-11 3-58 3 74 3-61 2 35 3-33 3-1 2-17 3 32 3-34 2 23 3 43 3-4 2-89 3 63 3-57 2 67 3 37 3-42 3-39 2-32 3 58 3-9 2-30 3 42 3-23 2 11 3-16 3 63 2 1 3-51 3-26 2 42 3 41 3-26 3-14 2 10 3 10 3 46 2-60 3 9 3 5 2 2 3-58 3 49 2-1 3-22 3-30 3 50 2-29 3-68 3 140 2-83 3-14 3 58 2-53 3 58 3-43 2-46 3 56 3-20 2 59 3-20 3-66 3 19 2 58 3-22 3 47 2-65 3 39 3 30 2-37 3-25 3 39 2-31 3-3 3 29 3-16 2-23 3 0 3 21 2 38 3 26 3-46 2 8 3 0 3-80 2 88 3-35 3-7 2-21 3 11 3-5 3 31 2 35 3-27 3 12 2-12 3-22 3-29 2 47 3-36 3 53 2-35 3-4 3 27 2 16 3 4 3-39 3 10 2-78 3 52 3 58 2-6 3-26 3-48 2 8 3 25 3 6 2 58 3-57 3-1 3 29 2-42 3 44 3-26 2 41 3-74 3-38 2 89 3-77 3 34 2 60 3-70 3 50 2 15 3-45 3 61 3-93 2-1 3 88 3-60 2 45 3-37 3 31 2 17 3-36 3 0 2-10 3 14 3 41 3-49 2 18 3-58 3 16 2 10 3 60 3-18 2 24 3-9 3-2 2-70 3-3 3 66 2-46 3 30 3 37 3-30 2-46 3-1 3 71 2-17 3-32 3-23 2 72 3-47 3-42 2-17 3 92 3-75 2 101 3-23 3-71 3 64 2 7 3-25 3 8 2 20 3-44 3 47 2-35 3-45 3 33 2 54 3 6 3-34 3-30 2 63 3-46 3-12 2 33 3-32 3 7 2 34 3 7 3-80 2 29 3-8 3 32 2 14 3 7 3 7 3-41 2 25 3-25 3 17 2-13 3-38 3 61 2 14 3-55 3 44 2-37 3 6 3 26 3 7 2-11 3-13 3 13 2 1 3 13 3-28 2-45 3 79 3-102 2 68 3 44 3-42 2-16 3 16 3-15 3 30 2-10 3 33 3-3 2-21 3-57 3 45 2 17 3-5 3 19 2-77 3 86 3 2 2-29 3-28 3 23 3-14 2-26 3 57 3-48 2 5 3 46 3-44 2-25 3 3 3 51 2-15 3-10 3-13 3 40 2-8 3-60 3 30 2 27 3 16 3-10 2-28 3 37 3 1 2 21 3-128 3 54 2 61 3-31 3 28 3-43 2 20 3-28 3 37 2-19 3-1 3-42 2 73 3-44 3 23 2-29 3-25 3 37 2 3 3-9 3 38 3-23 2-32 3 57 3-2 2-47 3 7 3 23 2-67 3 97 3-73 2 13 3 69 3-37 3 26 2-10 3 31 3-62 2-8 3 50 3-21 2-58 3 32 3-17 2-22 3 45 3-34 2 1 3 20 3 43 3-11 2-38 3 61 3 1 2-6 3-59 3-1 2 39 3-48 3 58 2 17 3-36 3 39 3-39 2-25 3-16 3 72 2 6 3-6 3-82 2 99 3-67 3 58 2-7 3 3 3-46 2 26 3-16 3 7 3 5 2-29 3 30 3-18 2 10 3 39 3-74 2 2 3 17 3 25 2-38 3 40 3-77 2 86 3-26 3 20 3 12 2 9 3-8 3 11 2-60 3-6 3 51 2-23 3 34 3-60 2 11 3-41 3 57 3-43 2 10 3 3 3 55 2-9 3 23 3-25 2 3 3 5 3 18 2-14 3-50 3-4 2 22 3 7 3-57 3 8 2 49 3-13 3 32 2-61 3 28 3 37 2 23 3-103 3 83 2-22 3-57 3 87 3-111 2 80 3-15 3 25 2-69 3 3 3 11 2 80 3-68 3 50 2 10 3-64 3-24 2 46 3 42 3-7 3-89 2 86 3-11 3-50 2 5 3 41 3 8 2 9 3-65 3 44 2-3 3 13 3 26 2-15 3 11 3-66 3 52 2 5 3 11 3-11 2-77 3 71 3-11 2 5 3 20 3-7 2-38 3 34 3 16 3-87 2 10 3 3 3 42 2 32 3-6 3-41 2 9 3 31 3-65 2 66 3-17 3-2 2-1 3 11 3-27 3 43 2-83 3 67 3-39 2 16 3-3 3-2 2 45 3-35 3-9 2-28 3 20 3-45 3 15 2 54 3-64 3 29 2 44 3-26 3 3 2 7 3-21 3-21 2-20 3 51 3 32 2 1 3 12 3-26 3 10 2-67 3 50 3-8 2-17 3 8 3-34 2 59 3 1 3-46 2 67 3-50 3 4 2 17 3-78 3 62 3-50 2 45 3-19 3 6 2-2 3 3"/>
</g></g>
<g stroke="#000" stroke-width="6.9" stroke-linecap="butt">
<line x1="339.8" y1="1460.2" x2="369.7" y2="1460.2"/>
<line x1="339.8" y1="1226.9" x2="369.7" y2="1226.9"/>
<line x1="339.8" y1="993.6" x2="369.7" y2="993.6"/>
<line x1="339.8" y1="760.4" x2="369.7" y2="760.4"/>
<line x1="339.8" y1="527.1" x2="369.7" y2="527.1"/>
<line x1="339.8" y1="293.9" x2="369.7" y2="293.9"/>
<line x1="339.8" y1="1343.5" x2="354.1" y2="1343.5"/>
<line x1="339.8" y1="1110.3" x2="354.1" y2="1110.3"/>
<line x1="339.8" y1="877.0" x2="354.1" y2="877.0"/>
<line x1="339.8" y1="643.8" x2="354.1" y2="643.8"/>
<line x1="339.8" y1="410.5" x2="354.1" y2="410.5"/>
<line x1="339.8" y1="177.2" x2="354.1" y2="177.2"/>
<line x1="877.6" y1="1577.1" x2="877.6" y2="1547.4"/>
<line x1="1415.5" y1="1577.1" x2="1415.5" y2="1547.4"/>
<line x1="1953.3" y1="1577.1" x2="1953.3" y2="1547.4"/>
<line x1="608.7" y1="1577.1" x2="608.7" y2="1562.1"/>
<line x1="1146.5" y1="1577.1" x2="1146.5" y2="1562.1"/>
<line x1="1684.4" y1="1577.1" x2="1684.4" y2="1562.1"/>
</g>
<rect x="339.8" y="60.9" width="1882.4" height="1516.2" fill="none" stroke="#000" stroke-width="7.4"/>
<g font-family="'Liberation Sans', Arial, sans-serif" font-size="70" fill="#000">
<text x="305.5" y="1479.7" text-anchor="end">0</text>
<text x="305.5" y="1246.4" text-anchor="end">100</text>
<text x="305.5" y="1013.1" text-anchor="end">200</text>
<text x="305.5" y="779.9" text-anchor="end">300</text>
<text x="305.5" y="546.6" text-anchor="end">400</text>
<text x="305.5" y="313.4" text-anchor="end">500</text>
<text x="305.5" y="80.1" text-anchor="end">600</text>
<text x="339.3" y="1664.3" text-anchor="middle" font-size="71.5">20</text>
<text x="877.1" y="1664.3" text-anchor="middle" font-size="71.5">40</text>
<text x="1415.0" y="1664.3" text-anchor="middle" font-size="71.5">60</text>
<text x="1952.8" y="1664.3" text-anchor="middle" font-size="71.5">80</text>
<text x="747" y="768.9" letter-spacing="0.8">(111)</text>
<text x="920.3" y="809.7" letter-spacing="0.8">(200)</text>
<text x="1458.2" y="828.0" letter-spacing="0.8">(220)</text>
<text x="1794.7" y="825.5" letter-spacing="0.8">(311)</text>
</g>
<g font-family="'Liberation Sans', Arial, sans-serif" font-size="100" fill="#000">
<text x="1280.7" y="1809.2" text-anchor="middle" letter-spacing="0.6">2 theta (θ)</text>
<text transform="translate(104.1,1092.5) rotate(-90)" letter-spacing="0.4">Intensity (a.u)</text>
</g>
<g font-family="'Liberation Serif', 'Times New Roman', serif" font-size="43">
<text x="1769.5" y="1365.5" fill="#0000ff">Ag REF (No. 87-0720)</text>
<text x="1768.5" y="1418.5" fill="#ff0000">SDC REF (No. 75-0158)</text>
</g>
<rect x="1473.7" y="123" width="711.7" height="395.4" fill="#000"/>
<rect x="1451.9" y="100.7" width="710.8" height="394.6" fill="#fff" stroke="#000" stroke-width="7.4"/>
<g stroke-width="10" stroke-linecap="round">
<line x1="1463" y1="155.6" x2="1631" y2="155.6" stroke="#9600ff"/>
<line x1="1463" y1="251.7" x2="1631" y2="251.7" stroke="#ff8000"/>
<line x1="1463" y1="347.8" x2="1631" y2="347.8" stroke="#008000"/>
<line x1="1463" y1="443.9" x2="1631" y2="443.9" stroke="#0000ff"/>
</g>
<g font-family="'Liberation Sans', Arial, sans-serif" font-weight="bold" font-size="80" fill="#000">
<text transform="translate(1651.6,182.4) scale(0.9625,1)">Ag100 SDC50</text>
<text transform="translate(1651.6,278.5) scale(0.9625,1)">Ag60 SDC50</text>
<text transform="translate(1651.6,374.6) scale(0.9625,1)">Ag20 SDC50</text>
<text transform="translate(1651.6,470.7) scale(0.9625,1)">Ag20 SDC80</text>
</g>
</svg>
</body></html>
